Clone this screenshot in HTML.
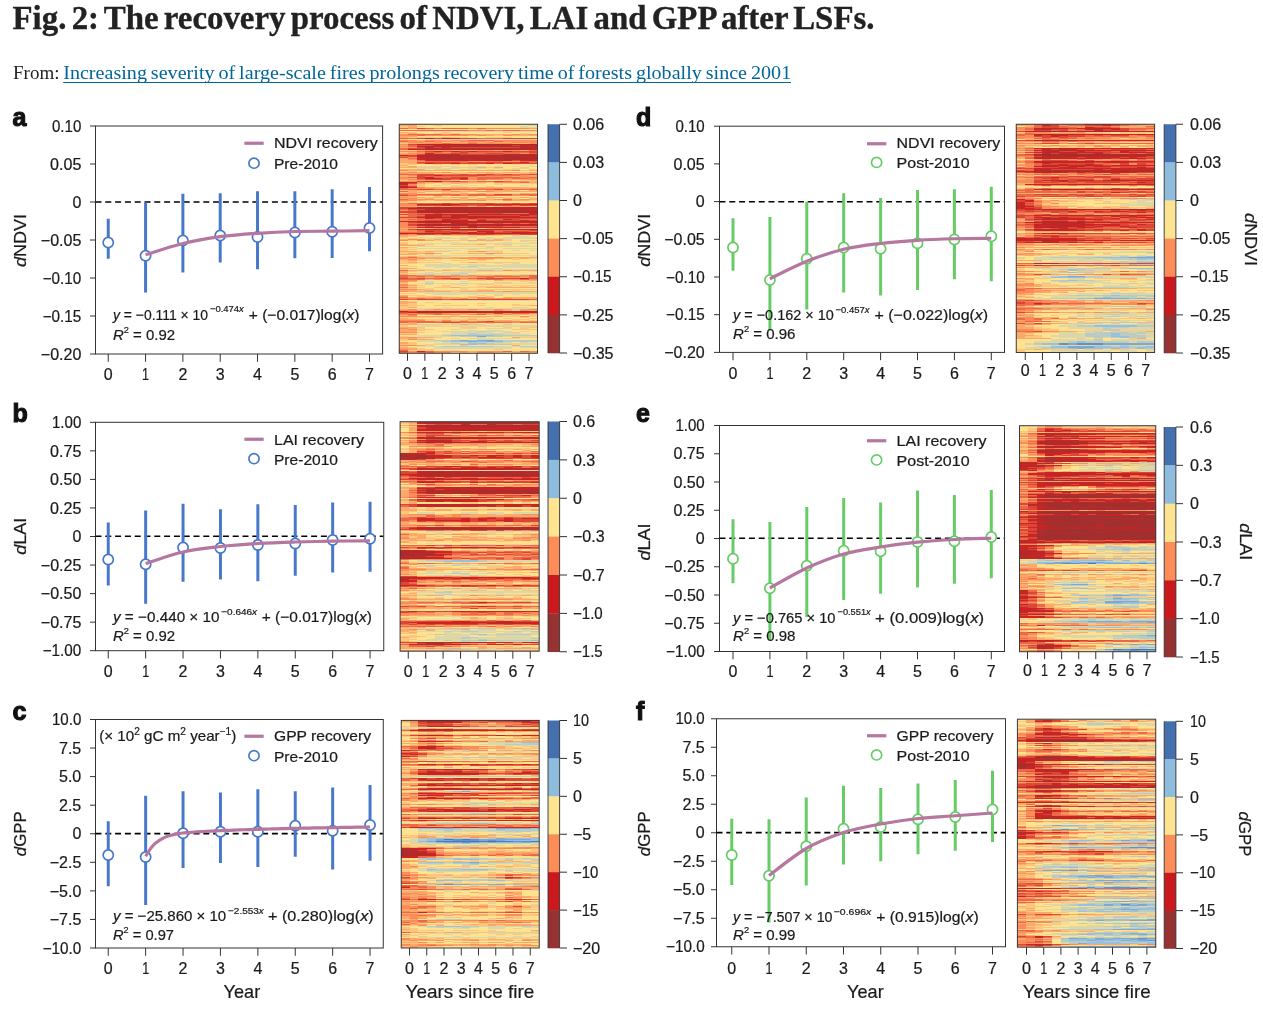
<!DOCTYPE html>
<html><head><meta charset="utf-8"><title>Fig. 2</title>
<style>
html,body{margin:0;padding:0;background:#fff;}
body{width:1263px;height:1015px;overflow:hidden;position:relative;font-family:"Liberation Sans",sans-serif;}
svg{position:absolute;left:0;top:0;display:block;will-change:transform;opacity:0.999}
svg text{font-family:"Liberation Sans",sans-serif;stroke:#1a1a1a;stroke-width:0.22px;paint-order:stroke fill}
svg text.ser{font-family:"Liberation Serif",serif;stroke-width:0}
</style></head><body>
<svg width="1263" height="1015" viewBox="0 0 1263 1015">
<text class="ser" x="12.5" y="29.1" font-size="33.5" font-weight="bold" fill="#222" style="stroke:#222;stroke-width:0.35px" word-spacing="-3" textLength="862" lengthAdjust="spacingAndGlyphs">Fig. 2: The recovery process of NDVI, LAI and GPP after LSFs.</text>
<text class="ser" x="13" y="79.4" font-size="18.3" fill="#222" textLength="46.5" lengthAdjust="spacingAndGlyphs">From:</text>
<text class="ser" x="63.2" y="79.4" font-size="18.3" fill="#006699" word-spacing="-1" textLength="728" lengthAdjust="spacingAndGlyphs">Increasing severity of large-scale fires prolongs recovery time of forests globally since 2001</text>
<path d="M63.2 82.5H791" stroke="#006699" stroke-width="1.1"/>
<g transform="translate(0,124.75) scale(1,1.0002)" stroke-width="1.06" fill="none" shape-rendering="crispEdges">
<path stroke="rgb(160,48,48)" d="M434 20h8M451 20h17M494 20h9M529 20h8.5M477 25h9M494 25h18M425 31h9M503 31h9M434 97h17M451 100h9"/>
<path stroke="rgb(160,48,48)" d="M425 20h9M442 20h9M468 20h26M503 20h26M425 25h9M442 25h9M460 25h8M486 25h8M512 25h17M434 31h8M451 31h26M486 31h17M520 31h17.5M442 32h9M512 32h8M434 34h17M460 34h8M477 34h9M529 34h8.5M494 83h9M417 84h77M503 84h17M512 87h8M460 88h8M503 88h9M520 88h9M425 97h9M451 97h9M477 97h9M503 97h9M529 97h8.5M434 100h17M460 100h8M486 100h8M512 100h8M425 187h9M460 187h8M417 188h8"/>
<path stroke="rgb(175,44,44)" d="M417 20h8M494 21h9M425 22h9M460 22h8M434 25h8M451 25h9M468 25h9M529 25h8.5M417 31h8M442 31h9M477 31h9M512 31h8M425 32h17M451 32h17M486 32h8M503 32h9M442 33h9M494 33h26M451 34h9M468 34h9M486 34h43M486 35h8M503 35h9M399.2 58h8.8M417 83h34M460 83h26M529 83h8.5M494 84h9M520 84h9M434 86h8M503 86h9M417 87h95M520 87h17.5M417 88h17M442 88h18M468 88h35M512 88h8M529 88h8.5M434 93h8M477 93h9M417 97h8M460 97h17M486 97h17M512 97h17M486 98h8M417 100h17M468 100h18M494 100h18M520 100h17.5M425 105h9M468 105h9M512 105h8M417 109h8M442 109h9M460 109h8M417 187h8M434 187h8M468 187h69.5M494 188h9"/>
<path stroke="rgb(190,39,39)" d="M468 21h18M529 21h8.5M442 22h18M468 22h9M486 22h8M503 22h26M425 24h9M460 24h8M477 24h9M520 24h9M417 25h8M417 32h8M468 32h18M494 32h9M520 32h17.5M417 33h25M451 33h9M468 33h9M520 33h17.5M425 34h9M425 35h9M451 35h17M477 35h9M494 35h9M512 35h17M477 36h9M494 36h18M529 36h8.5M425 54h9M399.2 59h8.8M399.2 63h8.8M434 80h8M451 80h9M451 83h9M486 83h8M503 83h26M408 84h9M529 84h8.5M442 85h26M477 85h9M494 85h9M512 85h17M425 86h9M442 86h9M460 86h43M512 86h17M434 88h8M434 90h17M460 90h8M477 90h9M494 90h18M520 90h9M451 91h9M425 92h9M468 92h9M417 93h17M442 93h35M486 93h43M425 98h9M451 98h9M468 98h9M494 98h9M417 101h8M434 101h52M494 101h26M529 101h8.5M425 103h35M468 103h18M442 105h26M477 105h35M520 105h17.5M425 109h17M451 109h9M468 109h61M399.2 187h8.8M442 187h18M425 188h17M451 188h43M503 188h17M529 188h8.5"/>
<path stroke="rgb(205,35,35)" d="M425 14h9M442 14h18M434 21h34M486 21h8M503 21h9M520 21h9M417 22h8M434 22h8M477 22h9M494 22h9M529 22h8.5M425 23h9M442 23h9M520 23h17.5M434 24h26M468 24h9M486 24h34M529 24h8.5M408 25h9M434 27h8M451 27h9M468 27h9M503 27h9M425 29h9M425 30h35M503 30h34.5M399.2 31h8.8M460 33h8M477 33h17M417 34h8M417 35h8M434 35h17M468 35h9M529 35h8.5M425 36h52M486 36h8M520 36h9M520 38h9M425 39h9M451 39h9M486 39h8M503 39h9M434 51h8M425 53h9M434 54h8M460 54h8M425 57h17M408 58h9M399.2 60h8.8M399.2 62h8.8M408 63h9M417 80h17M442 80h9M486 80h51.5M442 81h9M425 85h17M468 85h9M486 85h8M503 85h9M529 85h8.5M417 86h8M451 86h9M529 86h8.5M529 89h8.5M425 90h9M451 90h9M468 90h9M486 90h8M512 90h8M529 90h8.5M425 91h17M460 91h8M520 91h9M434 92h8M451 92h17M477 92h43M529 93h8.5M425 94h9M451 94h9M468 94h9M442 95h9M503 95h9M442 96h26M477 96h9M520 96h9M399.2 97h17.8M417 98h8M434 98h17M460 98h8M477 98h9M503 98h34.5M451 99h17M425 101h9M486 101h8M520 101h9M468 102h9M417 103h8M460 103h8M486 103h34M417 105h8M434 105h8M425 107h9M477 107h17M451 108h9M468 108h9M486 108h8M512 108h25.5M399.2 109h17.8M529 109h8.5M520 154h9M408 188h9M442 188h9M520 188h9M417 227h8"/>
<path stroke="rgb(220,70,53)" d="M417 4h8M417 14h8M434 14h8M460 14h17M503 14h34.5M408 20h9M417 21h17M512 21h8M417 23h8M434 23h8M451 23h69M408 24h17M425 27h9M442 27h9M460 27h8M477 27h26M512 27h25.5M460 28h8M529 28h8.5M451 29h17M486 29h17M417 30h8M460 30h43M408 31h9M408 32h9M399.2 33h8.8M512 36h8M417 38h43M468 38h52M434 39h17M460 39h26M512 39h25.5M417 50h17M460 50h8M477 50h17M503 50h9M529 50h8.5M417 51h17M442 51h44M417 52h8M417 53h8M451 53h17M417 54h8M442 54h18M425 55h26M460 55h8M417 57h8M451 57h9M494 57h9M408 59h9M399.2 61h8.8M408 62h9M417 65h17M442 65h9M494 65h9M494 70h18M399.2 71h8.8M442 79h9M460 79h34M512 79h8M529 79h8.5M460 80h26M417 81h25M451 81h17M477 81h35M520 81h17.5M399.2 83h17.8M399.2 84h8.8M408 85h17M399.2 87h17.8M399.2 88h17.8M434 89h8M468 89h35M399.2 90h8.8M417 90h8M442 91h9M468 91h52M529 91h8.5M417 92h8M442 92h9M520 92h17.5M399.2 93h17.8M434 94h17M460 94h8M477 94h60.5M451 95h17M477 95h9M512 95h8M425 96h17M486 96h34M529 96h8.5M408 98h9M425 99h17M468 99h9M494 99h9M512 99h8M529 99h8.5M408 100h9M408 101h9M425 102h9M451 102h9M477 102h26M520 103h17.5M408 105h9M425 106h17M451 106h43M529 106h8.5M434 107h17M503 107h26M425 108h26M460 108h8M477 108h9M494 108h18M417 110h17M442 110h9M468 110h26M520 110h17.5M399.2 154h8.8M417 154h8M442 154h18M477 154h43M399.2 175h8.8M417 175h25M451 175h78M408 187h9M399.2 188h8.8M494 189h9M486 197h8M442 198h18M399.2 227h8.8"/>
<path stroke="rgb(235,105,72)" d="M399.2 4h8.8M425 4h9M442 4h26M477 4h9M399.2 6h68.8M486 6h8M503 6h17M408 10h34M451 10h9M417 11h8M399.2 14h17.8M477 14h26M468 16h26M399.2 17h8.8M425 17h9M494 17h9M442 19h9M468 19h9M408 21h9M408 22h9M399.2 24h8.8M399.2 25h8.8M529 26h8.5M417 27h8M425 28h17M451 28h9M468 28h61M434 29h17M468 29h18M503 29h17M529 29h8.5M399.2 32h8.8M408 34h9M417 36h8M425 37h43M486 37h17M520 37h17.5M460 38h8M529 38h8.5M417 39h8M494 39h9M399.2 50h17.8M434 50h26M468 50h9M494 50h9M512 50h17M486 51h34M425 52h52M408 53h9M434 53h17M477 53h43M529 53h8.5M477 54h26M512 54h17M417 55h8M451 55h9M477 55h9M442 57h9M460 57h8M477 57h17M503 57h9M520 58h9M399.2 64h8.8M399.2 65h17.8M434 65h8M451 65h43M512 65h25.5M399.2 67h8.8M399.2 70h8.8M417 70h43M468 70h18M520 70h17.5M408 71h9M434 71h8M451 71h9M468 71h44M529 71h8.5M399.2 75h8.8M503 75h9M408 79h34M451 79h9M494 79h18M520 79h9M468 81h9M512 81h8M399.2 85h8.8M408 86h9M408 89h26M442 89h26M503 89h26M408 90h9M408 91h17M408 92h9M417 94h8M408 95h34M468 95h9M486 95h17M520 95h17.5M417 96h8M468 96h9M408 99h17M442 99h9M477 99h17M503 99h9M520 99h9M417 102h8M434 102h17M460 102h8M503 102h34.5M408 103h9M451 104h9M417 106h8M442 106h9M494 106h35M417 107h8M451 107h17M494 107h9M529 107h8.5M399.2 108h25.8M399.2 110h8.8M434 110h8M451 110h17M494 110h26M408 133h9M399.2 146h8.8M399.2 151h17.8M529 151h8.5M399.2 152h8.8M417 152h8M434 152h17M477 152h43M529 152h8.5M399.2 153h8.8M486 153h8M529 153h8.5M408 154h9M425 154h17M468 154h9M529 154h8.5M399.2 155h25.8M451 155h9M486 155h17M520 155h9M399.2 163h8.8M399.2 173h8.8M417 174h8M408 175h9M442 175h9M529 175h8.5M399.2 189h8.8M417 189h25M512 189h17M408 190h9M434 190h8M477 190h9M399.2 197h34.8M442 197h9M460 197h8M477 197h9M399.2 198h8.8M417 198h25M460 198h52M520 198h17.5M399.2 226h8.8M425 227h9M503 227h9M520 227h9M399.2 228h8.8M417 228h17"/>
<path stroke="rgb(250,140,90)" d="M408 4h9M434 4h8M468 4h9M486 4h43M468 6h18M494 6h9M520 6h17.5M399.2 10h8.8M442 10h9M460 10h17M512 10h8M529 10h8.5M399.2 11h17.8M425 11h43M477 11h9M503 11h9M399.2 16h17.8M425 16h17M451 16h17M494 16h43.5M408 17h17M434 17h17M460 17h26M503 17h34.5M408 18h17M434 18h8M468 18h9M486 18h8M512 18h25.5M425 19h17M451 19h17M477 19h35M529 19h8.5M399.2 20h8.8M399.2 22h8.8M408 23h9M425 26h9M442 26h9M460 26h8M477 26h17M503 26h17M399.2 27h17.8M417 28h8M442 28h9M408 29h17M520 29h9M399.2 30h17.8M408 33h9M408 35h9M417 37h8M468 37h18M503 37h17M399.2 46h8.8M512 46h8M408 48h9M442 48h9M399.2 49h8.8M408 51h9M520 51h9M477 52h35M520 52h9M399.2 53h8.8M468 53h9M520 53h9M399.2 54h8.8M468 54h9M503 54h9M529 54h8.5M408 55h9M468 55h9M486 55h17M529 55h8.5M399.2 57h17.8M468 57h9M512 57h17M417 58h8M434 58h8M460 58h8M494 58h26M408 60h9M408 61h9M417 63h8M408 64h26M451 64h17M477 64h26M529 64h8.5M503 65h9M442 66h9M451 67h9M477 67h17M399.2 69h17.8M408 70h9M460 70h8M486 70h8M512 70h8M417 71h17M442 71h9M460 71h8M512 71h17M399.2 73h8.8M408 74h9M408 75h26M451 75h9M468 75h9M494 75h9M520 75h9M399.2 76h17.8M477 76h9M503 76h9M399.2 79h8.8M399.2 80h17.8M399.2 81h17.8M434 82h8M451 82h17M477 82h9M503 82h17M399.2 86h8.8M399.2 92h8.8M399.2 94h17.8M399.2 95h8.8M399.2 96h17.8M399.2 98h8.8M399.2 99h8.8M399.2 100h8.8M399.2 101h8.8M399.2 102h17.8M399.2 103h8.8M434 104h8M468 104h9M494 104h9M399.2 105h8.8M408 106h9M399.2 107h17.8M468 107h9M408 110h9M408 115h17M399.2 116h8.8M417 116h8M477 127h9M425 129h9M486 129h8M399.2 133h8.8M468 133h35M399.2 134h8.8M417 134h8M460 134h8M477 134h17M408 135h9M503 146h9M417 151h17M451 151h9M468 151h9M494 151h18M520 151h9M408 152h9M425 152h9M451 152h26M520 152h9M408 153h17M434 153h17M477 153h9M503 153h17M460 154h8M434 155h17M477 155h9M503 155h17M529 155h8.5M399.2 156h17.8M399.2 157h8.8M399.2 160h8.8M399.2 161h8.8M399.2 165h17.8M399.2 167h8.8M503 167h9M399.2 172h8.8M434 173h8M477 173h9M399.2 174h17.8M425 174h17M460 174h8M477 174h35M408 185h9M434 185h8M468 185h9M494 185h9M529 185h8.5M399.2 186h17.8M494 186h9M520 186h9M408 189h9M442 189h9M460 189h8M477 189h17M503 189h9M529 189h8.5M399.2 190h8.8M425 190h9M442 190h18M468 190h9M503 190h9M408 191h9M399.2 192h17.8M520 192h9M399.2 196h25.8M442 196h9M434 197h8M451 197h9M468 197h9M494 197h43.5M408 198h9M512 198h8M399.2 204h8.8M408 205h9M399.2 208h17.8M408 213h9M408 215h9M399.2 221h17.8M399.2 225h8.8M408 227h9M434 227h34M477 227h26M529 227h8.5M408 228h9M434 228h17M477 228h17"/>
<path stroke="rgb(251,169,107)" d="M408 0h9M399.2 1h17.8M408 2h9M408 3h9M529 4h8.5M399.2 8h8.8M408 9h9M477 10h35M520 10h9M468 11h9M486 11h8M512 11h25.5M399.2 12h17.8M399.2 13h8.8M442 13h9M417 16h8M442 16h9M451 17h9M486 17h8M399.2 18h8.8M425 18h9M451 18h17M477 18h9M494 18h18M408 19h17M512 19h17M399.2 21h8.8M399.2 23h8.8M417 26h8M434 26h8M451 26h9M468 26h9M494 26h9M520 26h9M408 28h9M399.2 29h8.8M399.2 34h8.8M399.2 35h8.8M399.2 36h17.8M399.2 37h17.8M399.2 38h17.8M408 39h9M399.2 41h8.8M408 42h9M399.2 43h17.8M477 43h9M494 43h9M399.2 45h25.8M408 46h104M529 46h8.5M399.2 48h8.8M417 48h25M468 48h26M503 48h17M529 48h8.5M408 49h26M451 49h9M486 49h17M520 49h17.5M399.2 51h8.8M529 51h8.5M399.2 52h17.8M512 52h8M529 52h8.5M408 54h9M399.2 55h8.8M503 55h26M408 56h43M529 57h8.5M425 58h9M442 58h18M468 58h18M529 58h8.5M417 59h8M451 59h9M425 63h104M434 64h17M468 64h9M503 64h26M408 66h17M468 66h9M486 66h26M529 66h8.5M408 67h9M425 67h26M460 67h17M494 67h43.5M408 68h17M442 69h9M460 69h8M477 69h9M520 69h17.5M399.2 72h17.8M408 73h17M434 73h8M451 73h17M486 73h17M520 73h9M399.2 74h8.8M425 74h9M460 74h8M477 74h9M503 74h9M529 74h8.5M434 75h17M460 75h8M477 75h17M512 75h8M529 75h8.5M417 76h8M434 76h43M512 76h17M399.2 77h8.8M399.2 82h34.8M442 82h9M468 82h9M494 82h9M520 82h17.5M399.2 89h8.8M399.2 91h8.8M399.2 104h17.8M425 104h9M442 104h9M486 104h8M503 104h34.5M399.2 106h8.8M399.2 111h17.8M477 111h9M399.2 112h8.8M399.2 115h8.8M434 115h8M477 115h9M494 115h9M425 116h9M468 116h35M399.2 120h8.8M477 120h9M399.2 121h25.8M399.2 123h8.8M399.2 127h17.8M425 127h9M468 127h9M408 129h17M434 129h8M468 129h18M494 129h9M399.2 130h17.8M408 132h9M417 133h25M451 133h17M503 133h34.5M408 134h9M425 134h35M468 134h9M494 134h18M520 134h9M399.2 135h8.8M468 135h18M408 136h9M408 138h9M468 138h9M399.2 141h8.8M399.2 144h17.8M408 146h17M442 146h9M477 146h17M512 146h25.5M399.2 147h8.8M399.2 148h8.8M399.2 150h8.8M434 151h17M460 151h8M477 151h17M512 151h8M425 153h9M451 153h26M494 153h9M520 153h9M425 155h9M460 155h17M494 156h9M529 156h8.5M408 157h9M399.2 158h8.8M408 161h9M399.2 162h8.8M408 163h9M451 163h9M486 163h51.5M399.2 164h8.8M417 165h8M399.2 166h17.8M425 166h9M477 166h17M408 167h43M460 167h43M512 167h25.5M399.2 171h8.8M408 173h26M442 173h18M468 173h9M486 173h8M503 173h34.5M442 174h18M512 174h25.5M399.2 177h8.8M399.2 178h17.8M399.2 179h8.8M399.2 181h8.8M529 181h8.5M408 183h9M399.2 185h8.8M425 185h9M442 185h26M477 185h17M503 185h9M520 185h9M417 186h60M503 186h9M529 186h8.5M451 189h9M468 189h9M417 190h8M460 190h8M486 190h17M512 190h17M399.2 191h8.8M417 192h86M399.2 194h8.8M399.2 195h25.8M468 195h9M460 196h8M494 196h18M408 199h9M399.2 200h17.8M460 200h8M399.2 203h17.8M408 204h9M399.2 205h8.8M399.2 206h17.8M399.2 207h17.8M399.2 210h17.8M399.2 213h8.8M417 213h17M512 213h8M399.2 214h17.8M417 215h17M399.2 218h8.8M399.2 219h8.8M417 221h8M512 221h8M399.2 223h8.8M399.2 224h17.8M408 225h9M468 227h9M512 227h8M460 228h8M494 228h9M512 228h25.5"/>
<path stroke="rgb(253,197,125)" d="M399.2 0h8.8M417 0h17M434 1h8M399.2 2h8.8M417 2h8M399.2 3h8.8M417 5h17M477 5h9M408 8h9M442 8h9M503 8h9M399.2 9h8.8M417 9h8M434 9h26M520 9h9M494 11h9M408 13h34M451 13h17M486 13h26M399.2 15h8.8M442 18h9M399.2 19h8.8M399.2 26h17.8M399.2 28h8.8M399.2 39h8.8M399.2 40h17.8M434 40h8M451 40h9M468 40h9M512 40h8M399.2 42h8.8M417 43h25M451 43h26M486 43h8M520 43h9M434 45h17M460 45h17M486 45h8M503 45h17M529 45h8.5M520 46h9M399.2 47h17.8M451 48h17M494 48h9M520 48h9M434 49h17M460 49h26M503 49h17M399.2 56h8.8M451 56h9M468 56h18M503 56h9M520 56h17.5M486 58h8M425 59h9M442 59h9M460 59h26M494 59h43.5M417 60h8M417 61h8M417 62h8M451 62h17M486 62h8M529 63h8.5M399.2 66h8.8M425 66h17M451 66h17M512 66h8M417 67h8M399.2 68h8.8M442 68h26M486 68h17M417 69h25M451 69h9M468 69h9M486 69h34M434 72h8M468 72h9M486 72h8M425 73h9M442 73h9M468 73h9M503 73h17M529 73h8.5M417 74h8M442 74h9M486 74h8M512 74h8M425 76h9M486 76h17M529 76h8.5M408 77h9M399.2 78h17.8M486 82h8M417 104h8M460 104h8M477 104h9M417 111h8M434 111h43M486 111h17M512 111h8M408 112h9M468 112h9M399.2 113h8.8M408 114h9M425 115h9M460 115h8M486 115h8M503 115h9M408 116h9M434 116h34M503 116h9M520 116h17.5M399.2 118h8.8M399.2 119h8.8M408 120h26M451 120h26M494 120h18M408 123h9M486 123h8M399.2 124h8.8M399.2 125h17.8M468 125h9M399.2 126h8.8M417 127h8M434 127h17M486 127h17M399.2 128h34.8M494 128h9M399.2 129h8.8M451 129h17M503 129h26M425 130h9M486 130h8M399.2 132h8.8M417 132h8M442 133h9M512 134h8M529 134h8.5M417 135h8M434 135h8M486 135h8M512 135h8M399.2 136h8.8M417 136h17M451 136h17M477 136h9M399.2 137h17.8M399.2 138h8.8M417 138h25M460 138h8M477 138h43M399.2 139h17.8M408 142h9M399.2 143h8.8M399.2 145h8.8M425 146h17M451 146h26M494 146h9M408 147h9M399.2 149h17.8M417 156h8M468 156h18M503 156h26M520 157h9M494 158h18M529 158h8.5M399.2 159h8.8M408 160h9M477 160h17M417 161h8M442 161h9M494 161h9M512 161h25.5M408 162h9M442 162h9M477 162h35M520 162h9M417 163h8M434 163h17M460 163h26M408 164h9M425 165h9M460 165h8M477 165h60.5M417 166h8M434 166h43M512 166h8M451 167h9M399.2 169h17.8M408 171h17M477 171h9M494 171h9M417 172h25M468 172h9M486 172h8M460 173h8M468 174h9M408 177h9M425 178h9M408 179h9M442 179h9M477 179h9M399.2 180h17.8M512 180h8M408 181h17M434 181h34M477 181h9M512 181h17M399.2 182h17.8M399.2 183h8.8M399.2 184h8.8M417 185h8M512 185h8M477 186h17M512 186h8M529 190h8.5M451 191h9M494 191h9M512 191h8M529 191h8.5M503 192h17M529 192h8.5M399.2 193h51.8M460 193h26M520 193h9M408 194h9M442 194h9M468 194h9M486 194h8M503 194h9M529 194h8.5M425 195h43M477 195h17M512 195h17M425 196h17M451 196h9M468 196h26M512 196h8M529 196h8.5M399.2 199h8.8M451 199h9M468 199h9M486 199h8M417 200h43M468 200h18M503 200h9M399.2 201h8.8M399.2 202h8.8M417 203h8M460 203h17M503 203h9M520 203h17.5M417 204h8M520 204h9M417 205h17M451 205h9M512 205h25.5M417 206h8M417 208h8M512 208h8M399.2 209h17.8M399.2 212h8.8M434 213h8M520 213h17.5M417 214h8M399.2 215h8.8M399.2 216h8.8M408 218h9M408 219h9M399.2 220h17.8M425 221h9M460 221h8M399.2 222h8.8M408 223h9M417 224h8M417 225h17M494 225h9M408 226h26M451 228h9M468 228h9M503 228h9"/>
<path stroke="rgb(254,226,142)" d="M434 0h43M486 0h51.5M417 1h17M442 1h87M425 2h95M529 2h8.5M417 3h103M399.2 5h17.8M434 5h43M486 5h51.5M399.2 7h17.8M417 8h25M451 8h52M512 8h25.5M425 9h9M460 9h60M529 9h8.5M417 12h120.5M468 13h18M512 13h25.5M408 15h17M417 40h17M442 40h9M460 40h8M477 40h35M520 40h17.5M408 41h129.5M460 42h8M486 42h8M503 42h9M520 42h9M442 43h9M503 43h17M529 43h8.5M399.2 44h17.8M460 44h8M486 44h8M503 44h9M529 44h8.5M425 45h9M451 45h9M477 45h9M494 45h9M520 45h9M417 47h120.5M460 56h8M486 56h17M512 56h8M434 59h8M486 59h8M425 60h17M451 60h9M468 60h26M503 60h34.5M425 61h9M442 61h9M460 61h8M477 61h43M529 61h8.5M425 62h26M468 62h18M494 62h43.5M477 66h9M520 66h9M425 68h17M468 68h18M503 68h34.5M417 72h17M442 72h26M477 72h9M494 72h43.5M477 73h9M434 74h8M451 74h9M468 74h9M494 74h9M520 74h9M417 77h120.5M417 78h120.5M425 111h9M503 111h9M520 111h17.5M417 112h51M477 112h35M529 112h8.5M408 113h9M425 113h9M451 113h9M477 113h9M494 113h9M399.2 114h8.8M417 114h8M468 114h9M442 115h18M468 115h9M512 115h25.5M512 116h8M399.2 117h42.8M451 117h17M477 117h9M494 117h26M529 117h8.5M408 118h43M460 118h43M512 118h17M408 119h9M434 120h17M486 120h8M512 120h25.5M425 121h78M512 121h8M529 121h8.5M399.2 122h17.8M417 123h69M494 123h43.5M408 124h9M494 124h9M417 125h51M477 125h60.5M408 126h26M460 126h26M503 126h9M520 126h9M451 127h17M503 127h34.5M434 128h60M503 128h34.5M442 129h9M529 129h8.5M417 130h8M434 130h52M494 130h43.5M399.2 131h17.8M451 132h78M425 135h9M442 135h26M494 135h18M520 135h17.5M434 136h17M468 136h9M486 136h51.5M417 137h120.5M442 138h18M520 138h17.5M417 139h25M451 139h43M503 139h9M520 139h17.5M399.2 140h25.8M486 140h17M408 141h17M460 141h8M399.2 142h8.8M417 142h8M408 143h26M451 143h9M477 143h26M417 144h60M503 144h34.5M408 145h9M434 145h8M417 147h17M442 147h18M503 147h9M520 147h9M408 148h17M434 148h8M477 148h60.5M468 149h69.5M408 150h9M503 150h9M425 156h43M486 156h8M417 157h8M434 157h26M468 157h52M529 157h8.5M408 158h17M434 158h60M512 158h17M408 159h9M417 160h8M434 160h17M460 160h17M494 160h43.5M425 161h17M451 161h9M468 161h26M503 161h9M417 162h25M451 162h26M512 162h8M529 162h8.5M425 163h9M417 164h8M434 164h26M468 164h69.5M434 165h26M468 165h9M494 166h18M520 166h17.5M399.2 168h17.8M417 169h8M399.2 170h34.8M460 170h8M477 170h17M503 170h9M520 170h17.5M425 171h52M486 171h8M503 171h34.5M408 172h9M442 172h26M477 172h9M494 172h43.5M494 173h9M399.2 176h17.8M417 177h120.5M417 178h8M434 178h103.5M417 179h25M451 179h26M486 179h51.5M417 180h95M520 180h17.5M425 181h9M468 181h9M486 181h26M417 182h120.5M417 183h25M451 183h35M494 183h18M529 183h8.5M408 184h9M417 191h34M460 191h34M503 191h9M520 191h9M451 193h9M486 193h34M529 193h8.5M417 194h25M451 194h17M477 194h9M494 194h9M512 194h17M494 195h18M529 195h8.5M520 196h9M417 199h34M460 199h8M477 199h9M494 199h43.5M486 200h17M512 200h25.5M408 201h9M442 201h9M408 202h9M425 203h35M477 203h26M512 203h8M425 204h35M477 204h9M512 204h8M529 204h8.5M434 205h17M460 205h52M425 206h43M477 206h9M503 206h34.5M417 207h25M512 207h8M529 207h8.5M425 208h26M494 208h9M520 208h17.5M417 209h34M520 209h17.5M417 210h25M529 210h8.5M399.2 211h17.8M408 212h9M442 213h35M486 213h26M425 214h26M460 214h8M520 214h17.5M434 215h43M494 215h43.5M408 216h9M399.2 217h17.8M417 218h25M512 218h8M529 218h8.5M417 219h17M417 220h8M434 221h26M468 221h44M520 221h17.5M408 222h9M417 223h17M512 223h8M425 224h9M512 224h25.5M434 225h60M503 225h34.5M434 226h8M460 226h43M512 226h25.5"/>
<path stroke="rgb(219,215,169)" d="M477 0h9M529 1h8.5M520 2h9M520 3h17.5M417 7h120.5M425 15h112.5M417 42h43M468 42h18M494 42h9M512 42h8M529 42h8.5M417 44h43M468 44h18M494 44h9M512 44h17M442 60h9M460 60h8M494 60h9M434 61h8M451 61h9M468 61h9M520 61h9M512 112h17M417 113h8M434 113h17M460 113h17M486 113h8M503 113h34.5M425 114h43M477 114h60.5M442 117h9M468 117h9M486 117h8M520 117h9M451 118h9M503 118h9M529 118h8.5M417 119h120.5M503 121h9M520 121h9M417 122h120.5M417 124h77M503 124h34.5M434 126h26M486 126h17M512 126h8M529 126h8.5M417 131h120.5M425 132h26M529 132h8.5M442 139h9M494 139h9M512 139h8M425 140h61M503 140h34.5M425 141h35M468 141h69.5M425 142h43M477 142h60.5M434 143h17M460 143h17M503 143h34.5M477 144h26M417 145h17M442 145h95.5M434 147h8M460 147h43M512 147h8M529 147h8.5M425 148h9M442 148h35M417 149h43M417 150h8M434 150h17M460 150h43M512 150h25.5M425 157h9M460 157h8M425 158h9M417 159h8M434 159h26M468 159h69.5M425 160h9M451 160h9M460 161h8M425 164h9M460 164h8M417 168h120.5M425 169h112.5M434 170h26M468 170h9M494 170h9M512 170h8M417 176h120.5M442 183h9M486 183h8M512 183h17M417 184h120.5M417 201h25M451 201h86.5M417 202h120.5M460 204h17M486 204h26M468 206h9M486 206h17M442 207h35M486 207h26M520 207h9M451 208h43M503 208h9M451 209h17M477 209h43M442 210h26M503 210h26M417 211h25M417 212h43M503 212h34.5M477 213h9M451 214h9M468 214h52M477 215h17M417 216h17M417 217h25M442 218h26M486 218h8M503 218h9M520 218h9M434 219h17M460 219h8M494 219h43.5M425 220h35M512 220h25.5M417 222h25M494 222h26M434 223h78M520 223h17.5M434 224h78M442 226h18M503 226h9"/>
<path stroke="rgb(185,203,195)" d="M468 142h9M460 149h8M425 150h9M451 150h9M425 159h9M460 159h8M477 207h9M468 209h9M468 210h35M442 211h9M494 211h43.5M460 212h17M486 212h17M434 216h17M503 216h34.5M442 217h9M503 217h34.5M468 218h18M494 218h9M451 219h9M486 219h8M477 220h35M442 222h52M520 222h17.5"/>
<path stroke="rgb(150,192,222)" d="M451 211h43M451 216h9M468 216h9M494 216h9M451 217h17M477 217h9M494 217h9M468 219h18M460 220h17"/>
<path stroke="rgb(124,168,211)" d="M477 212h9M460 216h8M477 216h17M468 217h9M486 217h8"/>
</g>
<rect x="399.25" y="124.25" width="138.25" height="229.05" fill="none" stroke="#3a3a3a" stroke-width="1"/>
<path d="M407.50 353.30V360.80" stroke="#333" stroke-width="1"/>
<text x="407.50" y="379.00" font-size="16" text-anchor="middle" fill="#1a1a1a" textLength="8.9" lengthAdjust="spacingAndGlyphs" >0</text>
<path d="M424.86 353.30V360.80" stroke="#333" stroke-width="1"/>
<text x="424.86" y="379.00" font-size="16" text-anchor="middle" fill="#1a1a1a" textLength="7.0" lengthAdjust="spacingAndGlyphs" >1</text>
<path d="M442.22 353.30V360.80" stroke="#333" stroke-width="1"/>
<text x="442.22" y="379.00" font-size="16" text-anchor="middle" fill="#1a1a1a" textLength="8.9" lengthAdjust="spacingAndGlyphs" >2</text>
<path d="M459.58 353.30V360.80" stroke="#333" stroke-width="1"/>
<text x="459.58" y="379.00" font-size="16" text-anchor="middle" fill="#1a1a1a" textLength="8.9" lengthAdjust="spacingAndGlyphs" >3</text>
<path d="M476.94 353.30V360.80" stroke="#333" stroke-width="1"/>
<text x="476.94" y="379.00" font-size="16" text-anchor="middle" fill="#1a1a1a" textLength="8.9" lengthAdjust="spacingAndGlyphs" >4</text>
<path d="M494.30 353.30V360.80" stroke="#333" stroke-width="1"/>
<text x="494.30" y="379.00" font-size="16" text-anchor="middle" fill="#1a1a1a" textLength="8.9" lengthAdjust="spacingAndGlyphs" >5</text>
<path d="M511.66 353.30V360.80" stroke="#333" stroke-width="1"/>
<text x="511.66" y="379.00" font-size="16" text-anchor="middle" fill="#1a1a1a" textLength="8.9" lengthAdjust="spacingAndGlyphs" >6</text>
<path d="M529.02 353.30V360.80" stroke="#333" stroke-width="1"/>
<text x="529.02" y="379.00" font-size="16" text-anchor="middle" fill="#1a1a1a" textLength="8.9" lengthAdjust="spacingAndGlyphs" >7</text>
<rect x="548.00" y="124.25" width="11.60" height="38.42" fill="#4470B0"/>
<rect x="548.00" y="162.38" width="11.60" height="38.42" fill="#8FBBDD"/>
<rect x="548.00" y="200.50" width="11.60" height="38.42" fill="#FEE391"/>
<rect x="548.00" y="238.62" width="11.60" height="38.42" fill="#FC8D59"/>
<rect x="548.00" y="276.75" width="11.60" height="38.42" fill="#CB181D"/>
<rect x="548.00" y="314.88" width="11.60" height="38.42" fill="#963232"/>
<path d="M548.00 124.25V353.00M559.60 124.25V353.00" stroke="#333" stroke-width="0.9" fill="none"/>
<path d="M559.60 124.25H567.00" stroke="#333" stroke-width="1" fill="none"/>
<text x="573.00" y="129.95" font-size="16" text-anchor="start" fill="#1a1a1a" textLength="31.2" lengthAdjust="spacingAndGlyphs" >0.06</text>
<path d="M559.60 162.38H567.00" stroke="#333" stroke-width="1" fill="none"/>
<text x="573.00" y="168.07" font-size="16" text-anchor="start" fill="#1a1a1a" textLength="31.2" lengthAdjust="spacingAndGlyphs" >0.03</text>
<path d="M559.60 200.50H567.00" stroke="#333" stroke-width="1" fill="none"/>
<text x="573.00" y="206.20" font-size="16" text-anchor="start" fill="#1a1a1a" textLength="8.9" lengthAdjust="spacingAndGlyphs" >0</text>
<path d="M559.60 238.62H567.00" stroke="#333" stroke-width="1" fill="none"/>
<text x="573.00" y="244.32" font-size="16" text-anchor="start" fill="#1a1a1a" textLength="40.5" lengthAdjust="spacingAndGlyphs" >−0.05</text>
<path d="M559.60 276.75H567.00" stroke="#333" stroke-width="1" fill="none"/>
<text x="573.00" y="282.45" font-size="16" text-anchor="start" fill="#1a1a1a" textLength="38.6" lengthAdjust="spacingAndGlyphs" >−0.15</text>
<path d="M559.60 314.88H567.00" stroke="#333" stroke-width="1" fill="none"/>
<text x="573.00" y="320.57" font-size="16" text-anchor="start" fill="#1a1a1a" textLength="40.5" lengthAdjust="spacingAndGlyphs" >−0.25</text>
<path d="M559.60 353.00H567.00" stroke="#333" stroke-width="1" fill="none"/>
<text x="573.00" y="358.70" font-size="16" text-anchor="start" fill="#1a1a1a" textLength="40.5" lengthAdjust="spacingAndGlyphs" >−0.35</text>
<rect x="95.50" y="126.00" width="287.10" height="228.00" fill="none" stroke="#333" stroke-width="1"/>
<path d="M90.00 126.00H95.50" stroke="#333" stroke-width="1"/>
<text x="81.30" y="131.70" font-size="16" text-anchor="end" fill="#1a1a1a" textLength="29.3" lengthAdjust="spacingAndGlyphs" >0.10</text>
<path d="M90.00 164.00H95.50" stroke="#333" stroke-width="1"/>
<text x="81.30" y="169.70" font-size="16" text-anchor="end" fill="#1a1a1a" textLength="31.2" lengthAdjust="spacingAndGlyphs" >0.05</text>
<path d="M90.00 202.00H95.50" stroke="#333" stroke-width="1"/>
<text x="81.30" y="207.70" font-size="16" text-anchor="end" fill="#1a1a1a" textLength="8.9" lengthAdjust="spacingAndGlyphs" >0</text>
<path d="M90.00 240.00H95.50" stroke="#333" stroke-width="1"/>
<text x="81.30" y="245.70" font-size="16" text-anchor="end" fill="#1a1a1a" textLength="40.5" lengthAdjust="spacingAndGlyphs" >−0.05</text>
<path d="M90.00 278.00H95.50" stroke="#333" stroke-width="1"/>
<text x="81.30" y="283.70" font-size="16" text-anchor="end" fill="#1a1a1a" textLength="38.6" lengthAdjust="spacingAndGlyphs" >−0.10</text>
<path d="M90.00 316.00H95.50" stroke="#333" stroke-width="1"/>
<text x="81.30" y="321.70" font-size="16" text-anchor="end" fill="#1a1a1a" textLength="38.6" lengthAdjust="spacingAndGlyphs" >−0.15</text>
<path d="M90.00 354.00H95.50" stroke="#333" stroke-width="1"/>
<text x="81.30" y="359.70" font-size="16" text-anchor="end" fill="#1a1a1a" textLength="40.5" lengthAdjust="spacingAndGlyphs" >−0.20</text>
<path d="M108.25 354.00V361.80" stroke="#333" stroke-width="1"/>
<text x="108.25" y="380.00" font-size="16" text-anchor="middle" fill="#1a1a1a" textLength="8.9" lengthAdjust="spacingAndGlyphs" >0</text>
<path d="M145.57 354.00V361.80" stroke="#333" stroke-width="1"/>
<text x="145.57" y="380.00" font-size="16" text-anchor="middle" fill="#1a1a1a" textLength="7.0" lengthAdjust="spacingAndGlyphs" >1</text>
<path d="M182.89 354.00V361.80" stroke="#333" stroke-width="1"/>
<text x="182.89" y="380.00" font-size="16" text-anchor="middle" fill="#1a1a1a" textLength="8.9" lengthAdjust="spacingAndGlyphs" >2</text>
<path d="M220.21 354.00V361.80" stroke="#333" stroke-width="1"/>
<text x="220.21" y="380.00" font-size="16" text-anchor="middle" fill="#1a1a1a" textLength="8.9" lengthAdjust="spacingAndGlyphs" >3</text>
<path d="M257.53 354.00V361.80" stroke="#333" stroke-width="1"/>
<text x="257.53" y="380.00" font-size="16" text-anchor="middle" fill="#1a1a1a" textLength="8.9" lengthAdjust="spacingAndGlyphs" >4</text>
<path d="M294.85 354.00V361.80" stroke="#333" stroke-width="1"/>
<text x="294.85" y="380.00" font-size="16" text-anchor="middle" fill="#1a1a1a" textLength="8.9" lengthAdjust="spacingAndGlyphs" >5</text>
<path d="M332.17 354.00V361.80" stroke="#333" stroke-width="1"/>
<text x="332.17" y="380.00" font-size="16" text-anchor="middle" fill="#1a1a1a" textLength="8.9" lengthAdjust="spacingAndGlyphs" >6</text>
<path d="M369.49 354.00V361.80" stroke="#333" stroke-width="1"/>
<text x="369.49" y="380.00" font-size="16" text-anchor="middle" fill="#1a1a1a" textLength="8.9" lengthAdjust="spacingAndGlyphs" >7</text>
<path d="M95.50 202.00H382.10" stroke="#000" stroke-width="1.6" stroke-dasharray="6 3.8"/>
<path d="M108.25 218.75V258.75" stroke="#4878CB" stroke-width="3"/>
<path d="M145.57 202.50V292.50" stroke="#4878CB" stroke-width="3"/>
<path d="M182.89 193.75V272.50" stroke="#4878CB" stroke-width="3"/>
<path d="M220.21 193.25V262.50" stroke="#4878CB" stroke-width="3"/>
<path d="M257.53 191.25V269.25" stroke="#4878CB" stroke-width="3"/>
<path d="M294.85 191.25V258.25" stroke="#4878CB" stroke-width="3"/>
<path d="M332.17 189.25V258.00" stroke="#4878CB" stroke-width="3"/>
<path d="M369.49 187.00V251.25" stroke="#4878CB" stroke-width="3"/>
<circle cx="108.25" cy="242.50" r="5.1" fill="#fff" stroke="#4878CB" stroke-width="1.7"/>
<circle cx="145.57" cy="255.75" r="5.1" fill="#fff" stroke="#4878CB" stroke-width="1.7"/>
<circle cx="182.89" cy="240.50" r="5.1" fill="#fff" stroke="#4878CB" stroke-width="1.7"/>
<circle cx="220.21" cy="235.50" r="5.1" fill="#fff" stroke="#4878CB" stroke-width="1.7"/>
<circle cx="257.53" cy="237.00" r="5.1" fill="#fff" stroke="#4878CB" stroke-width="1.7"/>
<circle cx="294.85" cy="232.50" r="5.1" fill="#fff" stroke="#4878CB" stroke-width="1.7"/>
<circle cx="332.17" cy="231.75" r="5.1" fill="#fff" stroke="#4878CB" stroke-width="1.7"/>
<circle cx="369.49" cy="228.00" r="5.1" fill="#fff" stroke="#4878CB" stroke-width="1.7"/>
<path d="M145.57 254.80C151.79 252.92 170.45 246.52 182.89 243.50C195.33 240.48 207.77 238.40 220.21 236.70C232.65 235.00 245.09 234.17 257.53 233.30C269.97 232.43 282.41 231.85 294.85 231.50C307.29 231.15 319.73 231.35 332.17 231.20C344.61 231.05 363.27 230.70 369.49 230.60" fill="none" stroke="#B576A0" stroke-width="3.2" stroke-linecap="butt"/>
<path d="M244.40 143.25H263.70" stroke="#B576A0" stroke-width="3.2"/>
<text x="274.00" y="148.30" font-size="15" text-anchor="start" fill="#1a1a1a" textLength="103.7" lengthAdjust="spacingAndGlyphs" >NDVI recovery</text>
<circle cx="254.00" cy="163.15" r="5.1" fill="#fff" stroke="#4878CB" stroke-width="1.7"/>
<text x="274.00" y="168.75" font-size="15" text-anchor="start" fill="#1a1a1a" textLength="64.0" lengthAdjust="spacingAndGlyphs" >Pre-2010</text>
<text x="113.00" y="319.50" font-size="15" text-anchor="start" fill="#1a1a1a" textLength="95.0" lengthAdjust="spacingAndGlyphs" ><tspan font-style="italic">y</tspan> = −0.111 × 10</text>
<text x="210.00" y="312.30" font-size="9.3" text-anchor="start" fill="#1a1a1a" textLength="33.8" lengthAdjust="spacingAndGlyphs" >−0.474<tspan font-style="italic">x</tspan></text>
<text x="248.75" y="319.50" font-size="15" text-anchor="start" fill="#1a1a1a" textLength="110.8" lengthAdjust="spacingAndGlyphs" >+ (−0.017)log(<tspan font-style="italic">x</tspan>)</text>
<text x="113.00" y="339.50" font-size="15" text-anchor="start" fill="#1a1a1a" textLength="62.0" lengthAdjust="spacingAndGlyphs" ><tspan font-style="italic">R</tspan><tspan dy="-7" font-size="9.3">2</tspan><tspan dy="7"> = 0.92</tspan></text>
<text transform="translate(26.30,240.50) rotate(-90)" font-size="17.3" text-anchor="middle" fill="#1a1a1a" textLength="53.0" lengthAdjust="spacingAndGlyphs"><tspan font-style="italic">d</tspan>NDVI</text>
<text x="12.50" y="126.00" font-size="25" font-weight="bold" fill="#111" style="stroke:#111;stroke-width:1.1px">a</text>
<g transform="translate(0,422.20) scale(1,0.9978)" stroke-width="1.06" fill="none" shape-rendering="crispEdges">
<path stroke="rgb(160,48,48)" d="M478 3h9M504 3h9M531 3h8.2M426 16h9M478 16h9M417 33h9M435 52h9"/>
<path stroke="rgb(160,48,48)" d="M426 0h26M461 0h17M487 0h17M513 0h26.2M461 1h9M487 1h9M504 1h9M426 3h52M487 3h17M513 3h18M504 8h9M435 16h26M426 20h9M444 20h8M400.1 31h8.9M400.1 33h8.9M400.1 34h8.9M417 34h9M409 35h17M400.1 36h8.9M417 36h9M435 50h9M461 52h17M487 52h35M470 53h17M426 57h9M426 68h18M452 68h18M496 68h17M522 68h9M478 69h9M426 70h9M461 70h9M487 70h9M531 70h8.2M426 77h18M452 77h9M426 83h26M461 83h9M487 83h17M522 83h17.2M496 107h17M522 108h9M400.1 131h8.9M400.1 133h8.9M417 133h9M417 136h9M409 137h8M417 221h27"/>
<path stroke="rgb(175,44,44)" d="M452 0h9M478 0h9M504 0h9M426 1h9M452 1h9M470 1h17M496 1h8M513 1h26.2M444 4h8M487 4h9M513 4h9M470 5h8M444 7h8M470 7h8M522 7h9M435 8h9M452 8h52M522 8h17.2M426 10h9M444 10h17M426 15h26M531 15h8.2M417 16h9M461 16h9M513 16h9M531 16h8.2M417 20h9M452 20h9M470 20h8M496 20h8M522 20h9M409 31h8M409 33h8M409 34h8M426 34h9M400.1 35h8.9M426 35h9M409 36h8M417 46h9M461 46h9M504 46h27M522 47h9M531 49h8.2M426 50h9M444 50h8M470 50h26M504 50h9M522 50h17.2M452 51h9M504 51h9M417 52h9M444 52h17M478 52h9M522 52h17.2M426 53h9M444 53h17M504 53h35.2M444 57h8M426 60h9M461 65h9M504 65h9M444 68h8M470 68h26M513 68h9M531 68h8.2M435 69h9M452 69h26M487 69h9M504 69h35.2M417 70h9M435 70h26M470 70h17M504 70h27M426 71h9M461 71h9M513 71h26.2M417 77h9M444 77h8M461 77h26M487 82h9M417 83h9M452 83h9M470 83h17M504 83h9M496 85h8M426 93h9M522 96h9M435 106h9M426 107h18M452 107h18M478 107h9M513 107h9M531 107h8.2M435 108h69M513 108h9M531 108h8.2M400.1 130h8.9M417 130h9M417 131h18M400.1 132h8.9M409 133h8M426 133h9M400.1 134h16.9M426 134h9M400.1 136h16.9M400.1 137h8.9M417 137h9M400.1 156h8.9M444 221h8M417 223h27"/>
<path stroke="rgb(190,39,39)" d="M417 0h9M417 1h9M435 1h17M417 3h9M426 4h18M452 4h35M496 4h17M522 4h17.2M426 5h18M452 5h18M478 5h35M522 5h17.2M496 6h8M522 6h17.2M426 7h18M452 7h18M478 7h26M513 7h9M531 7h8.2M417 8h18M444 8h8M513 8h9M417 10h9M435 10h9M461 10h43M522 10h17.2M417 15h9M452 15h9M470 15h8M496 15h35M470 16h8M487 16h26M522 16h9M426 18h18M435 20h9M461 20h9M504 20h18M531 20h8.2M417 31h9M400.1 32h8.9M426 33h9M426 36h9M426 46h35M470 46h34M426 47h18M452 47h9M478 47h9M496 47h8M426 49h18M461 49h70M417 50h9M452 50h18M496 50h8M513 50h9M426 51h26M478 51h26M513 51h26.2M426 52h9M417 53h9M435 53h9M461 53h9M487 53h17M496 54h17M417 56h9M435 56h9M417 57h9M435 57h9M461 57h26M513 57h18M435 65h17M470 65h8M487 65h9M522 65h9M426 66h18M452 66h9M470 66h69.2M452 67h9M478 67h9M417 68h9M426 69h9M444 69h8M496 69h8M496 70h8M435 71h26M478 71h35M426 75h26M461 75h17M487 77h9M417 78h61M426 79h18M452 79h9M417 82h70M496 82h43.2M513 83h9M435 84h17M470 84h8M513 84h9M426 85h9M444 85h17M513 85h9M531 85h8.2M417 93h9M435 93h104.2M426 96h9M444 96h43M504 96h9M531 96h8.2M461 98h9M513 98h9M452 103h9M478 103h9M496 103h26M531 103h8.2M426 106h9M470 106h17M496 106h43.2M417 107h9M444 107h8M470 107h8M487 107h9M522 107h9M417 108h18M504 108h9M400.1 129h16.9M409 130h8M426 130h9M409 131h8M409 132h26M417 134h9M400.1 135h16.9M426 136h9M426 137h18M435 156h9M461 156h9M478 156h9M496 156h8M513 156h9M400.1 157h25.9M461 157h9M522 157h9M400.1 158h8.9M417 164h9M461 190h9M504 190h9M426 201h18M461 201h26M496 201h35M487 202h26M522 202h9M452 221h18M478 221h9M496 221h8M435 222h9M444 223h8"/>
<path stroke="rgb(205,35,35)" d="M461 2h9M487 2h9M417 4h9M444 5h8M513 5h9M426 6h70M504 6h18M417 7h9M504 7h9M513 10h9M461 15h9M478 15h18M417 18h9M444 18h8M426 19h26M470 19h17M478 20h18M426 30h9M426 31h9M409 32h17M435 33h17M470 33h8M487 33h17M513 33h9M531 33h8.2M435 34h17M487 34h9M513 34h9M531 34h8.2M435 35h17M461 35h9M478 35h26M513 35h9M531 35h8.2M400.1 37h16.9M444 44h17M513 44h9M461 45h17M487 45h9M504 45h9M531 46h8.2M417 47h9M444 47h8M461 47h17M487 47h9M504 47h18M531 47h8.2M417 49h9M444 49h17M417 51h9M461 51h17M400.1 52h16.9M409 53h8M417 54h79M513 54h26.2M409 56h8M426 56h9M461 56h17M504 56h9M522 56h17.2M452 57h9M487 57h26M531 57h8.2M417 59h27M417 60h9M470 60h8M504 60h9M531 60h8.2M452 65h9M478 65h9M496 65h8M513 65h9M531 65h8.2M417 66h9M444 66h8M461 66h9M426 67h9M444 67h8M461 67h17M487 67h52.2M470 71h8M522 73h9M417 75h9M452 75h9M478 75h9M496 77h26M531 77h8.2M487 78h17M444 79h8M461 79h17M426 80h18M452 80h26M400.1 83h8.9M417 84h18M452 84h18M478 84h18M504 84h9M531 84h8.2M417 85h9M435 85h9M461 85h17M487 85h9M504 85h9M522 85h9M417 96h9M435 96h9M487 96h17M513 96h9M417 97h18M461 97h9M478 97h18M504 97h9M522 97h17.2M417 98h44M470 98h17M496 98h17M417 99h53M478 99h9M496 99h17M461 100h17M504 100h9M417 103h35M461 103h17M487 103h9M522 103h9M417 106h9M444 106h26M487 106h9M409 107h8M417 126h18M444 126h52M513 126h18M417 129h9M435 130h17M435 131h17M435 133h17M435 134h9M417 135h9M435 136h9M444 137h8M409 156h26M444 156h8M470 156h8M487 156h9M504 156h9M522 156h9M426 157h18M452 157h9M470 157h8M496 157h8M531 157h8.2M400.1 159h16.9M400.1 160h16.9M400.1 164h16.9M461 164h9M487 164h9M513 164h9M478 181h9M478 185h9M409 190h8M452 190h9M470 190h34M513 190h26.2M452 200h18M496 200h17M409 201h17M444 201h17M487 201h9M531 201h8.2M417 202h61M513 202h9M531 202h8.2M470 221h8M487 221h9M504 221h9M522 221h17.2M426 222h9M409 223h8M452 223h18M487 223h17M513 223h9"/>
<path stroke="rgb(220,70,53)" d="M435 2h17M496 2h17M522 2h17.2M417 5h9M417 6h9M504 10h9M426 11h18M426 13h26M478 13h9M426 14h9M426 17h26M452 18h18M478 18h18M504 18h9M531 18h8.2M417 19h9M452 19h9M496 19h26M417 29h18M444 29h8M444 31h8M461 31h9M496 31h8M513 31h9M531 31h8.2M426 32h9M452 33h18M478 33h9M504 33h9M522 33h9M452 34h26M496 34h17M522 34h9M452 35h9M470 35h8M504 35h9M522 35h9M435 36h9M478 36h35M522 36h17.2M417 37h9M461 39h9M426 44h18M461 44h17M487 44h26M531 44h8.2M417 45h9M435 45h17M478 45h9M496 45h8M513 45h9M531 45h8.2M400.1 46h16.9M409 47h8M400.1 49h8.9M400.1 50h16.9M400.1 51h16.9M400.1 53h8.9M409 54h8M426 55h9M444 55h8M522 55h9M444 56h17M478 56h26M513 56h9M400.1 57h16.9M444 59h34M487 59h17M513 59h26.2M435 60h26M478 60h26M513 60h18M426 62h9M417 65h18M417 67h9M435 67h9M417 69h9M417 71h9M417 73h18M496 73h26M487 75h26M409 77h8M522 77h9M478 78h9M531 78h8.2M417 79h9M478 79h18M504 79h9M417 80h9M444 80h8M478 80h9M400.1 82h16.9M409 83h8M409 84h8M496 84h8M522 84h9M400.1 85h16.9M478 85h9M409 93h8M417 95h9M487 95h9M504 95h9M400.1 96h8.9M435 97h26M470 97h8M496 97h8M513 97h9M487 98h9M522 98h17.2M470 99h8M487 99h9M513 99h26.2M417 100h9M435 100h26M478 100h18M513 100h26.2M409 103h8M435 104h9M531 104h8.2M409 106h8M400.1 108h16.9M470 109h17M496 109h8M426 124h9M444 124h8M461 124h9M496 124h8M400.1 126h8.9M435 126h9M496 126h17M531 126h8.2M417 127h9M435 127h9M496 127h8M452 131h18M478 131h9M496 131h17M522 131h9M435 132h17M470 133h8M487 133h9M504 133h9M531 133h8.2M426 135h18M461 137h9M496 137h8M522 137h9M522 138h9M400.1 155h16.9M452 156h9M531 156h8.2M444 157h8M478 157h18M504 157h18M409 158h17M444 158h17M470 158h26M522 158h17.2M400.1 161h8.9M400.1 162h8.9M400.1 163h16.9M426 164h9M444 164h17M470 164h17M496 164h8M522 164h17.2M400.1 165h8.9M417 165h9M461 165h17M470 181h8M487 181h9M513 181h18M400.1 185h8.9M417 185h9M470 185h8M487 185h9M513 185h9M470 187h8M400.1 190h8.9M417 190h35M400.1 191h8.9M478 191h9M400.1 200h8.9M417 200h35M470 200h26M513 200h26.2M400.1 201h8.9M400.1 202h8.9M478 202h9M409 203h8M426 203h9M444 203h34M504 203h9M531 203h8.2M400.1 221h16.9M417 222h9M444 222h8M470 223h8M504 223h9M522 223h17.2M435 224h9M426 225h9"/>
<path stroke="rgb(235,105,72)" d="M426 2h9M452 2h9M470 2h17M513 2h9M409 10h8M417 11h9M452 11h9M426 12h18M417 13h9M452 13h9M470 13h8M487 13h17M513 13h9M531 13h8.2M409 16h8M452 17h9M478 17h9M470 18h8M496 18h8M513 18h18M461 19h9M487 19h9M522 19h17.2M409 20h8M426 21h9M444 21h8M435 22h9M435 23h9M426 27h9M435 29h9M461 29h9M478 29h18M531 29h8.2M417 30h9M435 30h26M470 30h8M435 31h9M452 31h9M470 31h26M504 31h9M522 31h9M435 32h9M478 34h9M444 36h34M513 36h9M504 38h9M426 39h18M470 39h8M522 39h17.2M478 40h9M470 42h8M400.1 44h25.9M478 44h9M522 44h9M426 45h9M452 45h9M522 45h9M409 49h8M400.1 54h8.9M409 55h17M452 55h26M487 55h35M531 55h8.2M400.1 56h8.9M417 58h9M435 58h9M470 58h8M400.1 59h16.9M478 59h9M504 59h9M461 60h9M417 62h9M470 62h8M487 62h9M409 68h8M409 70h8M478 72h18M478 73h18M531 73h8.2M417 74h9M504 74h27M409 75h8M513 75h18M409 78h8M504 78h27M409 79h8M496 79h8M522 79h17.2M487 80h9M400.1 84h8.9M409 87h8M400.1 93h8.9M426 94h9M409 95h8M426 95h44M478 95h9M496 95h8M513 95h26.2M409 96h8M400.1 97h16.9M400.1 98h16.9M400.1 99h8.9M409 100h8M426 100h9M496 100h8M400.1 103h8.9M417 104h18M461 104h35M504 104h18M400.1 106h8.9M400.1 107h8.9M426 109h18M452 109h9M513 109h9M531 109h8.2M400.1 113h8.9M400.1 124h25.9M435 124h9M452 124h9M470 124h26M522 124h17.2M409 126h8M426 127h9M444 127h8M461 127h17M487 127h9M504 127h35.2M426 129h9M452 130h18M487 130h9M504 130h27M470 131h8M487 131h9M513 131h9M531 131h8.2M452 132h26M487 132h9M513 132h9M531 132h8.2M452 133h9M478 133h9M496 133h8M513 133h18M444 134h8M461 134h26M496 134h8M513 134h18M531 135h8.2M444 136h17M478 136h26M513 136h26.2M452 137h9M470 137h26M513 137h9M531 137h8.2M400.1 138h8.9M470 138h8M496 138h8M513 138h9M400.1 142h8.9M417 142h18M487 142h9M504 142h9M531 142h8.2M400.1 146h8.9M400.1 147h8.9M522 148h17.2M426 158h18M461 158h9M496 158h26M478 159h9M504 159h9M435 160h9M452 160h9M409 161h8M409 162h8M435 164h9M504 164h9M409 165h8M426 165h18M452 165h9M478 165h18M504 165h35.2M409 167h8M417 181h18M444 181h26M496 181h17M531 181h8.2M461 182h26M409 185h8M435 185h35M496 185h17M522 185h17.2M461 186h9M487 187h9M513 187h9M409 191h8M426 191h9M461 191h17M487 191h9M504 191h18M470 192h8M487 192h9M504 192h9M522 192h9M461 193h35M504 193h9M487 199h9M522 199h9M409 200h8M409 202h8M400.1 203h8.9M417 203h9M435 203h9M478 203h26M513 203h18M400.1 205h43.9M487 205h9M513 221h9M452 222h9M487 222h9M400.1 223h8.9M478 223h9M409 224h26M409 225h17M444 225h8"/>
<path stroke="rgb(250,140,90)" d="M409 3h8M417 9h27M452 9h9M400.1 10h8.9M444 11h8M461 11h43M522 11h17.2M417 12h9M461 13h9M504 13h9M522 13h9M417 14h9M435 14h35M478 14h9M522 14h17.2M400.1 15h16.9M400.1 16h8.9M417 17h9M461 17h17M487 17h26M522 17h17.2M409 18h8M409 19h8M417 21h9M435 21h9M452 21h35M417 22h18M470 22h8M531 22h8.2M426 23h9M409 24h43M426 26h9M417 27h9M435 27h9M452 27h9M478 27h18M417 28h18M452 29h9M470 29h8M504 29h9M478 30h26M513 30h26.2M452 32h9M496 32h26M426 37h9M417 38h35M470 38h8M487 38h17M531 38h8.2M409 39h8M444 39h17M478 39h44M400.1 40h8.9M417 40h18M452 40h9M470 40h8M487 40h17M531 40h8.2M409 42h8M452 42h9M487 42h26M400.1 43h8.9M400.1 45h16.9M400.1 47h8.9M400.1 55h8.9M435 55h9M478 55h9M409 58h8M426 58h9M444 58h17M478 58h26M513 58h26.2M400.1 60h16.9M409 61h8M435 62h35M513 62h26.2M426 63h26M478 63h26M513 63h9M504 64h9M409 66h8M409 67h8M409 69h8M409 71h8M409 72h26M504 72h18M531 72h8.2M409 73h8M435 73h9M461 73h17M409 74h8M426 74h9M487 74h9M531 74h8.2M400.1 75h8.9M531 75h8.2M444 76h26M400.1 77h8.9M513 79h9M496 80h17M522 80h9M417 87h9M487 87h9M531 87h8.2M452 88h9M487 88h9M504 88h9M435 89h9M470 89h8M409 92h26M452 92h18M522 92h17.2M435 94h9M452 94h9M400.1 95h8.9M470 95h8M409 99h8M400.1 100h8.9M435 101h9M461 101h9M522 101h9M400.1 104h16.9M444 104h17M496 104h8M522 104h9M417 105h9M470 105h17M522 105h17.2M409 109h17M444 109h8M461 109h9M487 109h9M504 109h9M522 109h9M452 113h9M531 113h8.2M400.1 116h8.9M522 116h17.2M400.1 117h8.9M513 117h18M435 119h9M522 119h9M504 124h18M409 125h8M444 125h8M470 125h8M513 125h9M531 125h8.2M400.1 127h16.9M452 127h9M478 127h9M435 129h9M470 130h17M496 130h8M531 130h8.2M496 132h17M522 132h9M461 133h9M452 134h9M487 134h9M504 134h9M531 134h8.2M444 135h17M504 135h9M522 135h9M461 136h17M504 136h9M504 137h9M409 138h52M478 138h18M504 138h9M531 138h8.2M400.1 141h8.9M435 142h17M478 142h9M496 142h8M513 142h18M409 143h8M400.1 145h8.9M400.1 148h25.9M470 148h17M496 148h26M400.1 149h8.9M400.1 153h8.9M417 155h44M470 155h8M531 155h8.2M417 159h44M470 159h8M487 159h17M513 159h18M417 160h9M444 160h8M461 160h17M487 160h26M522 160h17.2M417 161h9M452 161h9M417 163h18M522 163h9M444 165h8M496 165h8M409 166h8M400.1 167h8.9M417 167h9M487 167h9M400.1 169h8.9M470 174h8M400.1 177h8.9M400.1 178h16.9M452 178h61M409 180h8M452 180h9M470 180h8M400.1 181h16.9M435 181h9M400.1 182h34.9M452 182h9M487 182h44M409 184h8M426 185h9M400.1 186h25.9M470 186h61M400.1 187h8.9M452 187h18M478 187h9M496 187h17M417 191h9M452 191h9M496 191h8M522 191h17.2M400.1 192h25.9M452 192h18M478 192h9M496 192h8M513 192h9M531 192h8.2M400.1 193h34.9M452 193h9M496 193h8M513 193h9M531 193h8.2M400.1 194h8.9M461 194h26M496 194h17M522 194h9M409 199h8M426 199h52M496 199h8M513 199h9M400.1 204h34.9M444 204h8M461 204h9M444 205h26M478 205h9M504 205h18M531 205h8.2M409 208h8M409 222h8M461 222h17M504 222h9M531 222h8.2M444 224h17M435 225h9M452 225h9M426 227h9M400.1 229h8.9M504 229h9"/>
<path stroke="rgb(251,169,107)" d="M409 0h8M409 1h8M417 2h9M400.1 3h8.9M409 5h8M409 6h8M409 7h8M409 8h8M444 9h8M461 9h17M487 9h26M409 11h8M504 11h18M444 12h8M461 12h9M478 12h9M496 12h8M409 13h8M470 14h8M487 14h35M513 17h9M400.1 18h8.9M400.1 20h8.9M400.1 21h16.9M487 21h52.2M400.1 22h16.9M444 22h26M478 22h35M522 22h9M417 23h9M452 23h44M531 23h8.2M478 24h9M522 24h17.2M409 26h17M435 26h9M461 26h9M409 27h8M444 27h8M461 27h17M496 27h8M513 27h9M531 27h8.2M409 28h8M444 28h17M522 28h9M409 29h8M496 29h8M513 29h18M409 30h8M461 30h9M504 30h9M444 32h8M461 32h35M522 32h17.2M400.1 38h16.9M452 38h18M478 38h9M513 38h18M400.1 39h8.9M417 39h9M409 40h8M435 40h17M461 40h9M504 40h27M409 41h8M426 41h9M470 41h8M522 41h17.2M417 42h35M478 42h9M513 42h26.2M426 43h9M470 43h8M504 43h9M400.1 58h8.9M461 58h9M504 58h9M426 61h9M400.1 62h16.9M496 62h17M452 63h26M504 63h9M522 63h17.2M435 64h9M470 64h17M513 64h26.2M400.1 65h16.9M400.1 66h8.9M400.1 68h8.9M400.1 69h8.9M400.1 70h8.9M400.1 71h8.9M400.1 72h8.9M470 72h8M496 72h8M522 72h9M400.1 73h8.9M444 73h17M400.1 74h8.9M470 74h17M496 74h8M426 76h18M470 76h17M400.1 78h8.9M400.1 79h8.9M409 80h8M513 80h9M531 80h8.2M409 81h8M400.1 86h8.9M400.1 87h8.9M435 87h17M461 87h26M496 87h35M400.1 88h16.9M426 88h26M461 88h17M513 88h9M531 88h8.2M400.1 89h16.9M426 89h9M444 89h8M461 89h9M478 89h9M496 89h8M513 89h9M531 89h8.2M400.1 92h8.9M444 92h8M470 92h26M504 92h18M400.1 94h25.9M444 94h8M461 94h78.2M400.1 101h8.9M417 101h18M444 101h17M470 101h34M513 101h9M531 101h8.2M400.1 102h16.9M435 102h9M461 102h17M487 102h9M513 102h9M531 102h8.2M400.1 105h16.9M435 105h17M461 105h9M487 105h26M400.1 109h8.9M400.1 112h16.9M470 112h8M409 113h26M444 113h8M461 113h26M513 113h18M400.1 114h25.9M531 114h8.2M400.1 115h8.9M417 115h9M452 115h18M531 115h8.2M417 116h9M461 116h26M513 116h9M409 117h17M444 117h17M470 117h8M487 117h17M531 117h8.2M400.1 118h16.9M435 118h52M504 118h35.2M409 119h26M452 119h44M504 119h18M400.1 120h8.9M400.1 121h8.9M400.1 125h8.9M417 125h18M452 125h18M478 125h35M522 125h9M400.1 128h8.9M444 129h8M461 129h9M487 129h9M531 129h8.2M478 132h9M461 135h35M513 135h9M461 138h9M400.1 140h8.9M409 142h8M452 142h26M513 143h9M513 145h9M504 146h18M409 147h17M496 147h8M513 147h9M531 147h8.2M426 148h44M487 148h9M409 149h17M504 149h18M531 149h8.2M400.1 150h8.9M400.1 151h16.9M531 151h8.2M400.1 152h8.9M409 153h8M461 155h9M478 155h53M461 159h9M531 159h8.2M426 160h9M478 160h9M513 160h9M426 161h18M461 161h9M504 161h9M452 162h9M470 162h17M496 162h17M435 163h87M531 163h8.2M400.1 166h8.9M478 166h18M426 167h9M452 167h9M478 167h9M496 167h26M400.1 168h8.9M409 169h17M470 169h8M409 172h8M400.1 174h16.9M426 174h18M478 174h9M496 174h8M522 174h9M400.1 176h8.9M409 177h8M435 177h9M461 177h9M478 177h44M417 178h35M513 178h26.2M400.1 180h8.9M417 180h27M461 180h9M478 180h9M496 180h35M435 182h17M531 182h8.2M400.1 183h8.9M400.1 184h8.9M417 184h18M461 184h17M487 184h9M513 184h9M426 186h18M452 186h9M531 186h8.2M409 187h43M522 187h17.2M435 191h17M426 192h26M435 193h17M522 193h9M409 194h35M452 194h9M487 194h9M513 194h9M531 194h8.2M470 196h8M400.1 197h8.9M470 197h8M504 197h9M400.1 198h8.9M400.1 199h8.9M417 199h9M478 199h9M504 199h9M531 199h8.2M435 204h9M452 204h9M470 204h17M496 204h8M513 204h18M470 205h8M496 205h8M522 205h9M400.1 206h8.9M417 206h9M496 206h8M400.1 208h8.9M417 208h18M461 208h9M531 208h8.2M400.1 209h16.9M426 209h9M400.1 210h8.9M409 211h8M400.1 216h8.9M400.1 220h8.9M400.1 222h8.9M478 222h9M513 222h9M400.1 224h8.9M400.1 225h8.9M461 225h26M504 225h9M400.1 226h34.9M478 226h9M522 226h9M400.1 227h25.9M435 227h26M478 227h9M496 227h43.2M409 229h43M478 229h18M513 229h26.2"/>
<path stroke="rgb(253,197,125)" d="M400.1 0h8.9M400.1 1h8.9M409 2h8M409 4h8M400.1 5h8.9M409 9h8M478 9h9M513 9h26.2M400.1 11h8.9M400.1 12h16.9M452 12h9M470 12h8M487 12h9M504 12h27M400.1 13h8.9M409 14h8M409 17h8M400.1 19h8.9M513 22h9M400.1 23h16.9M444 23h8M496 23h35M452 24h26M487 24h35M409 25h8M426 25h18M400.1 26h8.9M444 26h17M470 26h17M496 26h35M400.1 27h8.9M504 27h9M522 27h9M435 28h9M470 28h26M400.1 29h8.9M400.1 30h8.9M435 37h9M452 37h9M470 37h8M496 37h17M400.1 41h8.9M417 41h9M435 41h35M478 41h44M400.1 42h8.9M461 42h9M409 43h8M435 43h35M478 43h26M522 43h9M417 61h9M435 61h17M470 61h8M522 61h17.2M478 62h9M417 63h9M426 64h9M444 64h26M487 64h17M400.1 67h8.9M444 72h8M461 72h9M435 74h17M417 76h9M487 76h17M400.1 80h8.9M400.1 81h8.9M461 81h17M504 81h9M522 81h9M409 86h8M426 86h9M426 87h9M452 87h9M417 88h9M478 88h9M496 88h8M522 88h9M417 89h9M452 89h9M487 89h9M504 89h9M522 89h9M400.1 90h16.9M400.1 91h8.9M435 92h9M496 92h8M409 101h8M504 101h9M417 102h18M444 102h17M478 102h9M496 102h17M522 102h9M426 105h9M452 105h9M513 105h9M400.1 111h8.9M417 112h9M435 112h9M452 112h18M478 112h18M522 112h17.2M435 113h9M487 113h26M461 114h17M513 114h18M409 115h8M435 115h9M470 115h17M496 115h8M513 115h18M409 116h8M426 116h9M452 116h9M487 116h26M426 117h18M461 117h9M478 117h9M504 117h9M417 118h18M487 118h17M400.1 119h8.9M444 119h8M496 119h8M531 119h8.2M409 120h8M426 120h9M452 120h9M496 120h17M409 121h8M409 122h8M435 125h9M409 128h17M444 128h8M487 128h9M513 128h9M531 128h8.2M452 129h9M470 129h17M496 129h26M496 135h8M400.1 139h8.9M409 141h8M504 141h18M400.1 143h8.9M417 143h9M461 143h9M478 143h9M504 143h9M522 143h17.2M400.1 144h8.9M409 145h26M487 145h26M522 145h17.2M409 146h8M435 146h17M487 146h17M522 146h9M426 147h35M470 147h8M487 147h9M504 147h9M522 147h9M426 149h18M478 149h26M522 149h9M409 150h8M487 151h9M504 151h27M409 152h8M496 153h8M513 153h9M400.1 154h16.9M522 154h9M444 161h8M470 161h34M513 161h26.2M417 162h35M461 162h9M522 162h17.2M417 166h18M504 166h18M435 167h17M461 167h17M522 167h17.2M409 168h8M426 169h9M461 169h9M478 169h9M504 169h9M522 169h17.2M400.1 170h8.9M409 171h8M400.1 172h8.9M400.1 173h16.9M417 174h9M452 174h18M487 174h9M504 174h18M531 174h8.2M400.1 175h16.9M461 175h9M487 175h9M513 175h9M409 176h8M470 176h17M496 176h8M513 176h9M417 177h18M452 177h9M470 177h8M522 177h9M409 179h8M444 180h8M487 180h9M409 183h8M444 184h17M478 184h9M496 184h17M522 184h17.2M444 186h8M400.1 188h16.9M400.1 189h8.9M444 194h8M400.1 196h16.9M461 196h9M478 196h9M496 196h17M409 197h8M461 197h9M478 197h9M496 197h8M513 197h18M470 198h17M496 198h26M487 204h9M504 204h9M531 204h8.2M409 206h8M444 206h8M487 206h9M504 206h9M531 206h8.2M400.1 207h16.9M435 208h26M478 208h18M504 208h27M409 210h8M400.1 211h8.9M400.1 212h16.9M409 214h8M400.1 215h25.9M409 216h8M400.1 217h8.9M400.1 218h16.9M400.1 219h8.9M409 220h8M496 222h8M522 222h9M461 224h26M496 224h8M513 224h9M487 225h17M435 226h26M487 226h35M531 226h8.2M461 227h17M487 227h9M452 229h26M496 229h8"/>
<path stroke="rgb(254,226,142)" d="M400.1 2h8.9M400.1 4h8.9M400.1 6h8.9M400.1 7h8.9M400.1 8h8.9M400.1 9h8.9M531 12h8.2M400.1 14h8.9M400.1 17h8.9M400.1 24h8.9M400.1 25h8.9M417 25h9M444 25h34M487 25h52.2M487 26h9M531 26h8.2M400.1 28h8.9M461 28h9M496 28h26M531 28h8.2M444 37h8M461 37h9M478 37h18M513 37h26.2M417 43h9M513 43h9M531 43h8.2M400.1 48h16.9M444 48h8M461 48h9M400.1 61h8.9M452 61h18M478 61h44M400.1 63h16.9M409 64h17M435 72h9M452 72h9M452 74h18M400.1 76h16.9M504 76h35.2M417 81h44M478 81h26M513 81h9M531 81h8.2M417 86h9M435 86h104.2M417 90h122.2M409 91h8M435 91h26M478 91h9M504 91h9M400.1 110h25.9M452 110h35M513 110h9M409 111h17M452 111h26M513 111h9M531 111h8.2M426 112h9M444 112h8M496 112h26M426 114h35M478 114h35M426 115h9M444 115h8M487 115h9M504 115h9M435 116h17M417 120h9M435 120h17M461 120h35M513 120h26.2M417 121h122.2M400.1 122h8.9M417 122h9M435 122h104.2M400.1 123h34.9M452 123h9M496 123h8M522 123h9M426 128h18M452 128h35M496 128h17M522 128h9M522 129h9M409 139h8M409 140h8M417 141h27M452 141h9M470 141h34M522 141h17.2M426 143h26M470 143h8M487 143h17M409 144h8M504 144h35.2M435 145h52M417 146h9M452 146h9M478 146h9M531 146h8.2M461 147h9M478 147h9M444 149h34M417 150h9M444 150h8M487 150h9M504 150h35.2M417 151h9M435 151h17M461 151h26M496 151h8M470 152h8M496 152h43.2M417 153h44M470 153h26M504 153h9M522 153h17.2M417 154h9M487 154h35M531 154h8.2M487 162h9M513 162h9M435 166h43M496 166h8M522 166h17.2M417 168h18M487 168h9M531 168h8.2M435 169h26M487 169h17M513 169h9M409 170h8M400.1 171h8.9M417 172h18M452 172h44M504 172h35.2M444 174h8M417 175h44M470 175h17M496 175h17M522 175h17.2M417 176h18M444 176h26M487 176h9M504 176h9M522 176h17.2M444 177h8M531 177h8.2M400.1 179h8.9M470 179h34M513 179h9M531 180h8.2M417 183h122.2M435 184h9M417 188h18M444 188h95.2M409 189h35M452 189h87.2M400.1 195h16.9M461 195h43M513 195h9M417 196h44M487 196h9M513 196h26.2M417 197h44M487 197h9M531 197h8.2M409 198h43M461 198h9M487 198h9M522 198h17.2M426 206h18M452 206h26M513 206h18M470 208h8M496 208h8M417 209h9M435 209h17M496 209h26M531 209h8.2M417 211h27M452 211h9M496 211h8M522 211h9M417 212h27M461 212h9M478 212h18M400.1 213h25.9M400.1 214h8.9M417 214h27M470 214h8M531 214h8.2M426 215h9M470 215h26M531 215h8.2M417 216h18M409 217h26M417 218h9M409 219h8M417 220h35M487 220h9M487 224h9M504 224h9M522 224h17.2M513 225h26.2M461 226h17M400.1 228h16.9"/>
<path stroke="rgb(219,215,169)" d="M478 25h9M417 48h27M452 48h9M470 48h69.2M400.1 64h8.9M417 91h18M461 91h17M487 91h17M513 91h26.2M426 110h26M487 110h26M522 110h17.2M426 111h26M478 111h35M522 111h9M426 122h9M435 123h17M461 123h35M504 123h18M531 123h8.2M417 139h9M487 139h52.2M417 140h18M487 140h52.2M444 141h8M461 141h9M452 143h9M417 144h9M435 144h17M461 144h43M426 146h9M461 146h17M426 150h18M452 150h35M496 150h8M426 151h9M452 151h9M417 152h35M478 152h18M461 153h9M426 154h18M452 154h18M478 154h9M435 168h52M496 168h35M417 170h27M452 170h87.2M417 171h18M452 171h87.2M435 172h17M496 172h8M417 173h27M452 173h87.2M435 176h9M417 179h53M504 179h9M522 179h17.2M435 188h9M444 189h8M417 195h44M504 195h9M522 195h17.2M452 198h9M478 206h9M417 207h27M496 207h8M452 209h44M522 209h9M417 210h27M452 210h9M478 210h35M522 210h9M444 211h8M461 211h35M504 211h18M531 211h8.2M444 212h17M470 212h8M496 212h43.2M426 213h9M444 213h26M487 213h9M531 213h8.2M444 214h26M478 214h53M435 215h35M496 215h35M435 216h26M478 216h61.2M435 217h26M470 217h61M426 218h52M487 218h52.2M417 219h27M452 219h9M452 220h9M470 220h17M496 220h43.2M417 228h27M470 228h69.2"/>
<path stroke="rgb(185,203,195)" d="M426 139h26M478 139h9M435 140h9M478 140h9M426 144h9M452 144h9M452 152h18M444 154h8M470 154h8M444 170h8M435 171h17M444 173h8M444 207h52M504 207h18M531 207h8.2M444 210h8M461 210h17M513 210h9M531 210h8.2M435 213h9M470 213h8M496 213h35M461 216h17M461 217h9M531 217h8.2M478 218h9M444 219h8M461 219h17M487 219h44M461 220h9M444 228h26"/>
<path stroke="rgb(150,192,222)" d="M452 139h26M444 140h34M522 207h9M478 213h9M478 219h9M531 219h8.2"/>
</g>
<rect x="400.10" y="421.70" width="139.10" height="229.50" fill="none" stroke="#3a3a3a" stroke-width="1"/>
<path d="M408.25 651.20V658.70" stroke="#333" stroke-width="1"/>
<text x="408.25" y="676.80" font-size="16" text-anchor="middle" fill="#1a1a1a" textLength="8.9" lengthAdjust="spacingAndGlyphs" >0</text>
<path d="M425.68 651.20V658.70" stroke="#333" stroke-width="1"/>
<text x="425.68" y="676.80" font-size="16" text-anchor="middle" fill="#1a1a1a" textLength="7.0" lengthAdjust="spacingAndGlyphs" >1</text>
<path d="M443.11 651.20V658.70" stroke="#333" stroke-width="1"/>
<text x="443.11" y="676.80" font-size="16" text-anchor="middle" fill="#1a1a1a" textLength="8.9" lengthAdjust="spacingAndGlyphs" >2</text>
<path d="M460.54 651.20V658.70" stroke="#333" stroke-width="1"/>
<text x="460.54" y="676.80" font-size="16" text-anchor="middle" fill="#1a1a1a" textLength="8.9" lengthAdjust="spacingAndGlyphs" >3</text>
<path d="M477.97 651.20V658.70" stroke="#333" stroke-width="1"/>
<text x="477.97" y="676.80" font-size="16" text-anchor="middle" fill="#1a1a1a" textLength="8.9" lengthAdjust="spacingAndGlyphs" >4</text>
<path d="M495.40 651.20V658.70" stroke="#333" stroke-width="1"/>
<text x="495.40" y="676.80" font-size="16" text-anchor="middle" fill="#1a1a1a" textLength="8.9" lengthAdjust="spacingAndGlyphs" >5</text>
<path d="M512.83 651.20V658.70" stroke="#333" stroke-width="1"/>
<text x="512.83" y="676.80" font-size="16" text-anchor="middle" fill="#1a1a1a" textLength="8.9" lengthAdjust="spacingAndGlyphs" >6</text>
<path d="M530.26 651.20V658.70" stroke="#333" stroke-width="1"/>
<text x="530.26" y="676.80" font-size="16" text-anchor="middle" fill="#1a1a1a" textLength="8.9" lengthAdjust="spacingAndGlyphs" >7</text>
<rect x="548.00" y="421.50" width="11.60" height="38.67" fill="#4470B0"/>
<rect x="548.00" y="459.88" width="11.60" height="38.67" fill="#8FBBDD"/>
<rect x="548.00" y="498.25" width="11.60" height="38.67" fill="#FEE391"/>
<rect x="548.00" y="536.62" width="11.60" height="38.67" fill="#FC8D59"/>
<rect x="548.00" y="575.00" width="11.60" height="38.67" fill="#CB181D"/>
<rect x="548.00" y="613.38" width="11.60" height="38.67" fill="#963232"/>
<path d="M548.00 421.50V651.75M559.60 421.50V651.75" stroke="#333" stroke-width="0.9" fill="none"/>
<path d="M559.60 421.50H567.00" stroke="#333" stroke-width="1" fill="none"/>
<text x="573.00" y="427.20" font-size="16" text-anchor="start" fill="#1a1a1a" textLength="22.3" lengthAdjust="spacingAndGlyphs" >0.6</text>
<path d="M559.60 459.88H567.00" stroke="#333" stroke-width="1" fill="none"/>
<text x="573.00" y="465.57" font-size="16" text-anchor="start" fill="#1a1a1a" textLength="22.3" lengthAdjust="spacingAndGlyphs" >0.3</text>
<path d="M559.60 498.25H567.00" stroke="#333" stroke-width="1" fill="none"/>
<text x="573.00" y="503.95" font-size="16" text-anchor="start" fill="#1a1a1a" textLength="8.9" lengthAdjust="spacingAndGlyphs" >0</text>
<path d="M559.60 536.62H567.00" stroke="#333" stroke-width="1" fill="none"/>
<text x="573.00" y="542.33" font-size="16" text-anchor="start" fill="#1a1a1a" textLength="31.6" lengthAdjust="spacingAndGlyphs" >−0.3</text>
<path d="M559.60 575.00H567.00" stroke="#333" stroke-width="1" fill="none"/>
<text x="573.00" y="580.70" font-size="16" text-anchor="start" fill="#1a1a1a" textLength="31.6" lengthAdjust="spacingAndGlyphs" >−0.7</text>
<path d="M559.60 613.38H567.00" stroke="#333" stroke-width="1" fill="none"/>
<text x="573.00" y="619.08" font-size="16" text-anchor="start" fill="#1a1a1a" textLength="29.7" lengthAdjust="spacingAndGlyphs" >−1.0</text>
<path d="M559.60 651.75H567.00" stroke="#333" stroke-width="1" fill="none"/>
<text x="573.00" y="657.45" font-size="16" text-anchor="start" fill="#1a1a1a" textLength="29.7" lengthAdjust="spacingAndGlyphs" >−1.5</text>
<rect x="95.50" y="422.30" width="288.25" height="228.40" fill="none" stroke="#333" stroke-width="1"/>
<path d="M90.00 422.30H95.50" stroke="#333" stroke-width="1"/>
<text x="81.30" y="428.00" font-size="16" text-anchor="end" fill="#1a1a1a" textLength="29.3" lengthAdjust="spacingAndGlyphs" >1.00</text>
<path d="M90.00 450.85H95.50" stroke="#333" stroke-width="1"/>
<text x="81.30" y="456.55" font-size="16" text-anchor="end" fill="#1a1a1a" textLength="31.2" lengthAdjust="spacingAndGlyphs" >0.75</text>
<path d="M90.00 479.40H95.50" stroke="#333" stroke-width="1"/>
<text x="81.30" y="485.10" font-size="16" text-anchor="end" fill="#1a1a1a" textLength="31.2" lengthAdjust="spacingAndGlyphs" >0.50</text>
<path d="M90.00 507.95H95.50" stroke="#333" stroke-width="1"/>
<text x="81.30" y="513.65" font-size="16" text-anchor="end" fill="#1a1a1a" textLength="31.2" lengthAdjust="spacingAndGlyphs" >0.25</text>
<path d="M90.00 536.50H95.50" stroke="#333" stroke-width="1"/>
<text x="81.30" y="542.20" font-size="16" text-anchor="end" fill="#1a1a1a" textLength="8.9" lengthAdjust="spacingAndGlyphs" >0</text>
<path d="M90.00 565.05H95.50" stroke="#333" stroke-width="1"/>
<text x="81.30" y="570.75" font-size="16" text-anchor="end" fill="#1a1a1a" textLength="40.5" lengthAdjust="spacingAndGlyphs" >−0.25</text>
<path d="M90.00 593.60H95.50" stroke="#333" stroke-width="1"/>
<text x="81.30" y="599.30" font-size="16" text-anchor="end" fill="#1a1a1a" textLength="40.5" lengthAdjust="spacingAndGlyphs" >−0.50</text>
<path d="M90.00 622.15H95.50" stroke="#333" stroke-width="1"/>
<text x="81.30" y="627.85" font-size="16" text-anchor="end" fill="#1a1a1a" textLength="40.5" lengthAdjust="spacingAndGlyphs" >−0.75</text>
<path d="M90.00 650.70H95.50" stroke="#333" stroke-width="1"/>
<text x="81.30" y="656.40" font-size="16" text-anchor="end" fill="#1a1a1a" textLength="38.6" lengthAdjust="spacingAndGlyphs" >−1.00</text>
<path d="M108.25 650.70V658.50" stroke="#333" stroke-width="1"/>
<text x="108.25" y="677.00" font-size="16" text-anchor="middle" fill="#1a1a1a" textLength="8.9" lengthAdjust="spacingAndGlyphs" >0</text>
<path d="M145.65 650.70V658.50" stroke="#333" stroke-width="1"/>
<text x="145.65" y="677.00" font-size="16" text-anchor="middle" fill="#1a1a1a" textLength="7.0" lengthAdjust="spacingAndGlyphs" >1</text>
<path d="M183.05 650.70V658.50" stroke="#333" stroke-width="1"/>
<text x="183.05" y="677.00" font-size="16" text-anchor="middle" fill="#1a1a1a" textLength="8.9" lengthAdjust="spacingAndGlyphs" >2</text>
<path d="M220.45 650.70V658.50" stroke="#333" stroke-width="1"/>
<text x="220.45" y="677.00" font-size="16" text-anchor="middle" fill="#1a1a1a" textLength="8.9" lengthAdjust="spacingAndGlyphs" >3</text>
<path d="M257.85 650.70V658.50" stroke="#333" stroke-width="1"/>
<text x="257.85" y="677.00" font-size="16" text-anchor="middle" fill="#1a1a1a" textLength="8.9" lengthAdjust="spacingAndGlyphs" >4</text>
<path d="M295.25 650.70V658.50" stroke="#333" stroke-width="1"/>
<text x="295.25" y="677.00" font-size="16" text-anchor="middle" fill="#1a1a1a" textLength="8.9" lengthAdjust="spacingAndGlyphs" >5</text>
<path d="M332.65 650.70V658.50" stroke="#333" stroke-width="1"/>
<text x="332.65" y="677.00" font-size="16" text-anchor="middle" fill="#1a1a1a" textLength="8.9" lengthAdjust="spacingAndGlyphs" >6</text>
<path d="M370.05 650.70V658.50" stroke="#333" stroke-width="1"/>
<text x="370.05" y="677.00" font-size="16" text-anchor="middle" fill="#1a1a1a" textLength="8.9" lengthAdjust="spacingAndGlyphs" >7</text>
<path d="M95.50 536.30H383.25" stroke="#000" stroke-width="1.6" stroke-dasharray="6 3.8"/>
<path d="M108.25 522.50V585.50" stroke="#4878CB" stroke-width="3"/>
<path d="M145.65 510.50V603.75" stroke="#4878CB" stroke-width="3"/>
<path d="M183.05 503.75V581.75" stroke="#4878CB" stroke-width="3"/>
<path d="M220.45 509.25V579.50" stroke="#4878CB" stroke-width="3"/>
<path d="M257.85 504.25V581.25" stroke="#4878CB" stroke-width="3"/>
<path d="M295.25 505.00V575.75" stroke="#4878CB" stroke-width="3"/>
<path d="M332.65 502.50V572.50" stroke="#4878CB" stroke-width="3"/>
<path d="M370.05 501.75V571.75" stroke="#4878CB" stroke-width="3"/>
<circle cx="108.25" cy="559.50" r="5.1" fill="#fff" stroke="#4878CB" stroke-width="1.7"/>
<circle cx="145.65" cy="564.25" r="5.1" fill="#fff" stroke="#4878CB" stroke-width="1.7"/>
<circle cx="183.05" cy="547.50" r="5.1" fill="#fff" stroke="#4878CB" stroke-width="1.7"/>
<circle cx="220.45" cy="548.00" r="5.1" fill="#fff" stroke="#4878CB" stroke-width="1.7"/>
<circle cx="257.85" cy="545.00" r="5.1" fill="#fff" stroke="#4878CB" stroke-width="1.7"/>
<circle cx="295.25" cy="543.50" r="5.1" fill="#fff" stroke="#4878CB" stroke-width="1.7"/>
<circle cx="332.65" cy="540.00" r="5.1" fill="#fff" stroke="#4878CB" stroke-width="1.7"/>
<circle cx="370.05" cy="538.75" r="5.1" fill="#fff" stroke="#4878CB" stroke-width="1.7"/>
<path d="M145.65 563.50C151.88 561.58 170.58 554.83 183.05 552.00C195.52 549.17 207.98 547.92 220.45 546.50C232.92 545.08 245.38 544.25 257.85 543.50C270.32 542.75 282.78 542.38 295.25 542.00C307.72 541.62 320.18 541.40 332.65 541.20C345.12 541.00 363.82 540.87 370.05 540.80" fill="none" stroke="#B576A0" stroke-width="3.2" stroke-linecap="butt"/>
<path d="M244.40 439.25H263.70" stroke="#B576A0" stroke-width="3.2"/>
<text x="274.00" y="445.00" font-size="15" text-anchor="start" fill="#1a1a1a" textLength="90.0" lengthAdjust="spacingAndGlyphs" >LAI recovery</text>
<circle cx="254.00" cy="458.65" r="5.1" fill="#fff" stroke="#4878CB" stroke-width="1.7"/>
<text x="274.00" y="465.00" font-size="15" text-anchor="start" fill="#1a1a1a" textLength="64.0" lengthAdjust="spacingAndGlyphs" >Pre-2010</text>
<text x="113.00" y="622.00" font-size="15" text-anchor="start" fill="#1a1a1a" textLength="106.5" lengthAdjust="spacingAndGlyphs" ><tspan font-style="italic">y</tspan> = −0.440 × 10</text>
<text x="221.25" y="614.80" font-size="9.3" text-anchor="start" fill="#1a1a1a" textLength="35.8" lengthAdjust="spacingAndGlyphs" >−0.646<tspan font-style="italic">x</tspan></text>
<text x="261.75" y="622.00" font-size="15" text-anchor="start" fill="#1a1a1a" textLength="110.2" lengthAdjust="spacingAndGlyphs" >+ (−0.017)log(<tspan font-style="italic">x</tspan>)</text>
<text x="113.00" y="641.25" font-size="15" text-anchor="start" fill="#1a1a1a" textLength="62.0" lengthAdjust="spacingAndGlyphs" ><tspan font-style="italic">R</tspan><tspan dy="-7" font-size="9.3">2</tspan><tspan dy="7"> = 0.92</tspan></text>
<text transform="translate(26.30,536.30) rotate(-90)" font-size="17.3" text-anchor="middle" fill="#1a1a1a" textLength="37.0" lengthAdjust="spacingAndGlyphs"><tspan font-style="italic">d</tspan>LAI</text>
<text x="12.50" y="421.70" font-size="25" font-weight="bold" fill="#111" style="stroke:#111;stroke-width:1.1px">b</text>
<g transform="translate(0,720.90) scale(1,0.9982)" stroke-width="1.06" fill="none" shape-rendering="crispEdges">
<path stroke="rgb(160,48,48)" d="M427 10h9M444 10h18M427 69h9M401.2 135h8.8"/>
<path stroke="rgb(175,44,44)" d="M436 1h8M427 9h9M418 10h9M436 10h8M531 10h8.2M427 15h9M427 28h9M427 53h43M531 53h8.2M436 65h8M488 65h8M444 69h9M401.2 128h16.8M401.2 131h8.8M401.2 132h8.8M401.2 133h8.8M418 133h9M401.2 134h25.8M410 135h17"/>
<path stroke="rgb(190,39,39)" d="M427 1h9M444 1h9M522 1h9M427 2h9M427 6h17M418 9h9M444 9h9M462 10h17M488 10h8M505 10h26M436 15h8M496 15h9M418 21h26M427 26h9M427 27h9M418 28h9M427 49h9M444 49h9M470 53h18M522 53h9M427 54h26M436 58h8M470 58h9M418 65h18M444 65h9M462 65h17M496 65h26M418 69h9M436 69h8M453 69h60M522 69h17.2M418 73h9M444 73h9M418 78h35M488 89h8M522 89h9M427 98h9M505 98h8M522 98h9M418 100h9M531 100h8.2M418 107h9M470 107h9M418 128h9M401.2 129h8.8M401.2 130h16.8M410 131h8M410 132h8M410 133h8M427 135h9M418 179h9"/>
<path stroke="rgb(205,35,35)" d="M427 0h26M522 0h9M418 1h9M453 1h9M513 1h9M436 2h26M522 2h17.2M444 6h18M436 9h8M410 10h8M479 10h9M496 10h9M418 15h9M444 15h9M522 15h17.2M418 26h9M436 26h8M418 27h9M401.2 30h8.8M401.2 33h8.8M410 34h8M401.2 36h8.8M418 44h18M444 44h18M470 44h9M496 44h17M522 44h9M418 49h9M436 49h8M453 49h35M531 49h8.2M427 51h9M453 51h9M427 52h35M522 52h9M418 53h9M513 53h9M418 54h9M453 54h26M418 58h9M453 58h17M488 58h17M418 59h9M470 59h9M496 59h9M427 60h17M470 60h9M488 60h8M444 63h9M513 63h9M531 63h8.2M427 64h9M453 65h9M479 65h9M522 65h17.2M427 68h35M513 68h9M513 69h9M427 73h17M453 73h17M488 73h8M418 75h26M427 77h9M453 78h17M479 78h9M427 89h26M496 89h9M513 89h9M418 90h9M444 90h35M488 90h8M505 90h8M427 91h69M522 91h9M418 98h9M436 98h8M462 98h8M513 98h9M531 98h8.2M496 100h35M410 107h8M427 107h17M453 107h17M488 107h51.2M427 128h9M410 129h17M418 131h9M418 132h9M427 133h9M427 134h9M401.2 136h16.8M401.2 137h16.8M505 157h8M401.2 167h8.8M427 179h9M505 179h17M418 192h9"/>
<path stroke="rgb(220,70,53)" d="M453 0h17M531 0h8.2M462 1h8M488 1h25M531 1h8.2M418 2h9M479 2h9M418 3h26M531 3h8.2M427 4h26M522 4h9M418 5h35M462 6h8M505 6h34.2M453 9h35M496 9h9M522 9h17.2M410 15h8M462 15h34M505 15h17M427 18h9M444 21h9M436 28h17M427 29h9M410 30h8M410 32h8M410 33h17M401.2 34h8.8M418 34h9M410 36h8M418 41h18M488 41h8M436 44h8M462 44h8M479 44h17M513 44h9M531 44h8.2M470 45h18M488 49h8M513 49h18M427 50h9M444 50h18M418 51h9M436 51h17M462 51h17M522 51h17.2M418 52h9M462 52h17M531 52h8.2M488 53h25M513 54h9M410 58h8M427 58h9M444 58h9M479 58h9M505 58h17M531 58h8.2M427 59h43M479 59h17M505 59h34.2M418 60h9M444 60h26M479 60h9M496 60h43.2M427 63h17M453 63h17M479 63h17M505 63h8M522 63h9M418 64h9M436 64h34M479 64h9M496 64h43.2M418 68h9M462 68h34M505 68h8M531 68h8.2M470 73h18M496 73h26M427 74h26M470 74h9M444 75h9M462 75h26M531 75h8.2M470 78h9M488 78h25M522 78h9M453 87h17M488 87h8M513 87h26.2M427 88h9M453 88h26M531 88h8.2M418 89h9M453 89h35M505 89h8M531 89h8.2M410 90h8M427 90h17M479 90h9M496 90h9M513 90h26.2M418 91h9M496 91h26M531 91h8.2M513 94h9M418 97h18M453 97h9M470 97h9M488 97h8M505 97h17M531 97h8.2M401.2 98h8.8M444 98h18M470 98h35M410 100h8M427 100h69M427 105h9M401.2 107h8.8M444 107h9M479 107h9M418 130h9M427 131h9M427 132h9M436 135h8M505 155h8M401.2 157h8.8M513 157h9M505 158h8M401.2 163h8.8M401.2 166h8.8M418 169h9M505 169h17M401.2 179h8.8M436 179h8M453 179h17M522 179h9M505 181h8M513 186h9M505 192h17"/>
<path stroke="rgb(235,105,72)" d="M418 0h9M470 0h26M505 0h17M470 1h18M462 2h17M496 2h26M444 3h9M522 3h9M418 4h9M453 4h17M513 4h9M531 4h8.2M462 5h8M505 5h8M531 5h8.2M418 6h9M470 6h9M488 6h8M488 9h8M505 9h17M401.2 10h8.8M418 11h18M444 11h9M453 15h9M418 18h9M427 20h9M453 21h9M479 21h9M427 23h9M427 25h9M401.2 26h16.8M444 26h18M410 27h8M436 27h17M410 28h8M453 28h9M418 29h9M436 29h8M418 30h9M436 30h8M401.2 32h8.8M401.2 35h16.8M401.2 38h8.8M401.2 41h16.8M436 41h34M496 41h17M522 41h17.2M401.2 44h16.8M418 45h18M444 45h9M488 45h51.2M505 49h8M418 50h9M436 50h8M470 50h18M522 50h9M479 51h9M505 51h8M410 52h8M479 52h9M505 52h17M410 53h8M479 54h17M505 54h8M522 54h17.2M401.2 58h8.8M522 58h9M401.2 59h8.8M401.2 60h8.8M418 63h9M470 63h9M496 63h9M470 64h9M488 64h8M410 65h8M496 68h9M522 68h9M401.2 69h16.8M418 72h18M496 72h43.2M410 73h8M522 73h17.2M418 74h9M453 74h17M453 75h9M488 75h8M522 75h9M436 76h8M418 77h9M436 77h43M531 77h8.2M401.2 78h8.8M513 78h9M531 78h8.2M418 79h9M444 79h9M410 87h43M470 87h18M496 87h17M418 88h9M436 88h8M479 88h52M401.2 89h16.8M401.2 90h8.8M401.2 91h8.8M401.2 94h8.8M488 94h8M522 94h17.2M401.2 97h8.8M436 97h17M462 97h8M479 97h9M496 97h9M522 97h9M410 98h8M401.2 100h8.8M401.2 104h16.8M427 104h9M488 104h8M401.2 105h25.8M436 105h8M462 105h26M496 105h17M522 105h17.2M410 106h8M488 106h8M505 106h8M436 128h8M427 130h9M436 134h8M496 134h9M531 134h8.2M444 135h9M470 135h9M488 135h8M505 135h8M522 135h17.2M418 136h18M418 137h9M505 154h17M401.2 155h8.8M496 157h9M522 157h9M401.2 158h8.8M513 158h9M401.2 161h8.8M401.2 162h16.8M410 163h8M401.2 165h16.8M410 166h17M531 166h8.2M418 167h9M505 168h17M401.2 169h16.8M427 169h17M462 169h8M479 169h9M522 169h9M505 177h8M401.2 178h8.8M418 178h9M410 179h8M444 179h9M470 179h35M531 179h8.2M427 181h9M453 181h9M496 181h9M522 181h9M418 186h18M418 187h9M410 188h8M401.2 192h16.8M427 192h17M470 192h18M496 192h9M418 195h9M418 200h9M479 200h9M496 200h9M418 201h9M401.2 202h8.8M513 202h9M401.2 204h8.8M401.2 212h8.8M427 225h9"/>
<path stroke="rgb(250,140,90)" d="M410 0h8M496 0h9M410 1h8M410 2h8M488 2h8M462 3h8M496 3h26M470 4h18M496 4h17M453 5h9M470 5h9M513 5h18M479 6h9M496 6h9M410 9h8M436 11h8M479 11h9M427 14h17M401.2 15h8.8M444 16h9M427 17h9M410 18h8M436 18h26M522 18h17.2M418 20h9M444 20h9M410 21h8M462 21h17M505 21h8M418 23h9M436 23h8M462 26h26M401.2 27h8.8M453 27h26M401.2 28h8.8M462 28h26M410 29h8M444 29h26M427 30h9M470 30h18M531 30h8.2M401.2 31h8.8M418 32h9M427 33h17M488 33h8M505 33h8M522 33h17.2M427 34h9M531 34h8.2M418 35h9M418 36h9M410 38h8M410 39h8M470 41h18M513 41h9M401.2 42h16.8M401.2 45h16.8M436 45h8M453 45h9M410 49h8M496 49h9M462 50h8M505 50h17M531 50h8.2M410 51h8M496 51h9M513 51h9M488 52h17M401.2 53h8.8M410 54h8M496 54h9M410 59h8M410 60h8M427 66h9M444 66h9M513 67h9M410 68h8M418 70h9M531 70h8.2M436 72h8M470 72h26M401.2 73h8.8M410 74h8M496 74h9M401.2 75h8.8M496 75h26M410 76h8M427 76h9M410 77h8M479 77h34M522 77h9M410 78h8M401.2 79h8.8M427 79h9M462 79h8M479 79h9M496 79h9M401.2 80h8.8M401.2 84h8.8M418 84h18M401.2 88h16.8M444 88h9M410 91h8M410 94h43M462 94h26M496 94h17M505 96h17M531 96h8.2M410 97h8M418 104h9M436 104h52M496 104h9M513 104h18M444 105h18M488 105h8M513 105h9M401.2 106h8.8M418 106h9M453 106h17M496 106h9M513 106h26.2M418 117h9M470 117h9M401.2 127h8.8M418 127h26M470 127h9M488 127h8M513 127h26.2M444 128h18M470 128h18M496 128h35M427 129h9M436 132h8M436 133h17M462 133h8M496 133h17M522 133h9M453 134h9M470 134h26M505 134h26M453 135h17M496 135h9M427 137h9M401.2 141h8.8M410 146h8M401.2 152h8.8M401.2 153h8.8M401.2 154h16.8M496 154h9M522 154h9M410 155h8M496 155h9M513 155h26.2M410 157h17M488 157h8M531 157h8.2M410 158h8M522 158h9M410 161h17M418 163h9M427 166h9M513 166h18M410 167h8M427 167h9M401.2 168h34.8M470 168h9M444 169h18M470 169h9M488 169h17M505 172h8M401.2 173h16.8M401.2 174h8.8M418 174h9M505 175h8M401.2 176h8.8M418 176h18M401.2 177h25.8M513 177h9M418 180h9M513 180h9M401.2 181h25.8M436 181h8M462 181h17M513 181h9M410 184h8M401.2 185h8.8M401.2 186h16.8M453 186h9M470 186h18M505 186h8M401.2 187h16.8M427 187h9M505 187h17M401.2 188h8.8M418 188h9M401.2 191h8.8M418 191h18M505 191h8M444 192h9M462 192h8M488 192h8M522 192h17.2M401.2 194h16.8M427 194h9M505 194h17M401.2 195h16.8M427 195h9M505 195h17M410 196h8M410 197h8M410 198h8M401.2 200h16.8M427 200h52M488 200h8M505 200h34.2M401.2 201h16.8M505 201h8M418 202h18M479 202h9M496 202h17M522 202h9M410 203h8M418 205h9M401.2 218h8.8M401.2 219h8.8M418 219h9M410 220h8M436 220h8M470 220h9M522 220h9M418 222h9M401.2 224h8.8M418 224h18M470 224h9M488 224h8M401.2 225h8.8M418 225h9M436 225h17M479 225h17M505 225h8M522 225h17.2M410 226h8"/>
<path stroke="rgb(251,169,107)" d="M401.2 1h8.8M410 3h8M453 3h9M470 3h18M410 4h8M488 4h8M410 5h8M479 5h26M410 6h8M427 8h9M444 8h9M401.2 9h8.8M410 11h8M453 11h26M496 11h9M513 11h26.2M410 14h17M444 14h9M470 14h18M418 16h26M513 16h9M531 16h8.2M418 17h9M436 17h17M462 17h8M479 17h9M531 17h8.2M462 18h17M488 18h17M513 18h9M418 19h9M410 20h8M436 20h8M462 20h17M505 20h8M522 20h17.2M401.2 21h8.8M496 21h9M513 21h26.2M418 22h18M401.2 23h16.8M444 23h9M418 24h18M410 25h17M436 25h8M488 26h17M496 27h9M488 28h17M513 28h9M470 29h9M444 30h9M496 30h17M522 30h9M410 31h8M427 32h9M453 33h9M470 33h9M496 33h9M513 33h9M436 34h43M488 34h43M401.2 37h8.8M401.2 39h8.8M488 39h8M488 42h8M462 45h8M401.2 47h8.8M444 47h9M401.2 49h8.8M410 50h8M488 50h8M488 51h8M401.2 52h8.8M427 55h43M531 55h8.2M462 61h8M401.2 63h16.8M401.2 64h16.8M401.2 65h8.8M410 66h8M436 66h8M453 66h9M470 66h9M505 66h8M427 67h26M505 67h8M531 67h8.2M401.2 68h8.8M427 70h17M488 70h25M522 70h9M444 72h18M401.2 74h8.8M479 74h17M505 74h34.2M410 75h8M418 76h9M453 76h17M401.2 77h8.8M513 77h9M410 79h8M436 79h8M453 79h9M488 79h8M505 79h26M410 80h8M427 80h17M488 80h8M410 81h8M410 84h8M436 84h17M462 84h8M488 84h8M531 84h8.2M401.2 87h8.8M453 94h9M401.2 96h103.8M522 96h9M401.2 99h8.8M513 99h9M410 101h17M531 101h8.2M505 104h8M531 104h8.2M427 106h26M470 106h18M418 115h9M462 115h34M513 115h9M418 116h18M444 116h44M522 116h9M401.2 117h8.8M427 117h9M453 117h9M479 117h17M531 117h8.2M410 127h8M453 127h17M479 127h9M496 127h17M462 128h8M488 128h8M531 128h8.2M436 130h8M436 131h8M488 131h17M444 132h18M470 132h9M488 132h51.2M453 133h9M470 133h26M513 133h9M531 133h8.2M444 134h9M462 134h8M479 135h9M513 135h9M436 137h8M401.2 140h16.8M505 140h8M410 141h17M453 141h9M488 141h17M513 141h9M401.2 144h8.8M401.2 145h8.8M401.2 146h8.8M479 146h9M505 146h8M401.2 147h16.8M401.2 148h8.8M410 152h8M522 153h9M418 154h9M488 154h8M531 154h8.2M418 155h9M444 155h9M470 155h9M488 155h8M401.2 156h16.8M505 156h8M427 157h9M453 157h17M479 157h9M427 158h9M496 158h9M531 158h8.2M401.2 159h16.8M401.2 160h8.8M418 162h9M427 163h9M444 163h9M513 163h26.2M418 165h9M522 165h17.2M436 166h26M470 166h43M444 167h9M462 167h8M496 167h43.2M444 168h9M479 168h9M496 168h9M522 168h17.2M531 169h8.2M401.2 171h25.8M401.2 172h34.8M470 172h9M496 172h9M513 172h9M418 173h18M505 173h17M410 174h8M513 174h9M401.2 175h34.8M410 176h8M513 176h18M427 177h17M453 177h9M470 177h26M522 177h9M410 178h8M427 178h9M505 178h17M401.2 180h16.8M427 180h9M444 181h9M479 181h17M531 181h8.2M401.2 182h8.8M401.2 183h8.8M401.2 184h8.8M418 185h18M479 185h9M505 185h17M436 186h8M462 186h8M496 186h9M522 186h9M462 187h8M479 187h9M522 187h9M427 188h9M470 188h9M505 188h17M401.2 189h16.8M513 189h9M401.2 190h16.8M427 190h9M513 190h9M410 191h8M513 191h9M453 192h9M401.2 193h16.8M418 194h9M436 194h8M453 194h9M470 194h18M496 194h9M444 195h9M462 195h26M496 195h9M401.2 196h8.8M418 196h18M401.2 197h8.8M418 197h9M505 197h8M401.2 198h8.8M418 198h9M496 198h9M410 199h8M427 201h17M462 201h43M513 201h26.2M410 202h8M436 202h8M453 202h9M488 202h8M401.2 203h8.8M410 204h17M470 204h9M488 204h43M401.2 205h8.8M436 205h8M488 205h8M505 205h34.2M401.2 209h8.8M531 210h8.2M410 212h26M444 212h18M401.2 214h8.8M410 218h8M436 218h8M410 219h8M427 219h9M444 219h35M488 219h17M522 219h17.2M401.2 220h8.8M418 220h18M462 220h8M505 220h8M531 220h8.2M401.2 222h16.8M436 222h8M462 222h17M488 222h17M513 222h26.2M410 224h8M436 224h34M479 224h9M496 224h35M410 225h8M453 225h26M496 225h9M513 225h9M418 226h9M401.2 227h16.8"/>
<path stroke="rgb(253,197,125)" d="M401.2 2h8.8M488 3h8M401.2 6h8.8M418 8h9M436 8h8M401.2 11h8.8M488 11h8M505 11h8M427 12h17M418 13h26M401.2 14h8.8M453 14h17M488 14h8M522 14h17.2M401.2 16h16.8M453 16h17M479 16h9M505 16h8M522 16h9M410 17h8M513 17h18M479 18h9M505 18h8M427 19h9M401.2 20h8.8M453 20h9M479 20h17M488 21h8M453 23h9M410 24h8M436 24h8M401.2 25h8.8M444 25h18M505 26h8M522 26h17.2M479 27h17M505 27h17M531 27h8.2M505 28h8M522 28h17.2M401.2 29h8.8M479 29h9M496 29h17M522 29h9M453 30h17M513 30h9M436 32h8M513 32h9M444 33h9M462 33h8M479 33h9M479 34h9M427 35h26M462 35h8M479 35h9M496 35h9M522 35h17.2M427 36h17M479 36h9M513 36h26.2M410 37h8M418 39h70M496 39h43.2M401.2 40h25.8M427 42h26M462 42h17M496 42h26M401.2 43h8.8M410 47h17M462 47h8M479 47h9M505 47h8M522 47h17.2M401.2 48h16.8M401.2 50h8.8M496 50h9M401.2 51h8.8M401.2 54h8.8M401.2 55h25.8M470 55h18M401.2 57h16.8M401.2 61h51.8M488 61h8M531 61h8.2M462 66h8M479 66h17M513 66h9M531 66h8.2M401.2 67h8.8M418 67h9M453 67h35M496 67h9M401.2 70h8.8M479 70h9M513 70h9M401.2 72h16.8M462 72h8M401.2 76h8.8M444 76h9M479 76h9M470 79h9M531 79h8.2M418 80h9M444 80h26M505 80h17M418 81h9M436 81h34M505 81h8M401.2 82h8.8M401.2 83h8.8M453 84h9M470 84h9M496 84h35M401.2 85h8.8M401.2 86h25.8M401.2 92h16.8M401.2 95h16.8M410 99h26M462 99h8M496 99h17M531 99h8.2M401.2 101h8.8M427 101h9M522 101h9M418 113h9M470 113h9M401.2 115h16.8M427 115h35M496 115h9M522 115h9M410 116h8M488 116h8M505 116h8M410 117h8M436 117h17M462 117h8M496 117h35M410 123h8M401.2 124h8.8M418 124h18M479 124h9M531 124h8.2M401.2 125h16.8M401.2 126h8.8M418 126h9M444 127h9M436 129h8M479 129h9M496 129h9M531 129h8.2M488 130h25M531 130h8.2M444 131h44M505 131h34.2M462 132h8M479 132h9M436 136h17M496 136h9M531 136h8.2M444 137h9M418 140h9M470 140h9M496 140h9M531 140h8.2M427 141h26M462 141h26M505 141h8M522 141h17.2M401.2 143h8.8M410 144h8M513 144h9M410 145h8M496 145h9M513 145h18M418 146h9M436 146h34M488 146h17M513 146h18M427 147h9M462 147h8M496 147h17M531 147h8.2M410 148h8M401.2 150h8.8M401.2 151h8.8M505 151h8M436 152h8M488 152h8M513 152h9M410 153h8M488 153h25M531 153h8.2M427 154h26M462 154h26M427 155h17M453 155h17M479 155h9M513 156h9M436 157h17M470 157h9M418 158h9M488 158h8M436 161h8M513 161h26.2M436 163h8M453 163h35M496 163h17M427 165h9M470 165h9M488 165h17M513 165h9M462 166h8M436 167h8M453 167h9M470 167h26M436 168h8M453 168h17M488 168h8M401.2 170h16.8M505 171h17M436 172h8M453 172h9M479 172h17M436 173h8M479 173h9M496 173h9M427 174h9M505 174h8M436 175h8M453 175h17M488 175h8M513 175h9M462 176h26M496 176h17M531 176h8.2M444 177h9M462 177h8M496 177h9M531 177h8.2M462 178h26M496 178h9M462 180h17M488 180h25M410 182h17M410 183h17M513 183h9M418 184h18M479 184h9M513 184h9M410 185h8M436 185h43M488 185h8M522 185h17.2M444 186h9M488 186h8M531 186h8.2M436 187h8M453 187h9M470 187h9M488 187h17M531 187h8.2M436 188h8M462 188h8M479 188h9M496 188h9M522 188h9M418 189h26M470 189h9M496 189h17M522 189h17.2M418 190h9M436 191h8M453 191h9M470 191h35M418 193h9M444 194h9M462 194h8M488 194h8M522 194h17.2M436 195h8M453 195h9M488 195h8M522 195h17.2M470 196h9M505 196h17M427 197h9M444 197h18M513 197h9M488 198h8M505 198h17M401.2 199h8.8M444 202h9M462 202h17M531 202h8.2M418 203h9M479 203h26M427 204h17M453 204h17M479 204h9M531 204h8.2M410 205h8M462 205h26M496 205h9M401.2 207h8.8M401.2 208h16.8M410 209h8M401.2 210h42.8M453 210h26M488 210h8M401.2 211h16.8M436 212h8M462 212h77.2M418 214h9M462 214h8M496 214h9M513 214h9M401.2 215h16.8M401.2 216h8.8M418 216h9M418 218h18M462 218h8M488 218h8M505 218h26M436 219h8M479 219h9M505 219h8M453 220h9M479 220h26M513 220h9M401.2 221h16.8M444 221h9M427 222h9M453 222h9M479 222h9M401.2 223h25.8M470 223h9M505 223h8M401.2 226h8.8M427 226h17M470 226h26M505 226h8M522 226h17.2"/>
<path stroke="rgb(254,226,142)" d="M401.2 0h8.8M401.2 3h8.8M401.2 4h8.8M401.2 5h8.8M427 7h26M531 7h8.2M410 8h8M453 8h86.2M401.2 12h25.8M444 12h26M479 12h17M505 12h8M522 12h17.2M401.2 13h16.8M444 13h95.2M496 14h26M470 16h9M488 16h17M401.2 17h8.8M453 17h9M470 17h9M488 17h25M401.2 18h8.8M401.2 19h16.8M436 19h52M505 19h34.2M496 20h9M513 20h9M401.2 22h16.8M436 22h26M462 23h26M401.2 24h8.8M444 24h35M462 25h34M513 26h9M522 27h9M488 29h8M513 29h9M531 29h8.2M488 30h8M418 31h26M444 32h69M522 32h17.2M453 35h9M470 35h9M488 35h8M505 35h17M444 36h35M488 36h25M418 38h44M470 38h9M488 38h8M522 38h9M427 40h112.2M418 42h9M453 42h9M479 42h9M522 42h17.2M410 43h17M436 43h103.2M401.2 46h42.8M453 46h17M479 46h60.2M427 47h17M453 47h9M470 47h9M488 47h17M513 47h9M418 48h9M436 48h103.2M488 55h43M418 57h121.2M453 61h9M470 61h18M496 61h35M401.2 62h42.8M453 62h9M470 62h9M488 62h34M531 62h8.2M401.2 66h8.8M418 66h9M496 66h9M522 66h9M410 67h8M488 67h8M522 67h9M410 70h8M444 70h18M470 70h9M401.2 71h8.8M496 71h9M513 71h9M470 76h9M488 76h51.2M470 80h18M496 80h9M522 80h17.2M401.2 81h8.8M427 81h9M470 81h35M513 81h26.2M410 82h52M505 82h8M522 82h9M410 83h17M479 84h9M410 85h52M505 85h26M427 86h43M488 86h25M522 86h17.2M496 92h43.2M401.2 93h16.8M418 95h44M479 95h60.2M436 99h26M470 99h9M488 99h8M522 99h9M436 101h86M401.2 102h25.8M522 102h9M410 103h8M401.2 108h8.8M401.2 109h16.8M401.2 110h16.8M401.2 111h16.8M401.2 112h34.8M453 112h43M522 112h17.2M401.2 113h16.8M427 113h26M462 113h8M479 113h52M401.2 114h16.8M470 114h18M505 115h8M531 115h8.2M401.2 116h8.8M436 116h8M496 116h9M513 116h9M531 116h8.2M401.2 118h8.8M401.2 119h8.8M401.2 122h8.8M401.2 123h8.8M410 124h8M436 124h43M488 124h43M418 125h9M436 125h17M505 125h8M410 126h8M496 126h26M531 126h8.2M444 129h18M470 129h9M488 129h8M505 129h26M444 130h44M513 130h18M453 136h43M505 136h26M453 137h17M479 137h60.2M401.2 138h16.8M401.2 139h16.8M427 140h43M479 140h17M513 140h18M401.2 142h16.8M410 143h8M418 144h9M444 144h18M479 144h9M496 144h17M531 144h8.2M427 145h35M470 145h26M505 145h8M531 145h8.2M427 146h9M531 146h8.2M418 147h9M436 147h26M470 147h26M513 147h18M496 148h9M531 148h8.2M401.2 149h16.8M410 150h8M410 151h17M479 151h26M513 151h9M418 152h18M444 152h44M496 152h17M522 152h17.2M418 153h70M513 153h9M453 154h9M418 156h9M488 156h8M522 156h9M436 158h52M418 159h18M410 160h17M427 161h9M444 161h9M462 161h8M479 161h17M505 161h8M427 162h9M462 162h26M496 162h43.2M488 163h8M401.2 164h16.8M436 165h34M479 165h9M505 165h8M418 170h18M470 170h9M505 170h26M427 171h17M453 171h52M522 171h17.2M444 172h9M462 172h8M522 172h17.2M444 173h35M488 173h8M522 173h17.2M436 174h69M522 174h17.2M444 175h9M470 175h18M496 175h9M522 175h17.2M436 176h26M488 176h8M436 178h26M488 178h8M522 178h17.2M436 180h26M479 180h9M522 180h17.2M427 182h17M462 182h26M496 182h35M427 183h61M496 183h17M522 183h17.2M436 184h8M453 184h26M488 184h25M522 184h9M496 185h9M444 187h9M444 188h18M488 188h8M531 188h8.2M444 189h26M479 189h17M436 190h77M522 190h17.2M444 191h9M462 191h8M522 191h17.2M427 193h17M453 193h86.2M436 196h34M479 196h26M522 196h17.2M436 197h8M462 197h43M522 197h17.2M427 198h61M522 198h17.2M418 199h9M479 199h9M496 199h9M513 199h26.2M444 201h18M427 203h52M505 203h34.2M444 204h9M427 205h9M444 205h18M401.2 206h16.8M410 207h17M479 207h9M505 207h17M418 208h35M470 208h18M505 208h8M522 208h17.2M418 209h121.2M444 210h9M479 210h9M496 210h35M418 211h70M505 211h26M401.2 213h25.8M479 213h9M410 214h8M427 214h17M453 214h9M470 214h26M505 214h8M522 214h17.2M418 215h121.2M410 216h8M427 216h26M462 216h26M496 216h17M522 216h9M401.2 217h16.8M444 218h18M470 218h18M496 218h9M531 218h8.2M513 219h9M444 220h9M418 221h26M453 221h52M513 221h26.2M444 222h9M505 222h8M427 223h43M479 223h26M513 223h26.2M531 224h8.2M444 226h26M496 226h9M513 226h9M418 227h121.2"/>
<path stroke="rgb(219,215,169)" d="M401.2 7h25.8M453 7h78M401.2 8h8.8M470 12h9M496 12h9M513 12h9M488 19h17M462 22h43M488 23h34M479 24h26M496 25h43.2M444 31h18M470 31h69.2M418 37h26M453 37h9M513 37h26.2M462 38h8M479 38h9M496 38h26M531 38h8.2M427 43h9M444 46h9M470 46h9M427 48h9M401.2 56h16.8M444 62h9M462 62h8M479 62h9M522 62h9M462 70h8M410 71h34M479 71h17M505 71h8M522 71h17.2M462 82h43M513 82h9M531 82h8.2M427 83h43M488 83h51.2M462 85h43M531 85h8.2M470 86h18M513 86h9M418 92h78M418 93h52M488 93h51.2M462 95h17M479 99h9M427 102h95M531 102h8.2M401.2 103h8.8M418 103h18M496 103h35M410 108h8M418 109h18M462 109h34M418 110h26M453 110h35M418 111h26M453 111h52M531 111h8.2M436 112h17M496 112h26M453 113h9M531 113h8.2M418 114h52M496 114h9M513 114h9M531 114h8.2M410 118h8M479 118h9M410 119h8M401.2 120h16.8M401.2 121h16.8M410 122h8M418 123h18M488 123h8M522 123h17.2M427 125h9M453 125h17M479 125h26M513 125h26.2M427 126h26M470 126h26M522 126h9M462 129h8M470 137h9M488 138h17M513 138h9M531 138h8.2M444 139h9M496 139h9M513 139h18M513 142h9M531 142h8.2M444 143h9M488 143h43M427 144h17M462 144h8M488 144h8M522 144h9M418 145h9M470 146h9M418 148h35M462 148h34M505 148h26M418 149h9M496 149h35M418 150h9M488 150h17M513 150h26.2M427 151h52M522 151h17.2M427 156h61M496 156h9M531 156h8.2M436 159h8M453 159h17M496 159h43.2M427 160h9M513 160h26.2M453 161h9M470 161h9M496 161h9M436 162h26M488 162h8M418 164h9M436 170h34M479 170h26M531 170h8.2M444 171h9M444 182h18M488 182h8M531 182h8.2M488 183h8M444 184h9M531 184h8.2M444 193h9M427 199h9M462 199h17M488 199h8M505 199h8M418 206h9M479 206h43M531 206h8.2M427 207h9M444 207h18M470 207h9M488 207h17M522 207h17.2M453 208h17M488 208h17M513 208h9M488 211h17M531 211h8.2M427 213h52M488 213h51.2M444 214h9M453 216h9M488 216h8M513 216h9M531 216h8.2M418 217h121.2M505 221h8"/>
<path stroke="rgb(185,203,195)" d="M505 22h17M522 23h17.2M505 24h34.2M462 31h8M444 37h9M462 37h51M418 56h121.2M444 71h9M470 71h9M470 83h18M470 93h18M436 103h34M488 103h8M531 103h8.2M462 108h17M436 109h26M505 109h34.2M444 110h9M488 110h51.2M444 111h9M505 111h26M488 114h8M505 114h8M522 114h9M418 118h9M453 118h26M488 118h8M418 119h9M418 120h9M418 122h18M436 123h26M470 123h18M496 123h26M470 125h9M453 126h17M418 138h9M436 138h17M462 138h26M505 138h8M522 138h9M418 139h9M436 139h8M479 139h17M505 139h8M531 139h8.2M418 142h9M444 142h9M479 142h34M522 142h9M418 143h26M453 143h17M479 143h9M531 143h8.2M470 144h9M462 145h8M453 148h9M436 149h26M488 149h8M531 149h8.2M427 150h61M505 150h8M444 159h9M470 159h26M462 160h26M505 160h8M427 164h9M505 164h8M522 164h17.2M436 199h26M427 206h17M462 206h17M522 206h9M436 207h8M462 207h8"/>
<path stroke="rgb(150,192,222)" d="M522 22h17.2M453 71h9M470 103h18M418 108h26M453 108h9M479 108h17M531 108h8.2M496 109h9M427 118h26M505 118h34.2M427 119h9M531 119h8.2M427 120h9M505 120h34.2M418 121h9M436 122h8M479 122h9M496 122h26M531 122h8.2M462 123h8M427 138h9M453 138h9M427 139h9M453 139h26M427 142h17M453 142h17M470 143h9M427 149h9M462 149h26M436 160h26M488 160h17M470 164h18M513 164h9M444 206h18"/>
<path stroke="rgb(124,168,211)" d="M462 71h8M444 108h9M496 108h35M496 118h9M436 119h8M479 119h52M436 120h17M479 120h9M496 120h9M427 121h9M444 122h18M470 122h9M488 122h8M522 122h9M470 142h9M436 164h8M453 164h17M488 164h17"/>
<path stroke="rgb(98,144,201)" d="M453 119h9M470 119h9M453 120h26M488 120h8M513 121h18M462 122h8M444 164h9"/>
<path stroke="rgb(72,120,190)" d="M444 119h9M462 119h8M436 121h8M470 121h43M531 121h8.2"/>
<path stroke="rgb(72,120,190)" d="M453 121h17"/>
<path stroke="rgb(72,120,190)" d="M444 121h9"/>
</g>
<rect x="401.25" y="720.40" width="138.00" height="227.60" fill="none" stroke="#3a3a3a" stroke-width="1"/>
<path d="M409.50 948.00V955.50" stroke="#333" stroke-width="1"/>
<text x="409.50" y="974.00" font-size="16" text-anchor="middle" fill="#1a1a1a" textLength="8.9" lengthAdjust="spacingAndGlyphs" >0</text>
<path d="M426.75 948.00V955.50" stroke="#333" stroke-width="1"/>
<text x="426.75" y="974.00" font-size="16" text-anchor="middle" fill="#1a1a1a" textLength="7.0" lengthAdjust="spacingAndGlyphs" >1</text>
<path d="M444.00 948.00V955.50" stroke="#333" stroke-width="1"/>
<text x="444.00" y="974.00" font-size="16" text-anchor="middle" fill="#1a1a1a" textLength="8.9" lengthAdjust="spacingAndGlyphs" >2</text>
<path d="M461.25 948.00V955.50" stroke="#333" stroke-width="1"/>
<text x="461.25" y="974.00" font-size="16" text-anchor="middle" fill="#1a1a1a" textLength="8.9" lengthAdjust="spacingAndGlyphs" >3</text>
<path d="M478.50 948.00V955.50" stroke="#333" stroke-width="1"/>
<text x="478.50" y="974.00" font-size="16" text-anchor="middle" fill="#1a1a1a" textLength="8.9" lengthAdjust="spacingAndGlyphs" >4</text>
<path d="M495.75 948.00V955.50" stroke="#333" stroke-width="1"/>
<text x="495.75" y="974.00" font-size="16" text-anchor="middle" fill="#1a1a1a" textLength="8.9" lengthAdjust="spacingAndGlyphs" >5</text>
<path d="M513.00 948.00V955.50" stroke="#333" stroke-width="1"/>
<text x="513.00" y="974.00" font-size="16" text-anchor="middle" fill="#1a1a1a" textLength="8.9" lengthAdjust="spacingAndGlyphs" >6</text>
<path d="M530.25 948.00V955.50" stroke="#333" stroke-width="1"/>
<text x="530.25" y="974.00" font-size="16" text-anchor="middle" fill="#1a1a1a" textLength="8.9" lengthAdjust="spacingAndGlyphs" >7</text>
<rect x="548.00" y="720.50" width="11.60" height="38.22" fill="#4470B0"/>
<rect x="548.00" y="758.42" width="11.60" height="38.22" fill="#8FBBDD"/>
<rect x="548.00" y="796.33" width="11.60" height="38.22" fill="#FEE391"/>
<rect x="548.00" y="834.25" width="11.60" height="38.22" fill="#FC8D59"/>
<rect x="548.00" y="872.17" width="11.60" height="38.22" fill="#CB181D"/>
<rect x="548.00" y="910.08" width="11.60" height="38.22" fill="#963232"/>
<path d="M548.00 720.50V948.00M559.60 720.50V948.00" stroke="#333" stroke-width="0.9" fill="none"/>
<path d="M559.60 720.50H567.00" stroke="#333" stroke-width="1" fill="none"/>
<text x="573.00" y="726.20" font-size="16" text-anchor="start" fill="#1a1a1a" textLength="15.9" lengthAdjust="spacingAndGlyphs" >10</text>
<path d="M559.60 758.42H567.00" stroke="#333" stroke-width="1" fill="none"/>
<text x="573.00" y="764.12" font-size="16" text-anchor="start" fill="#1a1a1a" textLength="8.9" lengthAdjust="spacingAndGlyphs" >5</text>
<path d="M559.60 796.33H567.00" stroke="#333" stroke-width="1" fill="none"/>
<text x="573.00" y="802.03" font-size="16" text-anchor="start" fill="#1a1a1a" textLength="8.9" lengthAdjust="spacingAndGlyphs" >0</text>
<path d="M559.60 834.25H567.00" stroke="#333" stroke-width="1" fill="none"/>
<text x="573.00" y="839.95" font-size="16" text-anchor="start" fill="#1a1a1a" textLength="18.2" lengthAdjust="spacingAndGlyphs" >−5</text>
<path d="M559.60 872.17H567.00" stroke="#333" stroke-width="1" fill="none"/>
<text x="573.00" y="877.87" font-size="16" text-anchor="start" fill="#1a1a1a" textLength="25.3" lengthAdjust="spacingAndGlyphs" >−10</text>
<path d="M559.60 910.08H567.00" stroke="#333" stroke-width="1" fill="none"/>
<text x="573.00" y="915.78" font-size="16" text-anchor="start" fill="#1a1a1a" textLength="25.3" lengthAdjust="spacingAndGlyphs" >−15</text>
<path d="M559.60 948.00H567.00" stroke="#333" stroke-width="1" fill="none"/>
<text x="573.00" y="953.70" font-size="16" text-anchor="start" fill="#1a1a1a" textLength="27.2" lengthAdjust="spacingAndGlyphs" >−20</text>
<rect x="95.50" y="719.50" width="287.75" height="228.50" fill="none" stroke="#333" stroke-width="1"/>
<path d="M90.00 719.50H95.50" stroke="#333" stroke-width="1"/>
<text x="81.30" y="725.20" font-size="16" text-anchor="end" fill="#1a1a1a" textLength="29.3" lengthAdjust="spacingAndGlyphs" >10.0</text>
<path d="M90.00 748.06H95.50" stroke="#333" stroke-width="1"/>
<text x="81.30" y="753.76" font-size="16" text-anchor="end" fill="#1a1a1a" textLength="22.3" lengthAdjust="spacingAndGlyphs" >7.5</text>
<path d="M90.00 776.62H95.50" stroke="#333" stroke-width="1"/>
<text x="81.30" y="782.33" font-size="16" text-anchor="end" fill="#1a1a1a" textLength="22.3" lengthAdjust="spacingAndGlyphs" >5.0</text>
<path d="M90.00 805.19H95.50" stroke="#333" stroke-width="1"/>
<text x="81.30" y="810.89" font-size="16" text-anchor="end" fill="#1a1a1a" textLength="22.3" lengthAdjust="spacingAndGlyphs" >2.5</text>
<path d="M90.00 833.75H95.50" stroke="#333" stroke-width="1"/>
<text x="81.30" y="839.45" font-size="16" text-anchor="end" fill="#1a1a1a" textLength="8.9" lengthAdjust="spacingAndGlyphs" >0</text>
<path d="M90.00 862.31H95.50" stroke="#333" stroke-width="1"/>
<text x="81.30" y="868.01" font-size="16" text-anchor="end" fill="#1a1a1a" textLength="31.6" lengthAdjust="spacingAndGlyphs" >−2.5</text>
<path d="M90.00 890.88H95.50" stroke="#333" stroke-width="1"/>
<text x="81.30" y="896.58" font-size="16" text-anchor="end" fill="#1a1a1a" textLength="31.6" lengthAdjust="spacingAndGlyphs" >−5.0</text>
<path d="M90.00 919.44H95.50" stroke="#333" stroke-width="1"/>
<text x="81.30" y="925.14" font-size="16" text-anchor="end" fill="#1a1a1a" textLength="31.6" lengthAdjust="spacingAndGlyphs" >−7.5</text>
<path d="M90.00 948.00H95.50" stroke="#333" stroke-width="1"/>
<text x="81.30" y="953.70" font-size="16" text-anchor="end" fill="#1a1a1a" textLength="38.6" lengthAdjust="spacingAndGlyphs" >−10.0</text>
<path d="M108.25 948.00V955.80" stroke="#333" stroke-width="1"/>
<text x="108.25" y="974.00" font-size="16" text-anchor="middle" fill="#1a1a1a" textLength="8.9" lengthAdjust="spacingAndGlyphs" >0</text>
<path d="M145.65 948.00V955.80" stroke="#333" stroke-width="1"/>
<text x="145.65" y="974.00" font-size="16" text-anchor="middle" fill="#1a1a1a" textLength="7.0" lengthAdjust="spacingAndGlyphs" >1</text>
<path d="M183.05 948.00V955.80" stroke="#333" stroke-width="1"/>
<text x="183.05" y="974.00" font-size="16" text-anchor="middle" fill="#1a1a1a" textLength="8.9" lengthAdjust="spacingAndGlyphs" >2</text>
<path d="M220.45 948.00V955.80" stroke="#333" stroke-width="1"/>
<text x="220.45" y="974.00" font-size="16" text-anchor="middle" fill="#1a1a1a" textLength="8.9" lengthAdjust="spacingAndGlyphs" >3</text>
<path d="M257.85 948.00V955.80" stroke="#333" stroke-width="1"/>
<text x="257.85" y="974.00" font-size="16" text-anchor="middle" fill="#1a1a1a" textLength="8.9" lengthAdjust="spacingAndGlyphs" >4</text>
<path d="M295.25 948.00V955.80" stroke="#333" stroke-width="1"/>
<text x="295.25" y="974.00" font-size="16" text-anchor="middle" fill="#1a1a1a" textLength="8.9" lengthAdjust="spacingAndGlyphs" >5</text>
<path d="M332.65 948.00V955.80" stroke="#333" stroke-width="1"/>
<text x="332.65" y="974.00" font-size="16" text-anchor="middle" fill="#1a1a1a" textLength="8.9" lengthAdjust="spacingAndGlyphs" >6</text>
<path d="M370.05 948.00V955.80" stroke="#333" stroke-width="1"/>
<text x="370.05" y="974.00" font-size="16" text-anchor="middle" fill="#1a1a1a" textLength="8.9" lengthAdjust="spacingAndGlyphs" >7</text>
<path d="M95.50 833.60H382.75" stroke="#000" stroke-width="1.6" stroke-dasharray="6 3.8"/>
<path d="M108.25 821.25V886.25" stroke="#4878CB" stroke-width="3"/>
<path d="M145.65 795.75V905.00" stroke="#4878CB" stroke-width="3"/>
<path d="M183.05 791.25V868.00" stroke="#4878CB" stroke-width="3"/>
<path d="M220.45 792.50V863.00" stroke="#4878CB" stroke-width="3"/>
<path d="M257.85 789.25V867.00" stroke="#4878CB" stroke-width="3"/>
<path d="M295.25 791.25V856.75" stroke="#4878CB" stroke-width="3"/>
<path d="M332.65 787.50V869.50" stroke="#4878CB" stroke-width="3"/>
<path d="M370.05 785.00V860.75" stroke="#4878CB" stroke-width="3"/>
<circle cx="108.25" cy="855.00" r="5.1" fill="#fff" stroke="#4878CB" stroke-width="1.7"/>
<circle cx="145.65" cy="857.00" r="5.1" fill="#fff" stroke="#4878CB" stroke-width="1.7"/>
<circle cx="183.05" cy="833.25" r="5.1" fill="#fff" stroke="#4878CB" stroke-width="1.7"/>
<circle cx="220.45" cy="831.75" r="5.1" fill="#fff" stroke="#4878CB" stroke-width="1.7"/>
<circle cx="257.85" cy="831.75" r="5.1" fill="#fff" stroke="#4878CB" stroke-width="1.7"/>
<circle cx="295.25" cy="825.75" r="5.1" fill="#fff" stroke="#4878CB" stroke-width="1.7"/>
<circle cx="332.65" cy="830.75" r="5.1" fill="#fff" stroke="#4878CB" stroke-width="1.7"/>
<circle cx="370.05" cy="825.00" r="5.1" fill="#fff" stroke="#4878CB" stroke-width="1.7"/>
<path d="M145.65 856.25C146.43 855.01 148.77 850.93 150.32 848.83C151.88 846.74 153.44 845.15 155.00 843.69C156.56 842.24 158.12 841.13 159.68 840.11C161.23 839.10 162.79 838.32 164.35 837.61C165.91 836.90 167.47 836.35 169.03 835.84C170.58 835.34 172.14 834.94 173.70 834.58C175.26 834.22 176.82 833.94 178.38 833.67C179.93 833.41 181.49 833.18 183.05 833.00C184.61 832.82 186.17 832.73 187.72 832.61C189.28 832.48 190.84 832.36 192.40 832.25C193.96 832.14 195.52 832.03 197.07 831.93C198.63 831.83 200.19 831.73 201.75 831.64C203.31 831.55 204.87 831.46 206.43 831.37C207.98 831.29 209.54 831.21 211.10 831.13C212.66 831.05 214.22 830.97 215.77 830.89C217.33 830.82 218.89 830.75 220.45 830.68C222.01 830.61 223.57 830.54 225.12 830.47C226.68 830.41 228.24 830.35 229.80 830.28C231.36 830.22 232.92 830.16 234.47 830.10C236.03 830.04 237.59 829.99 239.15 829.93C240.71 829.87 242.27 829.82 243.82 829.77C245.38 829.71 246.94 829.66 248.50 829.61C250.06 829.56 251.62 829.51 253.17 829.46C254.73 829.41 256.29 829.37 257.85 829.32C259.41 829.27 260.97 829.23 262.52 829.18C264.08 829.14 265.64 829.09 267.20 829.05C268.76 829.01 270.32 828.97 271.88 828.93C273.43 828.88 274.99 828.84 276.55 828.80C278.11 828.76 279.67 828.72 281.23 828.69C282.78 828.65 284.34 828.61 285.90 828.57C287.46 828.53 289.02 828.50 290.57 828.46C292.13 828.43 293.69 828.39 295.25 828.36C296.81 828.32 298.37 828.29 299.92 828.25C301.48 828.22 303.04 828.19 304.60 828.15C306.16 828.12 307.72 828.09 309.27 828.06C310.83 828.02 312.39 827.99 313.95 827.96C315.51 827.93 317.07 827.90 318.62 827.87C320.18 827.84 321.74 827.81 323.30 827.78C324.86 827.75 326.42 827.72 327.98 827.69C329.53 827.66 331.09 827.64 332.65 827.61C334.21 827.58 335.77 827.55 337.32 827.53C338.88 827.50 340.44 827.47 342.00 827.44C343.56 827.42 345.12 827.39 346.67 827.37C348.23 827.34 349.79 827.31 351.35 827.29C352.91 827.26 354.47 827.24 356.02 827.21C357.58 827.19 359.14 827.16 360.70 827.14C362.26 827.12 363.82 827.09 365.38 827.07C366.93 827.04 369.27 827.01 370.05 827.00" fill="none" stroke="#B576A0" stroke-width="3.2" stroke-linecap="butt"/>
<path d="M244.40 736.25H263.70" stroke="#B576A0" stroke-width="3.2"/>
<text x="274.00" y="741.25" font-size="15" text-anchor="start" fill="#1a1a1a" textLength="97.0" lengthAdjust="spacingAndGlyphs" >GPP recovery</text>
<circle cx="254.00" cy="755.65" r="5.1" fill="#fff" stroke="#4878CB" stroke-width="1.7"/>
<text x="274.00" y="761.75" font-size="15" text-anchor="start" fill="#1a1a1a" textLength="64.0" lengthAdjust="spacingAndGlyphs" >Pre-2010</text>
<text x="113.00" y="921.25" font-size="15" text-anchor="start" fill="#1a1a1a" textLength="113.2" lengthAdjust="spacingAndGlyphs" ><tspan font-style="italic">y</tspan> = −25.860 × 10</text>
<text x="228.00" y="914.05" font-size="9.3" text-anchor="start" fill="#1a1a1a" textLength="35.8" lengthAdjust="spacingAndGlyphs" >−2.553<tspan font-style="italic">x</tspan></text>
<text x="268.00" y="921.25" font-size="15" text-anchor="start" fill="#1a1a1a" textLength="105.7" lengthAdjust="spacingAndGlyphs" >+ (0.280)log(<tspan font-style="italic">x</tspan>)</text>
<text x="113.00" y="940.00" font-size="15" text-anchor="start" fill="#1a1a1a" textLength="61.0" lengthAdjust="spacingAndGlyphs" ><tspan font-style="italic">R</tspan><tspan dy="-7" font-size="9.3">2</tspan><tspan dy="7"> = 0.97</tspan></text>
<text transform="translate(26.30,833.70) rotate(-90)" font-size="17.3" text-anchor="middle" fill="#1a1a1a" textLength="45.0" lengthAdjust="spacingAndGlyphs"><tspan font-style="italic">d</tspan>GPP</text>
<text x="12.50" y="720.00" font-size="25" font-weight="bold" fill="#111" style="stroke:#111;stroke-width:1.1px">c</text>
<g transform="translate(0,124.75) scale(1,1.0011)" stroke-width="1.06" fill="none" shape-rendering="crispEdges">
<path stroke="rgb(160,48,48)" d="M1034 7h17M1042 30h9M1068 30h17"/>
<path stroke="rgb(160,48,48)" d="M1051 7h60M1034 10h8M1042 16h9M1034 30h8M1051 30h17M1085 30h44M1137 30h9M1042 31h9M1059 31h35M1042 47h17M1085 47h9M1103 47h8M1120 47h9M1137 47h17.6M1137 60h9M1034 98h17M1059 98h9M1077 98h8M1042 116h9"/>
<path stroke="rgb(175,44,44)" d="M1094 4h9M1111 7h9M1137 7h9M1068 10h9M1034 16h8M1051 16h26M1085 16h9M1042 26h26M1129 30h8M1146 30h8.6M1051 31h8M1094 31h35M1137 31h17.6M1042 32h9M1042 37h9M1094 37h9M1129 37h8M1111 38h9M1042 46h9M1077 46h8M1094 46h9M1129 46h8M1034 47h8M1059 47h26M1094 47h9M1103 60h8M1042 65h26M1077 65h8M1120 65h9M1137 65h17.6M1042 85h9M1059 85h18M1094 85h26M1129 85h8M1146 85h8.6M1051 91h8M1111 91h9M1129 91h8M1042 94h9M1051 98h8M1111 98h9M1146 98h8.6M1059 101h9M1034 114h8M1034 116h8M1068 116h9"/>
<path stroke="rgb(190,39,39)" d="M1042 4h17M1085 4h9M1042 5h9M1094 5h9M1120 7h17M1146 7h8.6M1042 10h26M1077 10h8M1103 10h8M1137 10h9M1051 12h8M1077 16h8M1094 16h17M1137 16h9M1051 24h17M1077 24h8M1034 26h8M1068 26h26M1129 26h25.6M1051 27h8M1042 28h17M1068 28h9M1034 31h8M1129 31h8M1051 32h60M1137 32h9M1042 33h26M1111 33h9M1129 33h8M1042 34h17M1068 34h9M1085 34h9M1051 37h8M1068 37h26M1111 37h9M1042 38h26M1042 41h26M1077 41h17M1051 42h8M1077 42h8M1059 44h35M1129 44h17M1034 46h8M1051 46h26M1103 46h26M1137 46h17.6M1111 47h9M1129 47h8M1042 48h9M1103 56h17M1042 60h52M1111 60h26M1146 60h8.6M1034 65h8M1068 65h9M1085 65h9M1103 65h17M1129 65h8M1016.2 83h8.8M1016.2 84h8.8M1034 85h8M1051 85h8M1077 85h17M1120 85h9M1111 87h9M1042 91h9M1059 91h52M1120 91h9M1137 91h17.6M1051 94h17M1042 95h9M1059 95h9M1068 98h9M1085 98h9M1103 98h8M1129 98h17M1051 99h8M1034 100h34M1051 101h8M1068 101h17M1059 102h18M1042 103h17M1042 105h17M1068 105h9M1042 106h26M1059 109h9M1042 114h9M1042 115h9M1051 116h8M1077 116h8M1129 116h17M1025 118h9M1042 118h9M1034 204h17"/>
<path stroke="rgb(205,35,35)" d="M1042 1h9M1103 1h8M1085 3h9M1034 4h8M1059 4h9M1077 4h8M1103 4h17M1034 5h8M1085 5h9M1111 5h9M1094 6h9M1025 7h9M1085 10h18M1111 10h26M1146 10h8.6M1034 11h8M1051 11h17M1111 16h26M1146 16h8.6M1034 24h17M1068 24h9M1085 24h69.6M1042 25h9M1059 25h18M1094 26h35M1042 27h9M1077 27h8M1120 27h9M1034 28h8M1059 28h9M1077 28h26M1120 28h34.6M1042 29h9M1059 29h18M1094 29h9M1111 32h26M1034 33h8M1068 33h9M1085 33h26M1034 34h8M1059 34h9M1077 34h8M1094 34h17M1120 34h26M1034 37h8M1059 37h9M1103 37h8M1120 37h9M1137 37h17.6M1034 38h8M1068 38h26M1103 38h8M1120 38h9M1042 39h9M1059 40h9M1085 40h9M1068 41h9M1094 41h9M1111 41h43.6M1034 42h17M1068 42h9M1094 42h17M1059 43h18M1137 43h9M1034 44h25M1094 44h35M1146 44h8.6M1034 45h17M1094 45h9M1111 45h43.6M1085 46h9M1016.2 47h17.8M1034 48h8M1051 48h17M1077 48h8M1094 48h43M1051 53h8M1111 55h9M1042 56h26M1077 56h17M1120 56h34.6M1059 57h9M1137 58h9M1025 60h17M1094 60h9M1094 65h9M1111 68h9M1016.2 75h8.8M1025 76h9M1025 77h9M1016.2 78h8.8M1016.2 79h8.8M1016.2 80h8.8M1016.2 81h8.8M1016.2 82h17.8M1025 84h9M1025 85h9M1137 85h9M1137 86h9M1068 87h9M1094 87h9M1120 87h9M1137 88h9M1034 91h8M1111 92h9M1129 92h8M1034 93h17M1059 93h9M1120 93h9M1137 93h17.6M1068 94h17M1111 94h9M1034 95h8M1051 95h8M1068 95h35M1146 95h8.6M1042 97h26M1077 97h8M1025 98h9M1094 98h9M1120 98h9M1042 99h9M1059 99h26M1068 100h52M1137 100h9M1034 101h17M1085 101h9M1103 101h17M1034 102h25M1077 102h8M1094 102h9M1120 102h9M1034 103h8M1059 103h9M1077 103h17M1129 103h8M1059 104h9M1034 105h8M1059 105h9M1094 105h9M1137 105h9M1034 106h8M1068 106h17M1120 106h9M1137 106h9M1042 109h17M1051 112h8M1016.2 114h17.8M1051 114h26M1016.2 115h25.8M1051 115h26M1016.2 116h17.8M1059 116h9M1085 116h26M1120 116h9M1146 116h8.6M1042 117h17M1034 118h8M1051 118h8M1068 118h9M1094 118h9M1034 139h25M1034 141h8M1034 179h8M1016.2 204h8.8M1034 207h17"/>
<path stroke="rgb(220,70,53)" d="M1085 0h26M1051 1h8M1085 1h18M1111 1h9M1042 2h17M1042 3h17M1094 3h17M1068 4h9M1120 4h9M1051 5h17M1103 5h8M1120 5h9M1034 6h17M1059 6h9M1103 6h26M1016.2 7h8.8M1042 11h9M1068 11h17M1094 11h9M1111 11h18M1034 12h17M1059 12h26M1042 13h9M1059 13h9M1016.2 16h17.8M1042 19h17M1085 19h9M1051 25h8M1077 25h17M1111 25h35M1059 27h18M1085 27h26M1129 27h17M1025 28h9M1103 28h17M1051 29h8M1077 29h17M1103 29h8M1129 29h8M1146 29h8.6M1025 30h9M1034 32h8M1146 32h8.6M1077 33h8M1120 33h9M1137 33h17.6M1111 34h9M1146 34h8.6M1042 36h26M1085 36h9M1094 38h9M1129 38h25.6M1051 39h43M1120 39h9M1137 39h9M1042 40h17M1068 40h17M1094 40h9M1120 40h9M1137 40h9M1103 41h8M1059 42h9M1085 42h9M1111 42h35M1042 43h17M1077 43h34M1120 43h17M1146 43h8.6M1016.2 44h17.8M1051 45h43M1103 45h8M1016.2 46h8.8M1025 48h9M1068 48h9M1085 48h9M1137 48h17.6M1111 49h9M1103 50h8M1068 52h17M1094 52h17M1034 53h17M1059 53h9M1085 53h26M1042 54h17M1111 54h9M1137 54h17.6M1051 55h8M1068 55h26M1120 55h34.6M1034 56h8M1068 56h9M1094 56h9M1034 57h8M1051 57h8M1068 57h61M1137 57h17.6M1034 58h25M1068 58h9M1085 58h35M1129 58h8M1146 58h8.6M1137 59h17.6M1042 61h9M1111 64h9M1077 67h8M1129 67h17M1077 68h8M1094 68h9M1120 68h9M1137 68h17.6M1034 70h25M1068 70h9M1085 70h9M1103 70h8M1129 70h8M1146 70h8.6M1077 71h17M1137 71h9M1016.2 72h8.8M1042 72h26M1085 72h18M1129 72h17M1016.2 76h8.8M1016.2 77h8.8M1025 79h9M1025 81h9M1025 83h17M1034 84h8M1016.2 85h8.8M1016.2 86h17.8M1042 86h26M1077 86h8M1111 86h9M1129 86h8M1146 86h8.6M1025 87h43M1085 87h9M1103 87h8M1129 87h25.6M1051 88h8M1068 88h9M1094 88h17M1129 88h8M1042 90h9M1016.2 91h17.8M1016.2 92h8.8M1034 92h8M1051 92h52M1120 92h9M1137 92h9M1016.2 93h8.8M1051 93h8M1068 93h17M1094 93h17M1129 93h8M1034 94h8M1085 94h26M1129 94h8M1146 94h8.6M1025 95h9M1103 95h17M1129 95h17M1042 96h26M1077 96h8M1094 96h9M1129 96h17M1034 97h8M1068 97h9M1085 97h26M1120 97h9M1034 99h8M1085 99h9M1111 99h26M1025 100h9M1120 100h9M1146 100h8.6M1094 101h9M1120 101h34.6M1085 102h9M1103 102h17M1129 102h25.6M1068 103h9M1094 103h9M1120 103h9M1137 103h17.6M1034 104h8M1051 104h8M1068 104h17M1025 105h9M1077 105h17M1103 105h34M1146 105h8.6M1085 106h18M1111 106h9M1146 106h8.6M1034 109h8M1068 109h43M1120 109h26M1034 111h25M1042 112h9M1059 112h26M1016.2 113h8.8M1034 113h8M1051 113h8M1077 114h17M1103 114h8M1120 114h17M1146 114h8.6M1077 115h8M1111 116h9M1016.2 117h17.8M1059 117h18M1016.2 118h8.8M1059 118h9M1077 118h17M1111 118h35M1059 139h61M1129 139h25.6M1016.2 141h8.8M1042 141h35M1111 141h9M1034 150h8M1103 150h8M1120 150h9M1025 176h9M1016.2 178h8.8M1016.2 179h8.8M1042 179h9M1137 179h9M1034 180h8M1016.2 188h8.8M1016.2 199h8.8M1034 199h8M1051 204h8M1034 206h8M1025 207h9M1051 207h8M1068 207h9M1042 210h9"/>
<path stroke="rgb(235,105,72)" d="M1034 0h17M1111 0h9M1034 1h8M1068 1h17M1120 1h9M1034 2h8M1059 2h9M1085 2h26M1146 2h8.6M1034 3h8M1059 3h18M1111 3h9M1025 4h9M1129 4h25.6M1025 5h9M1068 5h17M1129 5h17M1051 6h8M1077 6h17M1025 9h9M1016.2 10h17.8M1016.2 11h8.8M1085 11h9M1103 11h8M1137 11h17.6M1085 12h44M1146 12h8.6M1051 13h8M1068 13h9M1034 14h17M1059 14h18M1085 14h9M1042 15h17M1042 17h17M1068 17h9M1034 19h8M1068 19h17M1094 19h60.6M1025 24h9M1034 25h8M1094 25h17M1146 25h8.6M1025 26h9M1034 27h8M1111 27h9M1146 27h8.6M1034 29h8M1111 29h18M1137 29h9M1016.2 30h8.8M1016.2 31h17.8M1025 33h9M1025 34h9M1042 35h9M1077 35h8M1137 35h9M1068 36h9M1111 36h18M1137 36h17.6M1025 37h9M1025 38h9M1034 39h8M1094 39h26M1146 39h8.6M1034 40h8M1103 40h8M1146 40h8.6M1034 41h8M1146 42h8.6M1016.2 43h8.8M1034 43h8M1111 43h9M1025 45h9M1025 46h9M1016.2 48h8.8M1042 49h9M1077 49h17M1034 50h34M1077 50h8M1094 50h9M1111 50h18M1137 50h17.6M1034 52h34M1085 52h9M1111 52h43.6M1025 53h9M1068 53h17M1111 53h9M1129 53h8M1146 53h8.6M1034 54h8M1059 54h35M1103 54h8M1120 54h17M1034 55h17M1059 55h9M1103 55h8M1042 57h9M1129 57h8M1059 58h9M1077 58h8M1120 58h9M1034 59h77M1120 59h17M1034 61h8M1068 61h9M1129 61h8M1146 61h8.6M1042 64h9M1085 64h9M1120 64h9M1137 64h17.6M1025 65h9M1016.2 66h17.8M1042 66h9M1059 66h18M1111 66h18M1025 67h43M1085 67h44M1146 67h8.6M1016.2 68h60.8M1085 68h9M1103 68h8M1129 68h8M1016.2 70h17.8M1059 70h9M1077 70h8M1094 70h9M1111 70h18M1137 70h9M1016.2 71h60.8M1094 71h43M1146 71h8.6M1025 72h17M1068 72h17M1103 72h26M1146 72h8.6M1025 75h9M1034 77h8M1025 78h9M1025 80h9M1034 81h8M1034 82h8M1034 86h8M1068 86h9M1085 86h26M1120 86h9M1016.2 87h8.8M1077 87h8M1016.2 88h17.8M1059 88h9M1077 88h8M1111 88h18M1146 88h8.6M1059 89h9M1120 89h9M1016.2 90h8.8M1034 90h8M1059 90h9M1085 90h9M1120 90h9M1137 90h17.6M1025 92h9M1042 92h9M1103 92h8M1146 92h8.6M1025 93h9M1085 93h9M1111 93h9M1025 94h9M1120 94h9M1137 94h9M1120 95h9M1025 96h17M1068 96h9M1085 96h9M1103 96h26M1146 96h8.6M1111 97h9M1129 97h25.6M1016.2 98h8.8M1025 99h9M1094 99h17M1137 99h17.6M1016.2 100h8.8M1129 100h8M1016.2 101h17.8M1025 102h9M1025 103h9M1103 103h17M1042 104h9M1085 104h35M1129 104h25.6M1025 106h9M1103 106h8M1129 106h8M1111 109h9M1146 109h8.6M1059 110h9M1059 111h26M1034 112h8M1085 112h69.6M1025 113h9M1042 113h9M1059 113h18M1085 113h26M1094 114h9M1111 114h9M1137 114h9M1085 115h35M1146 115h8.6M1034 117h8M1077 117h8M1094 117h9M1103 118h8M1146 118h8.6M1042 125h9M1085 125h9M1016.2 139h17.8M1120 139h9M1025 141h9M1077 141h34M1120 141h34.6M1120 147h9M1042 150h9M1129 150h17M1025 164h17M1016.2 165h8.8M1016.2 166h8.8M1016.2 176h8.8M1034 176h8M1016.2 177h8.8M1025 178h17M1051 178h8M1025 179h9M1051 179h60M1146 179h8.6M1016.2 180h17.8M1042 180h9M1137 180h9M1016.2 181h8.8M1016.2 184h25.8M1016.2 185h8.8M1025 188h9M1016.2 194h8.8M1034 194h8M1051 194h8M1016.2 195h8.8M1034 195h8M1025 197h26M1025 204h9M1059 204h52M1120 204h17M1016.2 206h17.8M1016.2 207h8.8M1016.2 210h8.8M1034 210h8M1042 213h9"/>
<path stroke="rgb(250,140,90)" d="M1025 0h9M1051 0h17M1059 1h9M1129 1h8M1068 2h17M1111 2h9M1016.2 3h17.8M1077 3h8M1146 3h8.6M1016.2 4h8.8M1016.2 5h8.8M1146 5h8.6M1025 6h9M1068 6h9M1129 6h17M1025 8h26M1077 8h8M1034 9h51M1025 11h9M1129 11h8M1016.2 12h17.8M1129 12h17M1016.2 13h25.8M1077 13h34M1120 13h17M1146 13h8.6M1016.2 14h8.8M1051 14h8M1077 14h8M1094 14h17M1146 14h8.6M1059 15h9M1025 17h17M1059 17h9M1077 17h17M1103 17h17M1129 17h8M1042 18h17M1016.2 19h17.8M1059 19h9M1016.2 21h8.8M1051 21h8M1094 21h9M1094 22h9M1016.2 24h8.8M1025 25h9M1016.2 26h8.8M1016.2 28h8.8M1016.2 32h17.8M1051 35h26M1085 35h18M1111 35h18M1146 35h8.6M1025 36h17M1077 36h8M1094 36h17M1129 36h8M1016.2 37h8.8M1016.2 38h8.8M1025 39h9M1129 39h8M1025 40h9M1111 40h9M1129 40h8M1016.2 41h17.8M1025 42h9M1025 43h9M1016.2 45h8.8M1034 49h8M1051 49h8M1068 49h9M1094 49h9M1120 49h9M1137 49h9M1016.2 50h17.8M1068 50h9M1085 50h9M1129 50h8M1059 51h9M1085 51h9M1016.2 52h8.8M1016.2 53h8.8M1120 53h9M1137 53h9M1094 54h9M1025 55h9M1094 55h9M1016.2 56h17.8M1016.2 57h17.8M1016.2 58h17.8M1111 59h9M1051 61h17M1077 61h17M1103 61h26M1137 61h9M1025 64h17M1051 64h34M1094 64h17M1129 64h8M1016.2 65h8.8M1051 66h8M1077 66h17M1103 66h8M1137 66h17.6M1016.2 67h8.8M1068 67h9M1103 69h8M1016.2 73h8.8M1016.2 74h25.8M1094 74h9M1120 74h26M1034 76h8M1051 76h8M1034 78h8M1034 79h8M1051 79h8M1034 80h8M1042 82h17M1042 83h9M1042 84h26M1034 88h17M1085 88h9M1016.2 89h25.8M1068 89h52M1129 89h25.6M1025 90h9M1051 90h8M1068 90h17M1103 90h17M1129 90h8M1016.2 94h8.8M1016.2 99h8.8M1016.2 102h8.8M1016.2 103h8.8M1120 104h9M1016.2 105h8.8M1025 109h9M1034 110h25M1068 110h61M1137 110h9M1025 111h9M1085 111h26M1129 111h8M1146 111h8.6M1025 112h9M1077 113h8M1111 113h18M1137 113h17.6M1120 115h26M1085 117h9M1103 117h51.6M1016.2 119h8.8M1016.2 120h17.8M1051 120h8M1068 120h26M1146 120h8.6M1068 121h9M1111 121h35M1016.2 123h8.8M1077 123h8M1103 123h8M1016.2 125h8.8M1034 125h8M1051 125h17M1077 125h8M1094 125h43M1146 125h8.6M1025 127h9M1025 129h9M1016.2 130h8.8M1016.2 143h8.8M1016.2 147h17.8M1137 147h9M1016.2 149h8.8M1016.2 150h17.8M1077 150h26M1111 150h9M1146 150h8.6M1016.2 154h8.8M1025 159h9M1016.2 160h17.8M1016.2 161h17.8M1016.2 164h8.8M1042 164h52M1025 165h9M1025 166h9M1042 166h9M1016.2 167h25.8M1016.2 168h17.8M1016.2 169h8.8M1016.2 175h8.8M1042 176h26M1137 176h17.6M1025 177h26M1068 177h9M1042 178h9M1068 178h17M1094 178h9M1129 178h8M1111 179h26M1051 180h34M1111 180h26M1025 181h9M1016.2 183h17.8M1042 184h9M1059 184h18M1085 184h9M1025 185h26M1146 185h8.6M1016.2 186h17.8M1016.2 187h8.8M1034 188h25M1077 188h8M1094 188h9M1016.2 191h8.8M1016.2 193h17.8M1025 194h9M1068 194h9M1025 195h9M1025 196h17M1016.2 197h8.8M1025 199h9M1042 199h9M1025 200h17M1034 202h8M1111 204h9M1137 204h17.6M1016.2 205h17.8M1042 206h26M1077 207h17M1137 207h17.6M1025 208h9M1025 210h9M1051 210h8M1016.2 212h8.8M1025 225h9"/>
<path stroke="rgb(251,169,107)" d="M1016.2 0h8.8M1068 0h17M1120 0h26M1016.2 1h17.8M1137 1h17.6M1025 2h9M1120 2h26M1120 3h26M1016.2 6h8.8M1146 6h8.6M1059 8h18M1016.2 9h8.8M1085 9h18M1111 13h9M1137 13h9M1025 14h9M1111 14h9M1129 14h17M1025 15h17M1068 15h86.6M1016.2 17h8.8M1094 17h9M1120 17h9M1137 17h17.6M1016.2 18h8.8M1059 18h9M1077 18h17M1025 21h26M1059 21h35M1103 21h17M1129 21h25.6M1016.2 22h8.8M1042 22h9M1059 22h9M1077 22h8M1103 22h8M1120 22h9M1137 22h17.6M1016.2 23h17.8M1103 23h8M1016.2 25h8.8M1025 27h9M1025 29h9M1016.2 33h8.8M1016.2 34h8.8M1034 35h8M1103 35h8M1129 35h8M1016.2 36h8.8M1016.2 40h8.8M1016.2 49h17.8M1059 49h9M1103 49h8M1129 49h8M1146 49h8.6M1025 51h9M1042 51h9M1068 51h17M1094 51h60.6M1025 52h9M1016.2 54h17.8M1016.2 55h8.8M1016.2 59h17.8M1016.2 60h8.8M1025 61h9M1094 61h9M1034 66h8M1094 66h9M1129 66h8M1016.2 69h17.8M1042 69h9M1059 69h44M1111 69h9M1129 69h8M1146 69h8.6M1025 73h9M1077 73h8M1051 74h43M1111 74h9M1146 74h8.6M1042 76h9M1042 77h9M1059 77h9M1042 78h9M1042 81h9M1059 82h9M1051 83h17M1077 83h8M1103 83h8M1120 83h9M1068 84h9M1111 84h9M1146 84h8.6M1042 89h17M1094 90h9M1016.2 95h8.8M1016.2 96h8.8M1016.2 97h17.8M1016.2 104h17.8M1016.2 106h8.8M1034 107h43M1094 107h9M1051 108h8M1016.2 109h8.8M1016.2 110h17.8M1146 110h8.6M1016.2 111h8.8M1111 111h18M1137 111h9M1129 113h8M1025 119h9M1059 119h9M1085 119h26M1120 119h9M1137 119h17.6M1034 120h17M1059 120h9M1094 120h9M1111 120h35M1016.2 121h34.8M1059 121h9M1077 121h34M1146 121h8.6M1025 123h52M1085 123h18M1120 123h9M1025 125h9M1068 125h9M1137 125h9M1016.2 126h17.8M1016.2 129h8.8M1034 129h8M1025 130h26M1077 130h17M1025 131h9M1016.2 136h25.8M1016.2 140h17.8M1042 142h9M1025 143h26M1034 147h8M1059 147h9M1111 147h9M1129 147h8M1146 147h8.6M1025 149h9M1120 149h34.6M1051 150h26M1016.2 151h25.8M1120 151h26M1025 154h9M1120 154h17M1025 155h9M1016.2 157h8.8M1016.2 159h8.8M1034 160h8M1034 161h8M1016.2 162h25.8M1016.2 163h8.8M1094 164h43M1034 165h8M1034 166h8M1051 166h26M1094 166h9M1042 167h9M1077 167h8M1034 168h17M1059 168h9M1025 169h9M1016.2 170h17.8M1016.2 172h8.8M1025 173h9M1025 175h9M1068 176h35M1111 176h26M1051 177h17M1077 177h8M1094 177h9M1111 177h26M1146 177h8.6M1059 178h9M1085 178h9M1103 178h8M1137 178h17.6M1085 180h26M1146 180h8.6M1034 181h8M1068 181h9M1016.2 182h8.8M1034 183h51M1051 184h8M1077 184h8M1094 184h9M1111 184h43.6M1051 185h17M1077 185h17M1025 187h9M1059 188h18M1085 188h9M1103 188h26M1137 188h17.6M1016.2 189h8.8M1016.2 190h17.8M1025 191h9M1025 192h9M1042 193h17M1042 194h9M1077 194h26M1137 194h9M1042 195h9M1059 195h9M1016.2 196h8.8M1051 197h8M1016.2 198h17.8M1051 199h17M1085 199h9M1016.2 200h8.8M1042 200h9M1016.2 201h8.8M1016.2 202h17.8M1016.2 203h17.8M1034 205h8M1068 206h9M1120 206h9M1146 206h8.6M1059 207h9M1094 207h17M1129 207h8M1016.2 208h8.8M1034 208h8M1016.2 209h8.8M1068 210h9M1129 210h8M1016.2 211h17.8M1016.2 213h25.8M1077 213h8M1103 213h8M1120 213h9M1137 213h9M1016.2 214h34.8M1137 214h9M1025 216h26M1034 224h8M1129 224h8M1016.2 225h8.8M1034 225h25M1085 225h9"/>
<path stroke="rgb(253,197,125)" d="M1146 0h8.6M1016.2 8h8.8M1051 8h8M1085 8h26M1120 8h34.6M1103 9h8M1120 9h26M1120 14h9M1025 18h17M1094 18h35M1137 18h17.6M1016.2 20h25.8M1077 20h17M1111 20h9M1146 20h8.6M1120 21h9M1025 22h17M1051 22h8M1068 22h9M1085 22h9M1111 22h9M1059 23h26M1094 23h9M1120 23h9M1146 23h8.6M1016.2 27h8.8M1016.2 29h8.8M1025 35h9M1016.2 39h8.8M1016.2 42h8.8M1016.2 51h8.8M1034 51h8M1051 51h8M1016.2 61h8.8M1042 62h9M1129 62h8M1025 63h9M1016.2 64h8.8M1034 69h8M1051 69h8M1120 69h9M1137 69h9M1034 73h8M1111 73h26M1042 74h9M1103 74h8M1034 75h8M1059 76h18M1094 76h9M1051 77h8M1068 77h17M1103 77h8M1051 78h8M1042 79h9M1059 79h18M1094 79h35M1042 80h17M1051 81h26M1068 82h26M1103 82h26M1146 82h8.6M1085 83h18M1111 83h9M1129 83h25.6M1077 84h34M1120 84h17M1025 107h9M1077 107h17M1120 107h17M1025 108h26M1059 108h26M1129 108h17M1129 110h8M1016.2 112h8.8M1034 119h25M1068 119h17M1111 119h9M1129 119h8M1103 120h8M1051 121h8M1016.2 122h17.8M1111 123h9M1129 123h25.6M1016.2 124h8.8M1016.2 127h8.8M1034 127h8M1016.2 128h8.8M1042 129h52M1103 129h8M1051 130h8M1103 130h8M1016.2 131h8.8M1034 131h8M1059 131h9M1016.2 134h8.8M1077 136h8M1094 136h9M1016.2 142h25.8M1051 142h17M1085 142h9M1103 142h17M1051 143h26M1094 143h35M1016.2 145h8.8M1016.2 146h8.8M1042 147h17M1077 147h34M1016.2 148h8.8M1034 149h25M1085 149h9M1103 149h17M1094 151h26M1016.2 152h8.8M1034 154h17M1094 154h26M1016.2 155h8.8M1120 155h17M1146 155h8.6M1016.2 156h17.8M1025 157h9M1129 157h8M1016.2 158h17.8M1042 159h9M1042 160h17M1077 160h8M1042 161h52M1137 161h9M1042 162h26M1025 163h9M1137 164h17.6M1042 165h43M1077 166h17M1103 166h8M1120 166h9M1137 166h17.6M1051 167h17M1051 168h8M1034 170h8M1059 170h9M1016.2 171h8.8M1025 172h9M1016.2 173h8.8M1034 175h17M1103 176h8M1103 177h8M1137 177h9M1111 178h18M1042 181h26M1077 181h34M1137 181h17.6M1025 182h9M1085 183h18M1129 183h17M1103 184h8M1068 185h9M1094 185h52M1034 186h8M1051 186h8M1034 187h8M1129 188h8M1034 191h8M1051 191h8M1016.2 192h8.8M1034 193h8M1068 193h9M1094 193h9M1129 193h8M1059 194h9M1103 194h34M1146 194h8.6M1051 195h8M1077 195h8M1059 197h9M1077 197h8M1146 197h8.6M1068 199h17M1094 199h9M1111 199h9M1137 199h17.6M1025 201h9M1034 203h17M1042 205h17M1077 206h26M1111 206h9M1129 206h17M1111 207h18M1042 208h17M1025 209h9M1059 210h9M1077 210h52M1137 210h17.6M1034 211h8M1025 212h17M1051 213h17M1094 213h9M1129 213h8M1146 213h8.6M1077 214h8M1094 214h9M1111 214h9M1129 214h8M1016.2 216h8.8M1059 216h9M1085 216h9M1129 216h8M1146 216h8.6M1016.2 218h34.8M1068 218h9M1094 218h9M1146 218h8.6M1016.2 221h17.8M1016.2 224h17.8M1042 224h35M1085 224h18M1111 224h18M1146 224h8.6M1059 225h26M1094 225h35M1137 225h17.6M1016.2 226h8.8M1016.2 227h25.8M1068 227h9M1103 227h8"/>
<path stroke="rgb(254,226,142)" d="M1016.2 2h8.8M1111 8h9M1111 9h9M1146 9h8.6M1016.2 15h8.8M1068 18h9M1129 18h8M1042 20h35M1094 20h17M1120 20h26M1129 22h8M1034 23h25M1085 23h9M1111 23h9M1129 23h17M1016.2 35h8.8M1016.2 62h25.8M1051 62h78M1137 62h17.6M1016.2 63h8.8M1034 63h51M1094 63h9M1111 63h43.6M1042 73h35M1085 73h26M1137 73h17.6M1042 75h26M1111 75h9M1077 76h17M1103 76h34M1085 77h18M1111 77h26M1146 77h8.6M1059 78h44M1111 78h18M1077 79h17M1129 79h8M1059 80h61M1077 81h43M1094 82h9M1129 82h17M1068 83h9M1137 84h9M1016.2 107h8.8M1103 107h17M1137 107h17.6M1016.2 108h8.8M1085 108h44M1146 108h8.6M1034 122h25M1068 122h52M1129 122h25.6M1025 124h26M1068 124h35M1111 124h43.6M1034 126h120.6M1042 127h26M1077 127h43M1025 128h34M1068 128h17M1094 129h9M1111 129h35M1059 130h18M1094 130h9M1111 130h43.6M1042 131h17M1068 131h43M1129 131h8M1146 131h8.6M1016.2 132h25.8M1025 133h9M1025 134h9M1016.2 135h17.8M1042 136h35M1103 136h26M1016.2 137h17.8M1042 137h9M1016.2 138h17.8M1042 140h9M1068 142h17M1094 142h9M1120 142h34.6M1077 143h17M1129 143h25.6M1016.2 144h17.8M1025 145h17M1111 145h26M1025 146h26M1111 146h35M1068 147h9M1025 148h17M1120 148h17M1059 149h26M1094 149h9M1042 151h9M1059 151h9M1077 151h17M1146 151h8.6M1025 152h17M1016.2 153h17.8M1051 154h17M1085 154h9M1137 154h17.6M1034 155h34M1085 155h35M1137 155h9M1034 156h17M1111 156h26M1034 157h17M1103 157h26M1137 157h17.6M1034 158h8M1051 158h8M1111 158h35M1034 159h8M1051 159h34M1094 159h9M1059 160h18M1085 160h35M1129 160h17M1094 161h9M1129 161h8M1146 161h8.6M1068 162h35M1137 162h17.6M1034 163h25M1085 165h69.6M1111 166h9M1129 166h8M1068 167h9M1085 167h69.6M1068 168h43M1120 168h17M1146 168h8.6M1034 169h34M1042 170h17M1068 170h9M1094 170h9M1025 171h17M1034 172h17M1042 173h9M1016.2 174h17.8M1051 175h26M1085 175h9M1137 175h9M1085 177h9M1111 181h26M1034 182h8M1103 183h26M1146 183h8.6M1042 186h9M1059 186h35M1129 186h17M1042 187h69M1120 187h26M1025 189h43M1085 189h9M1034 190h25M1068 190h9M1042 191h9M1059 191h18M1085 191h9M1103 191h8M1137 191h9M1034 192h34M1059 193h9M1077 193h17M1103 193h26M1137 193h9M1068 195h9M1085 195h18M1120 195h34.6M1042 196h26M1077 196h8M1068 197h9M1085 197h35M1129 197h17M1034 198h25M1068 198h9M1103 199h8M1120 199h17M1051 200h17M1085 200h9M1034 201h25M1042 202h35M1051 203h17M1059 205h26M1103 206h8M1077 208h8M1034 209h25M1042 211h9M1042 212h17M1068 213h9M1085 213h9M1111 213h9M1051 214h26M1085 214h9M1103 214h8M1120 214h9M1146 214h8.6M1016.2 215h34.8M1103 215h8M1051 216h8M1068 216h17M1103 216h26M1137 216h9M1016.2 217h17.8M1051 218h17M1077 218h17M1103 218h43M1016.2 219h8.8M1016.2 220h34.8M1129 220h8M1034 221h25M1068 221h17M1103 221h8M1146 221h8.6M1016.2 222h17.8M1016.2 223h8.8M1077 224h8M1103 224h8M1137 224h9M1129 225h8M1025 226h26M1094 226h9M1111 226h9M1137 226h9M1042 227h26M1077 227h17M1111 227h43.6"/>
<path stroke="rgb(219,215,169)" d="M1085 63h9M1103 63h8M1068 75h43M1120 75h9M1137 75h9M1137 76h17.6M1137 77h9M1103 78h8M1129 78h25.6M1137 79h17.6M1120 80h34.6M1120 81h34.6M1059 122h9M1120 122h9M1051 124h17M1103 124h8M1068 127h9M1120 127h34.6M1059 128h9M1085 128h61M1146 129h8.6M1111 131h18M1137 131h9M1042 132h78M1129 132h8M1016.2 133h8.8M1034 133h17M1034 134h51M1094 134h9M1034 135h77M1085 136h9M1129 136h25.6M1034 137h8M1051 137h69M1129 137h8M1034 138h60M1103 138h8M1034 140h8M1051 140h43M1103 140h26M1034 144h43M1111 144h9M1042 145h17M1085 145h26M1137 145h17.6M1051 146h17M1094 146h17M1146 146h8.6M1042 148h17M1094 148h26M1137 148h17.6M1051 151h8M1068 151h9M1042 152h9M1103 152h51.6M1034 153h17M1103 153h43M1068 154h17M1068 155h17M1094 156h17M1137 156h17.6M1051 157h8M1068 157h35M1042 158h9M1059 158h52M1146 158h8.6M1085 159h9M1103 159h26M1137 159h17.6M1120 160h9M1146 160h8.6M1103 161h26M1103 162h34M1059 163h35M1129 163h8M1111 168h9M1137 168h9M1068 169h43M1137 169h17.6M1077 170h17M1103 170h51.6M1042 171h26M1051 172h52M1137 172h9M1034 173h8M1051 173h43M1137 173h17.6M1034 174h17M1077 175h8M1094 175h43M1146 175h8.6M1042 182h35M1085 182h18M1146 182h8.6M1094 186h35M1146 186h8.6M1111 187h9M1146 187h8.6M1068 189h17M1094 189h26M1129 189h25.6M1059 190h9M1077 190h26M1120 190h34.6M1077 191h8M1094 191h9M1111 191h26M1146 191h8.6M1068 192h35M1120 192h17M1146 192h8.6M1146 193h8.6M1103 195h17M1068 196h9M1085 196h26M1120 196h34.6M1120 197h9M1059 198h9M1085 198h9M1068 200h17M1094 200h60.6M1059 201h18M1077 202h34M1129 202h25.6M1068 203h35M1111 203h43.6M1085 205h18M1120 205h34.6M1059 208h18M1085 208h9M1129 208h8M1146 208h8.6M1059 209h26M1137 209h17.6M1051 211h34M1146 211h8.6M1059 212h35M1103 212h8M1146 212h8.6M1051 215h43M1111 215h43.6M1094 216h9M1034 217h34M1129 217h8M1025 219h9M1051 220h43M1103 220h17M1137 220h17.6M1059 221h9M1085 221h18M1111 221h35M1034 222h17M1025 223h17M1051 226h43M1103 226h8M1120 226h17M1146 226h8.6M1094 227h9"/>
<path stroke="rgb(185,203,195)" d="M1129 75h8M1146 75h8.6M1146 128h8.6M1120 132h9M1137 132h9M1051 133h43M1085 134h9M1103 134h34M1111 135h26M1146 135h8.6M1120 137h9M1137 137h17.6M1094 138h9M1111 138h26M1094 140h9M1137 140h17.6M1077 144h34M1120 144h9M1059 145h9M1077 145h8M1077 146h17M1059 148h9M1077 148h17M1051 152h8M1085 152h18M1085 153h18M1146 153h8.6M1051 156h17M1077 156h17M1059 157h9M1129 159h8M1094 163h35M1137 163h17.6M1111 169h26M1068 171h43M1120 171h34.6M1103 172h34M1146 172h8.6M1094 173h9M1111 173h26M1051 174h26M1077 182h8M1103 182h43M1120 189h9M1103 190h17M1103 192h17M1137 192h9M1111 196h9M1077 198h8M1094 198h60.6M1077 201h17M1137 201h17.6M1111 202h18M1103 203h8M1103 205h17M1094 208h35M1137 208h9M1085 209h26M1120 209h17M1085 211h26M1120 211h26M1094 212h9M1111 212h9M1129 212h17M1094 215h9M1068 217h9M1085 217h44M1137 217h17.6M1034 219h8M1094 220h9M1120 220h9M1111 222h9M1129 222h17M1042 223h26M1103 223h8M1120 223h17M1146 223h8.6"/>
<path stroke="rgb(150,192,222)" d="M1146 132h8.6M1094 133h35M1137 134h17.6M1137 135h9M1137 138h17.6M1129 140h8M1129 144h25.6M1068 145h9M1068 146h9M1068 148h9M1059 152h9M1051 153h34M1068 156h9M1111 171h9M1103 173h8M1077 174h17M1129 174h8M1146 174h8.6M1094 201h43M1111 209h9M1111 211h9M1120 212h9M1077 217h8M1042 219h17M1051 222h17M1094 222h17M1120 222h9M1146 222h8.6M1068 223h9M1085 223h18M1111 223h9M1137 223h9"/>
<path stroke="rgb(124,168,211)" d="M1129 133h25.6M1068 152h17M1094 174h35M1137 174h9M1068 219h9M1103 219h51.6M1068 222h26M1077 223h8"/>
<path stroke="rgb(98,144,201)" d="M1059 219h9M1077 219h26"/>
</g>
<rect x="1016.25" y="124.25" width="138.35" height="228.25" fill="none" stroke="#3a3a3a" stroke-width="1"/>
<path d="M1025.25 352.50V360.00" stroke="#333" stroke-width="1"/>
<text x="1025.25" y="375.80" font-size="16" text-anchor="middle" fill="#1a1a1a" textLength="8.9" lengthAdjust="spacingAndGlyphs" >0</text>
<path d="M1042.45 352.50V360.00" stroke="#333" stroke-width="1"/>
<text x="1042.45" y="375.80" font-size="16" text-anchor="middle" fill="#1a1a1a" textLength="7.0" lengthAdjust="spacingAndGlyphs" >1</text>
<path d="M1059.65 352.50V360.00" stroke="#333" stroke-width="1"/>
<text x="1059.65" y="375.80" font-size="16" text-anchor="middle" fill="#1a1a1a" textLength="8.9" lengthAdjust="spacingAndGlyphs" >2</text>
<path d="M1076.85 352.50V360.00" stroke="#333" stroke-width="1"/>
<text x="1076.85" y="375.80" font-size="16" text-anchor="middle" fill="#1a1a1a" textLength="8.9" lengthAdjust="spacingAndGlyphs" >3</text>
<path d="M1094.05 352.50V360.00" stroke="#333" stroke-width="1"/>
<text x="1094.05" y="375.80" font-size="16" text-anchor="middle" fill="#1a1a1a" textLength="8.9" lengthAdjust="spacingAndGlyphs" >4</text>
<path d="M1111.25 352.50V360.00" stroke="#333" stroke-width="1"/>
<text x="1111.25" y="375.80" font-size="16" text-anchor="middle" fill="#1a1a1a" textLength="8.9" lengthAdjust="spacingAndGlyphs" >5</text>
<path d="M1128.45 352.50V360.00" stroke="#333" stroke-width="1"/>
<text x="1128.45" y="375.80" font-size="16" text-anchor="middle" fill="#1a1a1a" textLength="8.9" lengthAdjust="spacingAndGlyphs" >6</text>
<path d="M1145.65 352.50V360.00" stroke="#333" stroke-width="1"/>
<text x="1145.65" y="375.80" font-size="16" text-anchor="middle" fill="#1a1a1a" textLength="8.9" lengthAdjust="spacingAndGlyphs" >7</text>
<rect x="1164.20" y="124.25" width="11.70" height="38.42" fill="#4470B0"/>
<rect x="1164.20" y="162.38" width="11.70" height="38.42" fill="#8FBBDD"/>
<rect x="1164.20" y="200.50" width="11.70" height="38.42" fill="#FEE391"/>
<rect x="1164.20" y="238.62" width="11.70" height="38.42" fill="#FC8D59"/>
<rect x="1164.20" y="276.75" width="11.70" height="38.42" fill="#CB181D"/>
<rect x="1164.20" y="314.88" width="11.70" height="38.42" fill="#963232"/>
<path d="M1164.20 124.25V353.00M1175.90 124.25V353.00" stroke="#333" stroke-width="0.9" fill="none"/>
<path d="M1175.90 124.25H1183.00" stroke="#333" stroke-width="1" fill="none"/>
<text x="1190.00" y="129.95" font-size="16" text-anchor="start" fill="#1a1a1a" textLength="31.2" lengthAdjust="spacingAndGlyphs" >0.06</text>
<path d="M1175.90 162.38H1183.00" stroke="#333" stroke-width="1" fill="none"/>
<text x="1190.00" y="168.07" font-size="16" text-anchor="start" fill="#1a1a1a" textLength="31.2" lengthAdjust="spacingAndGlyphs" >0.03</text>
<path d="M1175.90 200.50H1183.00" stroke="#333" stroke-width="1" fill="none"/>
<text x="1190.00" y="206.20" font-size="16" text-anchor="start" fill="#1a1a1a" textLength="8.9" lengthAdjust="spacingAndGlyphs" >0</text>
<path d="M1175.90 238.62H1183.00" stroke="#333" stroke-width="1" fill="none"/>
<text x="1190.00" y="244.32" font-size="16" text-anchor="start" fill="#1a1a1a" textLength="40.5" lengthAdjust="spacingAndGlyphs" >−0.05</text>
<path d="M1175.90 276.75H1183.00" stroke="#333" stroke-width="1" fill="none"/>
<text x="1190.00" y="282.45" font-size="16" text-anchor="start" fill="#1a1a1a" textLength="38.6" lengthAdjust="spacingAndGlyphs" >−0.15</text>
<path d="M1175.90 314.88H1183.00" stroke="#333" stroke-width="1" fill="none"/>
<text x="1190.00" y="320.57" font-size="16" text-anchor="start" fill="#1a1a1a" textLength="40.5" lengthAdjust="spacingAndGlyphs" >−0.25</text>
<path d="M1175.90 353.00H1183.00" stroke="#333" stroke-width="1" fill="none"/>
<text x="1190.00" y="358.70" font-size="16" text-anchor="start" fill="#1a1a1a" textLength="40.5" lengthAdjust="spacingAndGlyphs" >−0.35</text>
<rect x="719.50" y="126.20" width="285.00" height="226.20" fill="none" stroke="#333" stroke-width="1"/>
<path d="M714.00 126.20H719.50" stroke="#333" stroke-width="1"/>
<text x="704.70" y="131.90" font-size="16" text-anchor="end" fill="#1a1a1a" textLength="29.3" lengthAdjust="spacingAndGlyphs" >0.10</text>
<path d="M714.00 163.90H719.50" stroke="#333" stroke-width="1"/>
<text x="704.70" y="169.60" font-size="16" text-anchor="end" fill="#1a1a1a" textLength="31.2" lengthAdjust="spacingAndGlyphs" >0.05</text>
<path d="M714.00 201.60H719.50" stroke="#333" stroke-width="1"/>
<text x="704.70" y="207.30" font-size="16" text-anchor="end" fill="#1a1a1a" textLength="8.9" lengthAdjust="spacingAndGlyphs" >0</text>
<path d="M714.00 239.30H719.50" stroke="#333" stroke-width="1"/>
<text x="704.70" y="245.00" font-size="16" text-anchor="end" fill="#1a1a1a" textLength="40.5" lengthAdjust="spacingAndGlyphs" >−0.05</text>
<path d="M714.00 277.00H719.50" stroke="#333" stroke-width="1"/>
<text x="704.70" y="282.70" font-size="16" text-anchor="end" fill="#1a1a1a" textLength="38.6" lengthAdjust="spacingAndGlyphs" >−0.10</text>
<path d="M714.00 314.70H719.50" stroke="#333" stroke-width="1"/>
<text x="704.70" y="320.40" font-size="16" text-anchor="end" fill="#1a1a1a" textLength="38.6" lengthAdjust="spacingAndGlyphs" >−0.15</text>
<path d="M714.00 352.40H719.50" stroke="#333" stroke-width="1"/>
<text x="704.70" y="358.10" font-size="16" text-anchor="end" fill="#1a1a1a" textLength="40.5" lengthAdjust="spacingAndGlyphs" >−0.20</text>
<path d="M733.00 352.40V360.20" stroke="#333" stroke-width="1"/>
<text x="733.00" y="379.30" font-size="16" text-anchor="middle" fill="#1a1a1a" textLength="8.9" lengthAdjust="spacingAndGlyphs" >0</text>
<path d="M769.90 352.40V360.20" stroke="#333" stroke-width="1"/>
<text x="769.90" y="379.30" font-size="16" text-anchor="middle" fill="#1a1a1a" textLength="7.0" lengthAdjust="spacingAndGlyphs" >1</text>
<path d="M806.80 352.40V360.20" stroke="#333" stroke-width="1"/>
<text x="806.80" y="379.30" font-size="16" text-anchor="middle" fill="#1a1a1a" textLength="8.9" lengthAdjust="spacingAndGlyphs" >2</text>
<path d="M843.70 352.40V360.20" stroke="#333" stroke-width="1"/>
<text x="843.70" y="379.30" font-size="16" text-anchor="middle" fill="#1a1a1a" textLength="8.9" lengthAdjust="spacingAndGlyphs" >3</text>
<path d="M880.60 352.40V360.20" stroke="#333" stroke-width="1"/>
<text x="880.60" y="379.30" font-size="16" text-anchor="middle" fill="#1a1a1a" textLength="8.9" lengthAdjust="spacingAndGlyphs" >4</text>
<path d="M917.50 352.40V360.20" stroke="#333" stroke-width="1"/>
<text x="917.50" y="379.30" font-size="16" text-anchor="middle" fill="#1a1a1a" textLength="8.9" lengthAdjust="spacingAndGlyphs" >5</text>
<path d="M954.40 352.40V360.20" stroke="#333" stroke-width="1"/>
<text x="954.40" y="379.30" font-size="16" text-anchor="middle" fill="#1a1a1a" textLength="8.9" lengthAdjust="spacingAndGlyphs" >6</text>
<path d="M991.30 352.40V360.20" stroke="#333" stroke-width="1"/>
<text x="991.30" y="379.30" font-size="16" text-anchor="middle" fill="#1a1a1a" textLength="8.9" lengthAdjust="spacingAndGlyphs" >7</text>
<path d="M719.50 201.70H1004.00" stroke="#000" stroke-width="1.6" stroke-dasharray="6 3.8"/>
<path d="M733.00 218.25V270.75" stroke="#66CC66" stroke-width="3"/>
<path d="M769.90 217.00V330.00" stroke="#66CC66" stroke-width="3"/>
<path d="M806.80 201.75V309.50" stroke="#66CC66" stroke-width="3"/>
<path d="M843.70 193.25V292.50" stroke="#66CC66" stroke-width="3"/>
<path d="M880.60 198.00V295.50" stroke="#66CC66" stroke-width="3"/>
<path d="M917.50 190.00V290.00" stroke="#66CC66" stroke-width="3"/>
<path d="M954.40 189.25V279.25" stroke="#66CC66" stroke-width="3"/>
<path d="M991.30 186.75V281.25" stroke="#66CC66" stroke-width="3"/>
<circle cx="733.00" cy="247.50" r="5.1" fill="#fff" stroke="#66CC66" stroke-width="1.7"/>
<circle cx="769.90" cy="280.00" r="5.1" fill="#fff" stroke="#66CC66" stroke-width="1.7"/>
<circle cx="806.80" cy="258.75" r="5.1" fill="#fff" stroke="#66CC66" stroke-width="1.7"/>
<circle cx="843.70" cy="247.50" r="5.1" fill="#fff" stroke="#66CC66" stroke-width="1.7"/>
<circle cx="880.60" cy="248.75" r="5.1" fill="#fff" stroke="#66CC66" stroke-width="1.7"/>
<circle cx="917.50" cy="243.25" r="5.1" fill="#fff" stroke="#66CC66" stroke-width="1.7"/>
<circle cx="954.40" cy="239.50" r="5.1" fill="#fff" stroke="#66CC66" stroke-width="1.7"/>
<circle cx="991.30" cy="236.25" r="5.1" fill="#fff" stroke="#66CC66" stroke-width="1.7"/>
<path d="M769.90 278.75C776.05 275.83 794.50 266.17 806.80 261.25C819.10 256.33 831.40 252.21 843.70 249.25C856.00 246.29 868.30 244.99 880.60 243.50C892.90 242.01 905.20 241.09 917.50 240.30C929.80 239.51 942.10 239.09 954.40 238.75C966.70 238.41 985.15 238.33 991.30 238.25" fill="none" stroke="#B576A0" stroke-width="3.2" stroke-linecap="butt"/>
<path d="M867.00 143.75H886.30" stroke="#B576A0" stroke-width="3.2"/>
<text x="896.60" y="148.30" font-size="15" text-anchor="start" fill="#1a1a1a" textLength="103.7" lengthAdjust="spacingAndGlyphs" >NDVI recovery</text>
<circle cx="876.60" cy="162.40" r="5.1" fill="#fff" stroke="#66CC66" stroke-width="1.7"/>
<text x="896.60" y="168.00" font-size="15" text-anchor="start" fill="#1a1a1a" textLength="73.0" lengthAdjust="spacingAndGlyphs" >Post-2010</text>
<text x="733.00" y="320.00" font-size="15" text-anchor="start" fill="#1a1a1a" textLength="100.8" lengthAdjust="spacingAndGlyphs" ><tspan font-style="italic">y</tspan> = −0.162 × 10</text>
<text x="835.50" y="312.80" font-size="9.3" text-anchor="start" fill="#1a1a1a" textLength="34.0" lengthAdjust="spacingAndGlyphs" >−0.457<tspan font-style="italic">x</tspan></text>
<text x="874.50" y="320.00" font-size="15" text-anchor="start" fill="#1a1a1a" textLength="113.7" lengthAdjust="spacingAndGlyphs" >+ (−0.022)log(<tspan font-style="italic">x</tspan>)</text>
<text x="733.00" y="339.25" font-size="15" text-anchor="start" fill="#1a1a1a" textLength="62.5" lengthAdjust="spacingAndGlyphs" ><tspan font-style="italic">R</tspan><tspan dy="-7" font-size="9.3">2</tspan><tspan dy="7"> = 0.96</tspan></text>
<text transform="translate(650.30,240.20) rotate(-90)" font-size="17.3" text-anchor="middle" fill="#1a1a1a" textLength="53.0" lengthAdjust="spacingAndGlyphs"><tspan font-style="italic">d</tspan>NDVI</text>
<text x="636.00" y="125.80" font-size="25" font-weight="bold" fill="#111" style="stroke:#111;stroke-width:1.1px">d</text>
<g transform="translate(0,426.20) scale(1,1.0000)" stroke-width="1.06" fill="none" shape-rendering="crispEdges">
<path stroke="rgb(160,48,48)" d="M1054 91h34M1105 91h8M1122 91h8M1088 110h8M1113 110h9M1071 111h8M1147 111h8.8M1054 116h17"/>
<path stroke="rgb(160,48,48)" d="M1045 17h9M1113 70h9M1147 70h8.8M1088 77h8M1130 77h9M1105 90h8M1037 91h17M1088 91h17M1113 91h9M1130 91h25.8M1045 108h9M1096 108h17M1045 110h9M1062 110h26M1096 110h17M1122 110h8M1139 110h16.8M1045 111h26M1079 111h26M1122 111h25M1045 116h9M1071 116h17M1105 116h8"/>
<path stroke="rgb(160,48,48)" d="M1037 17h8M1054 17h17M1045 25h9M1113 68h9M1147 68h8.8M1045 70h9M1062 70h9M1079 70h34M1139 70h8M1054 71h8M1113 71h9M1045 77h9M1062 77h26M1096 77h9M1122 77h8M1147 77h8.8M1045 78h9M1088 78h8M1105 78h17M1130 78h9M1045 83h17M1071 83h8M1105 83h17M1139 83h8M1054 85h25M1088 85h8M1105 85h17M1139 85h8M1045 86h17M1079 86h9M1096 86h9M1054 90h34M1096 90h9M1113 90h9M1130 90h17M1054 93h17M1079 93h9M1105 93h17M1122 94h8M1079 95h9M1105 95h8M1139 95h8M1037 97h25M1113 97h17M1139 97h8M1113 99h9M1130 99h9M1071 103h8M1122 103h8M1139 103h8M1045 105h9M1062 105h9M1096 105h9M1139 105h16.8M1071 107h8M1088 107h8M1130 107h9M1037 108h8M1054 108h42M1113 108h9M1130 108h9M1045 109h9M1088 109h8M1113 109h42.8M1054 110h8M1130 110h9M1105 111h17M1045 112h17M1071 112h17M1096 112h9M1113 112h9M1130 112h17M1037 116h8M1088 116h17M1113 116h42.8M1019.5 127h8.5"/>
<path stroke="rgb(160,48,48)" d="M1071 17h8M1147 17h8.8M1062 25h9M1045 34h9M1019.5 37h8.5M1045 37h9M1037 39h8M1045 52h17M1088 52h8M1105 52h8M1139 52h8M1054 65h8M1088 65h8M1105 65h17M1130 65h9M1045 68h26M1079 68h17M1122 68h25M1139 69h8M1054 70h8M1071 70h8M1122 70h17M1045 71h9M1062 71h51M1122 71h17M1147 71h8.8M1079 76h9M1130 76h9M1054 77h8M1105 77h17M1139 77h8M1054 78h34M1096 78h9M1122 78h8M1139 78h16.8M1045 79h9M1062 79h9M1079 79h9M1096 79h51M1054 80h17M1079 80h9M1096 80h43M1054 81h17M1139 81h8M1139 82h8M1079 83h26M1122 83h17M1045 85h9M1079 85h9M1096 85h9M1122 85h17M1147 85h8.8M1037 86h8M1062 86h17M1105 86h50.8M1045 87h26M1079 87h60M1147 87h8.8M1045 90h9M1088 90h8M1122 90h8M1147 90h8.8M1062 92h9M1037 93h17M1071 93h8M1088 93h17M1122 93h33.8M1054 94h34M1105 94h8M1139 94h16.8M1045 95h9M1062 95h17M1088 95h17M1113 95h9M1130 95h9M1147 95h8.8M1054 96h8M1071 96h8M1088 96h8M1113 96h9M1130 96h9M1147 96h8.8M1062 97h51M1147 97h8.8M1062 98h9M1105 98h17M1147 98h8.8M1054 99h42M1105 99h8M1122 99h8M1105 100h8M1139 100h8M1054 101h8M1079 101h9M1139 101h16.8M1062 103h9M1079 103h34M1130 103h9M1045 104h17M1071 104h17M1096 104h9M1122 104h8M1147 104h8.8M1054 105h8M1071 105h25M1105 105h25M1054 106h8M1113 106h26M1045 107h9M1079 107h9M1096 107h17M1122 107h8M1139 107h16.8M1122 108h8M1139 108h16.8M1054 109h34M1096 109h17M1037 110h8M1037 111h8M1037 112h8M1062 112h9M1088 112h8M1105 112h8M1147 112h8.8M1019.5 116h8.5M1037 127h8M1037 220h8"/>
<path stroke="rgb(175,44,44)" d="M1045 7h26M1054 8h17M1045 10h9M1062 10h17M1045 15h34M1079 17h34M1122 17h8M1139 17h8M1045 20h9M1062 20h9M1079 20h9M1045 21h9M1071 21h8M1045 24h26M1054 25h8M1071 25h8M1045 31h9M1045 32h9M1054 33h8M1054 34h34M1054 35h8M1028 37h17M1019.5 39h17.5M1054 48h25M1105 48h8M1147 48h8.8M1037 52h8M1062 52h17M1096 52h9M1113 52h26M1147 52h8.8M1045 54h26M1130 54h25.8M1054 56h17M1045 59h9M1045 65h9M1062 65h26M1096 65h9M1122 65h8M1139 65h16.8M1071 68h8M1096 68h17M1045 69h9M1062 69h60M1130 69h9M1147 69h8.8M1037 70h8M1037 71h8M1139 71h8M1045 74h9M1045 76h34M1088 76h34M1139 76h16.8M1037 77h8M1037 78h8M1054 79h8M1071 79h8M1088 79h8M1147 79h8.8M1045 80h9M1071 80h8M1139 80h16.8M1079 81h26M1113 81h9M1130 81h9M1045 82h68M1130 82h9M1147 82h8.8M1037 83h8M1062 83h9M1147 83h8.8M1037 85h8M1088 86h8M1037 87h8M1071 87h8M1139 87h8M1147 89h8.8M1037 90h8M1054 92h8M1071 92h42M1122 92h8M1139 92h16.8M1037 94h17M1088 94h17M1113 94h9M1130 94h9M1122 95h8M1045 96h9M1062 96h9M1079 96h9M1096 96h17M1122 96h8M1139 96h8M1130 97h9M1045 98h17M1071 98h25M1122 98h25M1045 99h9M1096 99h9M1139 99h16.8M1054 100h25M1088 100h17M1113 100h17M1147 100h8.8M1045 101h9M1062 101h9M1088 101h34M1130 101h9M1045 102h9M1062 102h9M1079 102h17M1130 102h17M1045 103h17M1113 103h9M1147 103h8.8M1037 104h8M1062 104h9M1105 104h17M1130 104h9M1037 105h8M1037 106h17M1062 106h43M1139 106h8M1037 107h8M1054 107h17M1113 107h9M1037 109h8M1122 112h8M1045 113h9M1062 113h43M1113 113h42.8M1028 116h9M1028 119h9M1028 125h9M1028 127h9M1045 127h9M1019.5 129h8.5M1019.5 130h8.5M1037 131h8M1019.5 132h34.5M1037 185h8M1037 188h8M1037 219h8M1037 222h17"/>
<path stroke="rgb(190,39,39)" d="M1037 7h8M1071 7h17M1096 7h9M1045 8h9M1054 10h8M1079 10h9M1045 12h9M1045 14h17M1071 14h8M1037 15h8M1079 15h9M1122 15h8M1037 16h42M1113 17h9M1130 17h9M1045 18h17M1037 20h8M1054 20h8M1071 20h8M1054 21h17M1037 24h8M1071 24h34M1130 24h9M1147 24h8.8M1037 25h8M1079 25h9M1105 25h8M1139 25h8M1045 26h17M1071 26h8M1088 26h17M1045 27h9M1054 31h25M1037 32h8M1054 32h8M1045 33h9M1071 33h8M1037 34h8M1122 34h8M1139 34h8M1045 35h9M1062 35h26M1045 39h17M1019.5 40h25.5M1045 46h9M1045 47h51M1037 48h17M1079 48h9M1096 48h9M1113 48h17M1062 49h9M1122 49h8M1079 52h9M1037 54h8M1071 54h17M1096 54h17M1122 54h8M1045 56h9M1071 56h34M1113 56h17M1147 56h8.8M1045 57h9M1062 57h9M1088 57h17M1037 58h8M1054 58h8M1130 58h9M1147 58h8.8M1054 59h8M1079 59h9M1096 59h9M1122 59h8M1139 59h8M1037 68h8M1122 69h8M1045 73h9M1071 73h8M1096 73h9M1130 73h9M1147 73h8.8M1054 74h8M1071 74h8M1122 74h17M1147 74h8.8M1122 75h8M1037 76h8M1122 76h8M1028 78h9M1037 79h8M1037 80h8M1088 80h8M1045 81h9M1071 81h8M1105 81h8M1122 81h8M1147 81h8.8M1037 82h8M1113 82h17M1028 87h9M1054 89h93M1028 91h9M1045 92h9M1113 92h9M1130 92h9M1028 94h9M1037 95h8M1054 95h8M1037 98h8M1096 98h9M1037 99h8M1045 100h9M1079 100h9M1130 100h9M1037 101h8M1071 101h8M1122 101h8M1037 102h8M1054 102h8M1071 102h8M1096 102h34M1147 102h8.8M1037 103h8M1088 104h8M1139 104h8M1130 105h9M1105 106h8M1147 106h8.8M1028 108h9M1028 110h9M1037 113h8M1054 113h8M1105 113h8M1019.5 115h8.5M1019.5 119h8.5M1037 119h17M1028 122h9M1019.5 124h17.5M1019.5 125h8.5M1019.5 126h8.5M1037 126h8M1019.5 128h17.5M1019.5 131h17.5M1019.5 167h8.5M1019.5 170h8.5M1019.5 178h8.5M1019.5 184h8.5M1028 185h9M1045 185h9M1019.5 188h8.5M1045 188h9M1037 191h8M1019.5 214h8.5M1037 214h17M1019.5 215h8.5M1045 219h9M1045 220h9M1037 221h17"/>
<path stroke="rgb(205,35,35)" d="M1045 3h9M1045 4h9M1062 4h9M1045 5h17M1088 7h8M1105 7h50.8M1037 8h8M1071 8h25M1045 9h9M1037 10h8M1088 10h34M1130 10h25.8M1054 12h51M1062 14h9M1088 15h34M1130 15h25.8M1079 16h9M1139 16h8M1062 18h17M1088 20h17M1139 20h16.8M1037 21h8M1079 21h43M1147 21h8.8M1045 23h34M1105 24h25M1139 24h8M1088 25h17M1113 25h26M1147 25h8.8M1037 26h8M1062 26h9M1079 26h9M1122 26h25M1054 27h17M1045 28h17M1045 29h9M1079 31h17M1130 31h9M1147 31h8.8M1062 32h26M1062 33h9M1079 33h17M1088 34h17M1113 34h9M1130 34h9M1037 35h8M1088 35h25M1130 35h9M1147 35h8.8M1019.5 36h17.5M1019.5 38h17.5M1019.5 41h8.5M1019.5 42h17.5M1019.5 43h8.5M1028 44h9M1054 46h51M1028 47h17M1105 47h50.8M1028 48h9M1088 48h8M1130 48h17M1045 49h17M1071 49h8M1113 49h9M1147 49h8.8M1045 50h17M1122 50h8M1045 53h9M1088 54h8M1113 54h9M1037 56h8M1105 56h8M1139 56h8M1037 57h8M1054 57h8M1071 57h17M1113 57h42.8M1045 58h9M1062 58h9M1079 58h51M1139 58h8M1037 59h8M1062 59h17M1088 59h8M1105 59h17M1130 59h9M1147 59h8.8M1037 60h8M1037 63h8M1130 63h9M1028 65h17M1062 66h9M1045 67h9M1096 67h17M1028 68h9M1037 69h8M1054 69h8M1028 71h9M1037 73h8M1054 73h17M1079 73h9M1113 73h17M1037 74h8M1062 74h9M1079 74h43M1139 74h8M1054 75h8M1071 75h8M1105 75h17M1139 75h8M1028 79h9M1037 81h8M1019.5 85h8.5M1054 88h17M1079 88h9M1096 88h26M1139 88h8M1037 89h17M1028 90h9M1019.5 91h8.5M1037 92h8M1028 93h9M1037 96h8M1019.5 97h17.5M1037 100h8M1028 101h9M1028 105h9M1028 109h9M1019.5 110h8.5M1028 113h9M1019.5 114h17.5M1045 114h9M1028 115h17M1054 115h25M1105 115h8M1122 115h8M1139 115h16.8M1019.5 120h17.5M1019.5 121h8.5M1019.5 122h8.5M1019.5 123h8.5M1037 125h8M1028 126h9M1054 127h8M1037 128h8M1028 129h17M1028 130h17M1045 131h9M1054 132h8M1019.5 164h8.5M1019.5 165h8.5M1019.5 166h8.5M1019.5 171h17.5M1019.5 172h8.5M1019.5 174h8.5M1019.5 181h8.5M1019.5 182h25.5M1019.5 183h17.5M1028 184h26M1019.5 185h8.5M1019.5 186h8.5M1028 188h9M1019.5 190h25.5M1019.5 191h17.5M1037 199h8M1028 214h9M1054 214h8M1071 214h8M1037 215h17M1045 218h9M1054 219h17M1054 220h8M1037 225h8"/>
<path stroke="rgb(220,70,53)" d="M1045 2h17M1054 3h17M1054 4h8M1071 4h8M1088 4h8M1037 5h8M1062 5h77M1096 8h59.8M1054 9h25M1122 10h8M1054 11h8M1071 11h8M1037 12h8M1147 12h8.8M1045 13h17M1037 14h8M1079 14h26M1130 14h25.8M1088 16h25M1130 16h9M1147 16h8.8M1037 18h8M1079 18h9M1113 18h9M1054 19h17M1105 20h34M1139 21h8M1037 23h8M1079 23h9M1105 26h17M1147 26h8.8M1037 27h8M1071 27h8M1088 27h8M1071 28h8M1062 29h26M1037 31h8M1096 31h34M1139 31h8M1088 32h34M1130 32h9M1147 32h8.8M1037 33h8M1122 33h8M1105 34h8M1147 34h8.8M1113 35h17M1045 36h9M1054 37h17M1045 40h9M1028 41h17M1037 42h8M1028 43h9M1019.5 44h8.5M1037 46h8M1122 46h33.8M1096 47h9M1037 49h8M1079 49h26M1139 49h8M1037 50h8M1062 50h34M1147 50h8.8M1045 51h9M1019.5 52h17.5M1037 53h8M1071 53h34M1130 53h9M1028 54h9M1019.5 56h17.5M1130 56h9M1105 57h8M1028 58h9M1071 58h8M1045 60h9M1096 60h43M1147 60h8.8M1037 61h8M1045 63h9M1105 63h25M1045 66h9M1088 66h8M1054 67h17M1079 67h17M1130 67h9M1147 67h8.8M1028 70h9M1062 72h17M1122 72h8M1088 73h8M1105 73h8M1139 73h8M1037 75h17M1062 75h9M1079 75h26M1130 75h9M1147 75h8.8M1028 76h9M1019.5 77h17.5M1019.5 78h8.5M1028 80h9M1028 81h9M1028 82h9M1019.5 83h17.5M1028 85h9M1019.5 86h17.5M1019.5 87h8.5M1037 88h17M1071 88h8M1088 88h8M1122 88h8M1147 88h8.8M1028 89h9M1019.5 90h8.5M1028 92h9M1019.5 93h8.5M1028 95h9M1028 96h9M1019.5 98h17.5M1019.5 99h17.5M1028 100h9M1019.5 101h8.5M1028 102h9M1019.5 103h17.5M1019.5 104h17.5M1028 106h9M1019.5 107h17.5M1019.5 111h17.5M1028 112h9M1037 114h8M1054 114h17M1088 114h17M1113 114h9M1130 114h25.8M1045 115h9M1079 115h26M1113 115h9M1130 115h9M1019.5 117h17.5M1037 120h8M1028 121h9M1037 122h8M1028 123h9M1045 125h9M1045 126h9M1045 128h9M1045 129h9M1037 144h17M1062 144h17M1130 144h17M1028 166h9M1028 167h9M1019.5 168h8.5M1019.5 169h8.5M1028 170h9M1037 171h8M1019.5 173h8.5M1028 174h9M1019.5 175h8.5M1028 178h9M1019.5 179h17.5M1019.5 180h17.5M1028 181h9M1045 182h9M1037 183h8M1122 185h8M1019.5 187h25.5M1054 188h8M1105 188h8M1122 188h8M1019.5 189h8.5M1045 191h17M1028 206h9M1062 214h9M1079 214h9M1096 214h17M1028 215h9M1054 215h25M1088 215h8M1037 218h8M1028 219h9M1062 220h9M1028 221h9M1054 221h8M1054 222h8"/>
<path stroke="rgb(235,105,72)" d="M1037 2h8M1037 3h8M1071 3h17M1096 3h9M1113 3h9M1139 3h8M1037 4h8M1079 4h9M1096 4h9M1122 4h33.8M1139 5h16.8M1028 7h9M1079 9h9M1147 9h8.8M1037 11h17M1062 11h9M1088 11h17M1147 11h8.8M1105 12h42M1037 13h8M1062 13h9M1079 13h17M1105 14h25M1028 15h9M1113 16h17M1028 17h9M1088 18h25M1130 18h25.8M1045 19h9M1071 19h17M1028 21h9M1122 21h17M1045 22h9M1088 23h8M1122 23h8M1147 23h8.8M1028 24h9M1028 26h9M1079 27h9M1096 27h9M1139 27h16.8M1037 28h8M1062 28h9M1079 28h9M1096 28h9M1147 28h8.8M1054 29h8M1028 31h9M1122 32h8M1139 32h8M1096 33h26M1130 33h25.8M1139 35h8M1037 36h8M1037 38h8M1045 41h9M1045 42h9M1037 43h8M1105 46h17M1019.5 48h8.5M1028 49h9M1105 49h8M1130 49h9M1096 50h26M1139 50h8M1028 51h9M1054 51h17M1079 51h9M1096 51h9M1122 51h17M1028 53h9M1054 53h17M1105 53h25M1139 53h16.8M1019.5 54h8.5M1028 57h9M1019.5 58h8.5M1028 59h9M1028 60h9M1054 60h8M1139 60h8M1028 61h9M1045 61h9M1096 61h9M1019.5 63h8.5M1054 63h8M1096 63h9M1139 63h16.8M1028 64h17M1122 64h8M1019.5 65h8.5M1054 66h8M1071 66h17M1105 66h50.8M1028 67h17M1071 67h8M1113 67h17M1139 67h8M1019.5 68h8.5M1028 69h9M1019.5 70h8.5M1019.5 71h8.5M1037 72h25M1079 72h43M1130 72h25.8M1028 73h9M1028 74h9M1019.5 80h8.5M1019.5 81h8.5M1019.5 82h8.5M1071 84h8M1096 84h9M1130 88h9M1019.5 92h8.5M1019.5 94h8.5M1019.5 95h8.5M1019.5 96h8.5M1019.5 100h8.5M1019.5 105h8.5M1019.5 106h8.5M1019.5 108h8.5M1019.5 109h8.5M1019.5 112h8.5M1019.5 113h8.5M1071 114h17M1105 114h8M1122 114h8M1037 117h8M1088 117h17M1045 120h9M1037 121h8M1037 124h8M1045 130h9M1054 131h8M1062 132h17M1019.5 143h8.5M1019.5 144h17.5M1054 144h8M1088 144h17M1122 144h8M1037 148h8M1028 152h9M1028 164h9M1028 165h9M1037 166h8M1028 168h9M1037 170h8M1045 171h17M1028 172h9M1028 173h9M1028 175h9M1019.5 176h8.5M1019.5 177h17.5M1037 178h8M1037 179h8M1037 180h8M1045 183h9M1054 184h8M1071 184h8M1105 184h8M1130 184h9M1054 185h51M1113 185h9M1130 185h9M1028 186h17M1045 187h9M1062 188h26M1096 188h9M1113 188h9M1045 190h9M1062 191h9M1079 191h9M1096 191h9M1019.5 197h8.5M1019.5 199h8.5M1054 199h34M1019.5 203h34.5M1062 203h9M1079 203h9M1019.5 206h8.5M1037 206h8M1019.5 207h8.5M1019.5 208h8.5M1019.5 212h8.5M1088 214h8M1113 214h26M1147 214h8.8M1079 215h9M1096 215h9M1113 215h26M1019.5 216h25.5M1019.5 217h34.5M1054 218h8M1019.5 219h8.5M1071 219h8M1028 220h9M1071 220h8M1028 222h9M1062 222h9M1037 224h17M1045 225h9"/>
<path stroke="rgb(250,140,90)" d="M1045 0h17M1045 1h9M1062 2h43M1088 3h8M1105 3h8M1122 3h17M1147 3h8.8M1105 4h17M1054 6h17M1028 8h9M1028 9h17M1088 9h42M1139 9h8M1019.5 10h17.5M1079 11h9M1105 11h42M1028 12h9M1071 13h8M1096 13h43M1147 13h8.8M1028 14h9M1019.5 16h17.5M1019.5 17h8.5M1028 18h9M1122 18h8M1037 19h8M1088 19h8M1113 19h9M1130 19h9M1147 19h8.8M1028 20h9M1054 22h17M1028 23h9M1096 23h26M1130 23h17M1019.5 24h8.5M1028 25h9M1105 27h34M1028 28h9M1088 28h8M1105 28h42M1037 29h8M1096 29h9M1113 29h34M1019.5 31h8.5M1028 32h9M1028 33h9M1028 34h9M1019.5 35h17.5M1071 37h17M1045 38h9M1062 39h9M1054 40h8M1045 43h9M1037 44h8M1045 45h9M1130 45h9M1028 46h9M1019.5 47h8.5M1019.5 49h8.5M1028 50h9M1130 50h9M1019.5 51h8.5M1037 51h8M1071 51h8M1088 51h8M1105 51h17M1139 51h16.8M1019.5 53h8.5M1028 55h9M1062 55h51M1130 55h25.8M1019.5 57h8.5M1019.5 59h8.5M1062 60h17M1088 60h8M1019.5 61h8.5M1088 61h8M1105 61h50.8M1028 63h9M1062 63h9M1088 63h8M1019.5 64h8.5M1045 64h9M1096 64h26M1130 64h9M1028 66h17M1096 66h9M1019.5 67h8.5M1019.5 69h8.5M1019.5 74h8.5M1028 75h9M1019.5 76h8.5M1019.5 79h8.5M1028 84h43M1088 84h8M1105 84h42M1019.5 88h17.5M1019.5 89h8.5M1019.5 102h8.5M1045 117h17M1071 117h17M1105 117h42M1019.5 118h17.5M1054 119h8M1054 120h8M1045 121h9M1045 122h9M1037 123h8M1045 124h9M1054 125h8M1062 127h34M1054 128h8M1079 132h9M1019.5 139h8.5M1019.5 142h25.5M1028 143h26M1139 143h8M1079 144h9M1105 144h17M1147 144h8.8M1019.5 148h8.5M1088 148h8M1139 148h8M1037 149h8M1028 150h9M1019.5 151h8.5M1019.5 153h25.5M1019.5 155h8.5M1019.5 157h8.5M1028 160h17M1105 160h8M1019.5 161h8.5M1037 168h8M1028 169h9M1037 174h8M1028 176h9M1037 181h8M1071 182h8M1054 183h8M1088 183h8M1062 184h9M1079 184h26M1139 184h16.8M1105 185h8M1139 185h16.8M1045 186h9M1054 187h8M1088 188h8M1130 188h25.8M1028 189h17M1071 191h8M1088 191h8M1105 191h8M1122 191h25M1028 197h51M1019.5 198h8.5M1037 198h17M1071 198h8M1028 199h9M1045 199h9M1096 199h26M1037 202h8M1054 203h8M1088 203h8M1105 203h42M1028 207h9M1028 208h9M1019.5 209h8.5M1019.5 210h8.5M1019.5 211h17.5M1028 212h9M1019.5 213h17.5M1139 214h8M1105 215h8M1139 215h8M1105 217h8M1028 218h9M1062 218h9M1019.5 220h8.5M1079 220h17M1062 221h9M1019.5 222h8.5M1037 223h8M1028 224h9M1054 224h8"/>
<path stroke="rgb(251,169,107)" d="M1037 1h8M1054 1h8M1096 1h9M1105 2h42M1028 5h9M1045 6h9M1079 6h9M1019.5 7h8.5M1019.5 9h8.5M1130 9h9M1028 11h9M1019.5 12h8.5M1139 13h8M1019.5 14h8.5M1019.5 15h8.5M1028 19h9M1096 19h17M1122 19h8M1139 19h8M1019.5 20h8.5M1019.5 21h8.5M1037 22h8M1079 22h17M1147 22h8.8M1019.5 25h8.5M1019.5 26h8.5M1019.5 27h17.5M1028 29h9M1088 29h8M1105 29h8M1147 29h8.8M1045 30h26M1019.5 33h8.5M1019.5 34h8.5M1054 36h8M1096 37h26M1130 37h9M1071 39h17M1096 39h17M1122 39h8M1054 41h8M1054 42h8M1045 44h9M1028 45h17M1062 45h9M1079 45h17M1105 45h17M1019.5 46h8.5M1019.5 50h8.5M1019.5 55h8.5M1037 55h25M1113 55h17M1019.5 60h8.5M1054 61h8M1019.5 62h8.5M1045 62h9M1105 62h8M1122 62h25M1071 63h17M1088 64h8M1139 64h16.8M1019.5 66h8.5M1019.5 72h17.5M1019.5 73h8.5M1019.5 75h8.5M1079 84h9M1147 84h8.8M1062 117h9M1147 117h8.8M1071 118h8M1113 118h9M1062 119h26M1054 124h8M1054 126h8M1113 127h42.8M1062 128h17M1054 130h8M1062 131h26M1088 132h67.8M1019.5 138h17.5M1028 139h9M1028 140h9M1019.5 141h17.5M1045 142h9M1071 142h51M1130 142h9M1054 143h17M1079 143h17M1105 143h34M1019.5 145h8.5M1028 147h9M1028 148h9M1045 148h34M1096 148h17M1122 148h17M1147 148h8.8M1019.5 149h17.5M1019.5 150h8.5M1028 151h17M1071 151h8M1088 151h8M1122 151h17M1019.5 152h8.5M1037 152h34M1113 152h34M1045 153h17M1071 153h8M1088 153h42M1139 153h8M1019.5 154h25.5M1028 157h17M1113 157h9M1019.5 158h8.5M1019.5 159h25.5M1019.5 160h8.5M1045 160h9M1113 160h26M1147 160h8.8M1037 161h8M1105 161h8M1122 161h17M1019.5 163h25.5M1130 163h9M1147 163h8.8M1037 164h8M1045 166h9M1037 167h25M1037 169h8M1054 170h8M1062 171h9M1113 171h9M1147 171h8.8M1037 173h8M1037 175h8M1045 178h26M1147 178h8.8M1045 179h9M1045 180h9M1045 181h9M1054 182h17M1079 182h17M1113 182h17M1147 182h8.8M1062 183h9M1105 183h8M1122 183h8M1139 183h16.8M1113 184h17M1062 186h9M1062 187h9M1088 187h8M1113 187h17M1045 189h9M1054 190h34M1096 190h9M1113 190h42.8M1113 191h9M1147 191h8.8M1079 197h9M1096 197h59.8M1028 198h9M1054 198h17M1079 198h9M1105 198h25M1088 199h8M1122 199h33.8M1028 200h9M1019.5 202h17.5M1071 203h8M1096 203h9M1147 203h8.8M1045 206h9M1071 206h17M1037 207h17M1028 209h9M1028 210h9M1037 212h8M1037 213h25M1147 215h8.8M1054 217h17M1079 217h26M1019.5 218h8.5M1079 219h17M1019.5 221h8.5M1079 221h9M1071 222h25M1045 223h9M1019.5 224h8.5M1019.5 225h17.5M1054 225h8"/>
<path stroke="rgb(253,197,125)" d="M1037 0h8M1062 0h93.8M1062 1h34M1105 1h8M1130 1h9M1147 1h8.8M1028 2h9M1147 2h8.8M1028 3h9M1028 4h9M1019.5 5h8.5M1028 6h17M1071 6h8M1088 6h51M1019.5 8h8.5M1019.5 13h17.5M1019.5 18h8.5M1019.5 19h8.5M1019.5 22h17.5M1071 22h8M1096 22h17M1019.5 23h8.5M1071 30h17M1019.5 32h8.5M1088 37h8M1122 37h8M1139 37h16.8M1054 38h8M1088 39h8M1113 39h9M1130 39h25.8M1062 40h9M1062 41h9M1062 42h9M1054 43h8M1019.5 45h8.5M1054 45h8M1071 45h8M1096 45h9M1122 45h8M1139 45h16.8M1079 60h9M1071 61h8M1028 62h17M1096 62h9M1113 62h9M1054 64h8M1079 64h9M1019.5 84h8.5M1037 118h17M1079 118h34M1122 118h17M1147 118h8.8M1088 119h8M1045 123h9M1062 125h17M1071 126h8M1096 127h17M1054 129h17M1088 131h17M1113 131h9M1139 131h8M1045 138h9M1054 139h8M1079 139h9M1096 139h9M1130 139h9M1147 139h8.8M1019.5 140h8.5M1037 141h8M1122 142h8M1139 142h8M1071 143h8M1096 143h9M1147 143h8.8M1028 145h17M1019.5 147h8.5M1079 148h9M1113 148h9M1054 149h8M1071 149h8M1096 149h9M1139 149h8M1037 150h8M1054 150h8M1096 150h34M1045 151h17M1079 151h9M1096 151h17M1139 151h16.8M1071 152h25M1105 152h8M1147 152h8.8M1062 153h9M1079 153h9M1147 153h8.8M1045 154h9M1105 154h17M1130 154h25.8M1028 155h26M1105 155h8M1122 155h25M1019.5 156h17.5M1045 157h9M1130 157h9M1147 157h8.8M1045 159h9M1130 159h9M1054 160h8M1088 160h17M1139 160h8M1028 161h9M1045 161h9M1113 161h9M1139 161h16.8M1019.5 162h17.5M1045 163h9M1088 163h8M1105 163h25M1139 163h8M1037 165h8M1054 166h8M1062 167h17M1130 167h9M1045 170h9M1071 171h42M1122 171h25M1037 172h8M1045 174h26M1037 177h17M1088 178h8M1054 179h8M1062 180h9M1054 181h8M1096 182h17M1130 182h17M1071 183h17M1096 183h9M1113 183h9M1130 183h9M1079 186h9M1071 187h17M1105 187h8M1130 187h25.8M1088 190h8M1105 190h8M1028 192h9M1019.5 193h17.5M1088 197h8M1088 198h17M1130 198h25.8M1019.5 200h8.5M1045 202h17M1071 202h17M1122 202h17M1019.5 204h8.5M1019.5 205h8.5M1054 206h8M1096 206h9M1054 207h25M1037 208h17M1062 208h9M1037 211h17M1045 212h9M1045 216h26M1079 216h9M1096 216h9M1071 217h8M1113 217h17M1139 217h8M1071 218h8M1130 219h9M1096 220h17M1071 221h8M1088 221h8M1019.5 223h8.5M1054 223h8M1071 224h8M1062 225h9"/>
<path stroke="rgb(254,226,142)" d="M1019.5 0h17.5M1019.5 1h17.5M1113 1h17M1139 1h8M1019.5 2h8.5M1019.5 3h8.5M1019.5 4h8.5M1139 6h16.8M1019.5 11h8.5M1113 22h34M1019.5 28h8.5M1019.5 29h8.5M1028 30h17M1088 30h67.8M1062 36h9M1062 38h17M1071 40h34M1113 40h26M1071 41h8M1122 41h8M1071 42h17M1096 42h43M1062 43h17M1054 44h17M1062 61h9M1079 61h9M1054 62h17M1079 62h17M1147 62h8.8M1062 64h17M1054 118h17M1139 118h8M1096 119h9M1113 119h42.8M1062 120h26M1096 120h9M1130 120h9M1054 121h34M1054 122h34M1054 123h8M1062 124h34M1079 125h17M1105 125h8M1130 125h25.8M1062 126h9M1079 126h26M1113 126h9M1130 126h9M1079 128h76.8M1071 129h17M1105 129h8M1062 130h26M1105 131h8M1122 131h17M1147 131h8.8M1019.5 133h17.5M1019.5 135h8.5M1037 138h8M1054 138h101.8M1037 139h17M1062 139h17M1088 139h8M1105 139h25M1139 139h8M1037 140h118.8M1045 141h43M1096 141h59.8M1054 142h17M1147 142h8.8M1045 145h34M1088 145h59M1019.5 146h17.5M1037 147h25M1071 147h84.8M1045 149h9M1062 149h9M1079 149h17M1105 149h34M1147 149h8.8M1045 150h9M1062 150h34M1130 150h25.8M1062 151h9M1113 151h9M1096 152h9M1130 153h9M1079 154h9M1096 154h9M1122 154h8M1054 155h8M1096 155h9M1113 155h9M1147 155h8.8M1037 156h8M1096 156h43M1147 156h8.8M1054 157h8M1088 157h25M1122 157h8M1139 157h8M1028 158h17M1054 159h8M1096 159h34M1139 159h16.8M1062 160h26M1054 161h8M1088 161h8M1037 162h8M1105 162h8M1130 162h9M1147 162h8.8M1054 163h34M1096 163h9M1045 164h17M1071 164h34M1045 165h17M1062 166h60M1130 166h25.8M1079 167h51M1139 167h16.8M1045 168h26M1045 169h17M1062 170h17M1147 170h8.8M1045 172h17M1045 173h26M1071 174h8M1139 174h16.8M1045 175h9M1037 176h17M1054 177h8M1071 178h17M1096 178h17M1122 178h8M1139 178h8M1062 179h51M1139 179h16.8M1054 180h8M1071 180h8M1088 180h8M1147 180h8.8M1062 181h17M1139 181h16.8M1054 186h8M1071 186h8M1088 186h67.8M1096 187h9M1054 189h101.8M1019.5 192h8.5M1037 192h8M1037 193h25M1019.5 194h34.5M1028 195h9M1019.5 196h17.5M1037 200h25M1019.5 201h17.5M1062 202h9M1088 202h34M1139 202h16.8M1028 204h26M1028 205h34M1062 206h9M1088 206h8M1105 206h42M1079 207h43M1054 208h8M1071 208h51M1037 209h17M1037 210h17M1054 211h17M1096 211h9M1054 212h59M1062 213h51M1122 213h8M1071 216h8M1088 216h8M1113 216h17M1130 217h9M1147 217h8.8M1079 218h26M1096 219h9M1113 219h9M1113 220h17M1096 221h9M1096 222h17M1028 223h9M1062 223h9M1062 224h9M1079 224h17M1071 225h8"/>
<path stroke="rgb(219,215,169)" d="M1019.5 6h8.5M1019.5 30h8.5M1071 36h68M1079 38h26M1122 38h25M1105 40h8M1139 40h16.8M1079 41h43M1130 41h25.8M1088 42h8M1139 42h16.8M1079 43h26M1122 43h33.8M1071 44h34M1113 44h26M1071 62h8M1105 119h8M1088 120h8M1122 120h8M1139 120h16.8M1088 121h17M1130 121h9M1147 121h8.8M1088 122h25M1139 122h16.8M1062 123h34M1096 124h26M1130 124h25.8M1096 125h9M1113 125h17M1105 126h8M1122 126h8M1139 126h16.8M1088 129h17M1113 129h42.8M1088 130h25M1122 130h8M1139 130h16.8M1045 133h26M1105 133h8M1122 133h25M1019.5 134h17.5M1113 134h9M1130 134h17M1028 135h34M1113 135h9M1130 135h9M1147 135h8.8M1019.5 136h17.5M1019.5 137h8.5M1088 141h8M1079 145h9M1147 145h8.8M1037 146h25M1088 146h8M1105 146h8M1130 146h25.8M1062 147h9M1054 154h25M1088 154h8M1062 155h34M1045 156h9M1062 156h9M1088 156h8M1139 156h8M1062 157h26M1045 158h9M1096 158h59.8M1088 159h8M1062 161h9M1079 161h9M1096 161h9M1045 162h17M1096 162h9M1113 162h17M1139 162h8M1062 164h9M1105 164h50.8M1062 165h85M1122 166h8M1079 168h26M1147 168h8.8M1062 169h9M1079 170h26M1122 170h25M1062 172h17M1096 172h9M1147 172h8.8M1071 173h8M1088 173h8M1139 173h8M1079 174h17M1105 174h8M1054 175h17M1096 175h9M1054 176h17M1062 177h9M1088 177h17M1113 178h9M1130 178h9M1113 179h26M1079 180h9M1096 180h17M1139 180h8M1079 181h43M1045 192h34M1113 192h17M1139 192h8M1062 193h26M1096 193h59.8M1054 194h25M1096 194h9M1113 194h17M1019.5 195h8.5M1037 195h17M1037 196h25M1062 200h26M1096 200h59.8M1037 201h34M1054 204h8M1071 204h17M1113 204h34M1062 205h34M1105 205h8M1130 205h17M1147 206h8.8M1122 207h25M1122 208h33.8M1054 209h59M1054 210h59M1071 211h25M1105 211h17M1122 212h17M1113 213h9M1130 213h25.8M1105 216h8M1130 216h25.8M1105 219h8M1122 219h8M1139 219h16.8M1130 220h9M1147 220h8.8M1105 221h25M1113 222h17M1147 222h8.8M1071 223h25M1096 224h9M1079 225h26"/>
<path stroke="rgb(185,203,195)" d="M1139 36h16.8M1105 38h17M1147 38h8.8M1105 43h17M1105 44h8M1139 44h16.8M1105 120h17M1105 121h25M1139 121h8M1113 122h26M1096 123h26M1130 123h25.8M1122 124h8M1113 130h9M1130 130h9M1037 133h8M1071 133h34M1113 133h9M1147 133h8.8M1037 134h8M1054 134h17M1147 134h8.8M1062 135h9M1079 135h34M1122 135h8M1139 135h8M1122 136h17M1147 136h8.8M1028 137h9M1062 146h26M1096 146h9M1113 146h17M1054 156h8M1071 156h17M1088 158h8M1062 159h26M1071 161h8M1071 162h8M1088 162h8M1147 165h8.8M1071 168h8M1105 168h8M1122 168h8M1139 168h8M1071 169h8M1088 169h17M1147 169h8.8M1105 170h17M1088 172h8M1105 172h8M1139 172h8M1079 173h9M1096 173h17M1130 173h9M1147 173h8.8M1096 174h9M1113 174h26M1071 175h8M1088 175h8M1139 175h16.8M1079 176h26M1147 176h8.8M1071 177h17M1139 177h16.8M1113 180h26M1122 181h17M1079 192h34M1130 192h9M1147 192h8.8M1088 193h8M1079 194h17M1105 194h8M1130 194h25.8M1054 195h17M1062 196h26M1088 200h8M1071 201h25M1122 201h8M1139 201h8M1062 204h9M1088 204h25M1147 204h8.8M1096 205h9M1113 205h17M1147 205h8.8M1147 207h8.8M1113 209h26M1113 210h34M1122 211h33.8M1113 212h9M1139 212h16.8M1105 218h8M1122 218h8M1139 220h8M1130 221h9M1130 222h17M1096 223h9M1105 224h8M1105 225h8"/>
<path stroke="rgb(150,192,222)" d="M1122 123h8M1045 134h9M1071 134h25M1105 134h8M1122 134h8M1071 135h8M1037 136h17M1071 136h8M1105 136h17M1139 136h8M1037 137h8M1096 137h9M1054 158h17M1062 162h9M1079 162h9M1113 168h9M1130 168h9M1079 169h9M1105 169h8M1130 169h17M1079 172h9M1122 172h17M1113 173h17M1079 175h9M1071 176h8M1122 176h25M1105 177h34M1071 195h17M1122 195h8M1088 196h59M1096 201h26M1130 201h9M1147 201h8.8M1139 209h8M1147 210h8.8M1139 218h8M1139 221h16.8"/>
<path stroke="rgb(124,168,211)" d="M1096 134h9M1054 136h17M1079 136h26M1045 137h17M1079 137h9M1105 137h34M1147 137h8.8M1071 158h17M1113 169h17M1113 172h9M1105 175h34M1105 176h17M1088 195h34M1130 195h25.8M1147 196h8.8M1147 209h8.8M1113 218h9M1130 218h9M1147 218h8.8M1105 223h8M1113 224h17M1139 224h16.8M1113 225h42.8"/>
<path stroke="rgb(98,144,201)" d="M1062 137h17M1139 137h8M1122 223h8M1130 224h9"/>
<path stroke="rgb(72,120,190)" d="M1088 137h8M1113 223h9M1130 223h9"/>
<path stroke="rgb(72,120,190)" d="M1139 223h16.8"/>
</g>
<rect x="1019.50" y="425.70" width="136.25" height="226.00" fill="none" stroke="#3a3a3a" stroke-width="1"/>
<path d="M1027.50 651.70V659.20" stroke="#333" stroke-width="1"/>
<text x="1027.50" y="676.30" font-size="16" text-anchor="middle" fill="#1a1a1a" textLength="8.9" lengthAdjust="spacingAndGlyphs" >0</text>
<path d="M1044.57 651.70V659.20" stroke="#333" stroke-width="1"/>
<text x="1044.57" y="676.30" font-size="16" text-anchor="middle" fill="#1a1a1a" textLength="7.0" lengthAdjust="spacingAndGlyphs" >1</text>
<path d="M1061.64 651.70V659.20" stroke="#333" stroke-width="1"/>
<text x="1061.64" y="676.30" font-size="16" text-anchor="middle" fill="#1a1a1a" textLength="8.9" lengthAdjust="spacingAndGlyphs" >2</text>
<path d="M1078.71 651.70V659.20" stroke="#333" stroke-width="1"/>
<text x="1078.71" y="676.30" font-size="16" text-anchor="middle" fill="#1a1a1a" textLength="8.9" lengthAdjust="spacingAndGlyphs" >3</text>
<path d="M1095.78 651.70V659.20" stroke="#333" stroke-width="1"/>
<text x="1095.78" y="676.30" font-size="16" text-anchor="middle" fill="#1a1a1a" textLength="8.9" lengthAdjust="spacingAndGlyphs" >4</text>
<path d="M1112.85 651.70V659.20" stroke="#333" stroke-width="1"/>
<text x="1112.85" y="676.30" font-size="16" text-anchor="middle" fill="#1a1a1a" textLength="8.9" lengthAdjust="spacingAndGlyphs" >5</text>
<path d="M1129.92 651.70V659.20" stroke="#333" stroke-width="1"/>
<text x="1129.92" y="676.30" font-size="16" text-anchor="middle" fill="#1a1a1a" textLength="8.9" lengthAdjust="spacingAndGlyphs" >6</text>
<path d="M1146.99 651.70V659.20" stroke="#333" stroke-width="1"/>
<text x="1146.99" y="676.30" font-size="16" text-anchor="middle" fill="#1a1a1a" textLength="8.9" lengthAdjust="spacingAndGlyphs" >7</text>
<rect x="1164.20" y="427.00" width="11.70" height="38.63" fill="#4470B0"/>
<rect x="1164.20" y="465.33" width="11.70" height="38.63" fill="#8FBBDD"/>
<rect x="1164.20" y="503.67" width="11.70" height="38.63" fill="#FEE391"/>
<rect x="1164.20" y="542.00" width="11.70" height="38.63" fill="#FC8D59"/>
<rect x="1164.20" y="580.33" width="11.70" height="38.63" fill="#CB181D"/>
<rect x="1164.20" y="618.67" width="11.70" height="38.63" fill="#963232"/>
<path d="M1164.20 427.00V657.00M1175.90 427.00V657.00" stroke="#333" stroke-width="0.9" fill="none"/>
<path d="M1175.90 427.00H1183.00" stroke="#333" stroke-width="1" fill="none"/>
<text x="1190.00" y="432.70" font-size="16" text-anchor="start" fill="#1a1a1a" textLength="22.3" lengthAdjust="spacingAndGlyphs" >0.6</text>
<path d="M1175.90 465.33H1183.00" stroke="#333" stroke-width="1" fill="none"/>
<text x="1190.00" y="471.03" font-size="16" text-anchor="start" fill="#1a1a1a" textLength="22.3" lengthAdjust="spacingAndGlyphs" >0.3</text>
<path d="M1175.90 503.67H1183.00" stroke="#333" stroke-width="1" fill="none"/>
<text x="1190.00" y="509.37" font-size="16" text-anchor="start" fill="#1a1a1a" textLength="8.9" lengthAdjust="spacingAndGlyphs" >0</text>
<path d="M1175.90 542.00H1183.00" stroke="#333" stroke-width="1" fill="none"/>
<text x="1190.00" y="547.70" font-size="16" text-anchor="start" fill="#1a1a1a" textLength="31.6" lengthAdjust="spacingAndGlyphs" >−0.3</text>
<path d="M1175.90 580.33H1183.00" stroke="#333" stroke-width="1" fill="none"/>
<text x="1190.00" y="586.03" font-size="16" text-anchor="start" fill="#1a1a1a" textLength="31.6" lengthAdjust="spacingAndGlyphs" >−0.7</text>
<path d="M1175.90 618.67H1183.00" stroke="#333" stroke-width="1" fill="none"/>
<text x="1190.00" y="624.37" font-size="16" text-anchor="start" fill="#1a1a1a" textLength="29.7" lengthAdjust="spacingAndGlyphs" >−1.0</text>
<path d="M1175.90 657.00H1183.00" stroke="#333" stroke-width="1" fill="none"/>
<text x="1190.00" y="662.70" font-size="16" text-anchor="start" fill="#1a1a1a" textLength="29.7" lengthAdjust="spacingAndGlyphs" >−1.5</text>
<rect x="719.50" y="425.50" width="285.00" height="226.00" fill="none" stroke="#333" stroke-width="1"/>
<path d="M714.00 425.50H719.50" stroke="#333" stroke-width="1"/>
<text x="704.70" y="431.20" font-size="16" text-anchor="end" fill="#1a1a1a" textLength="29.3" lengthAdjust="spacingAndGlyphs" >1.00</text>
<path d="M714.00 453.75H719.50" stroke="#333" stroke-width="1"/>
<text x="704.70" y="459.45" font-size="16" text-anchor="end" fill="#1a1a1a" textLength="31.2" lengthAdjust="spacingAndGlyphs" >0.75</text>
<path d="M714.00 482.00H719.50" stroke="#333" stroke-width="1"/>
<text x="704.70" y="487.70" font-size="16" text-anchor="end" fill="#1a1a1a" textLength="31.2" lengthAdjust="spacingAndGlyphs" >0.50</text>
<path d="M714.00 510.25H719.50" stroke="#333" stroke-width="1"/>
<text x="704.70" y="515.95" font-size="16" text-anchor="end" fill="#1a1a1a" textLength="31.2" lengthAdjust="spacingAndGlyphs" >0.25</text>
<path d="M714.00 538.50H719.50" stroke="#333" stroke-width="1"/>
<text x="704.70" y="544.20" font-size="16" text-anchor="end" fill="#1a1a1a" textLength="8.9" lengthAdjust="spacingAndGlyphs" >0</text>
<path d="M714.00 566.75H719.50" stroke="#333" stroke-width="1"/>
<text x="704.70" y="572.45" font-size="16" text-anchor="end" fill="#1a1a1a" textLength="40.5" lengthAdjust="spacingAndGlyphs" >−0.25</text>
<path d="M714.00 595.00H719.50" stroke="#333" stroke-width="1"/>
<text x="704.70" y="600.70" font-size="16" text-anchor="end" fill="#1a1a1a" textLength="40.5" lengthAdjust="spacingAndGlyphs" >−0.50</text>
<path d="M714.00 623.25H719.50" stroke="#333" stroke-width="1"/>
<text x="704.70" y="628.95" font-size="16" text-anchor="end" fill="#1a1a1a" textLength="40.5" lengthAdjust="spacingAndGlyphs" >−0.75</text>
<path d="M714.00 651.50H719.50" stroke="#333" stroke-width="1"/>
<text x="704.70" y="657.20" font-size="16" text-anchor="end" fill="#1a1a1a" textLength="38.6" lengthAdjust="spacingAndGlyphs" >−1.00</text>
<path d="M733.00 651.50V659.30" stroke="#333" stroke-width="1"/>
<text x="733.00" y="677.00" font-size="16" text-anchor="middle" fill="#1a1a1a" textLength="8.9" lengthAdjust="spacingAndGlyphs" >0</text>
<path d="M769.90 651.50V659.30" stroke="#333" stroke-width="1"/>
<text x="769.90" y="677.00" font-size="16" text-anchor="middle" fill="#1a1a1a" textLength="7.0" lengthAdjust="spacingAndGlyphs" >1</text>
<path d="M806.80 651.50V659.30" stroke="#333" stroke-width="1"/>
<text x="806.80" y="677.00" font-size="16" text-anchor="middle" fill="#1a1a1a" textLength="8.9" lengthAdjust="spacingAndGlyphs" >2</text>
<path d="M843.70 651.50V659.30" stroke="#333" stroke-width="1"/>
<text x="843.70" y="677.00" font-size="16" text-anchor="middle" fill="#1a1a1a" textLength="8.9" lengthAdjust="spacingAndGlyphs" >3</text>
<path d="M880.60 651.50V659.30" stroke="#333" stroke-width="1"/>
<text x="880.60" y="677.00" font-size="16" text-anchor="middle" fill="#1a1a1a" textLength="8.9" lengthAdjust="spacingAndGlyphs" >4</text>
<path d="M917.50 651.50V659.30" stroke="#333" stroke-width="1"/>
<text x="917.50" y="677.00" font-size="16" text-anchor="middle" fill="#1a1a1a" textLength="8.9" lengthAdjust="spacingAndGlyphs" >5</text>
<path d="M954.40 651.50V659.30" stroke="#333" stroke-width="1"/>
<text x="954.40" y="677.00" font-size="16" text-anchor="middle" fill="#1a1a1a" textLength="8.9" lengthAdjust="spacingAndGlyphs" >6</text>
<path d="M991.30 651.50V659.30" stroke="#333" stroke-width="1"/>
<text x="991.30" y="677.00" font-size="16" text-anchor="middle" fill="#1a1a1a" textLength="8.9" lengthAdjust="spacingAndGlyphs" >7</text>
<path d="M719.50 538.30H1004.00" stroke="#000" stroke-width="1.6" stroke-dasharray="6 3.8"/>
<path d="M733.00 519.25V583.25" stroke="#66CC66" stroke-width="3"/>
<path d="M769.90 522.00V640.00" stroke="#66CC66" stroke-width="3"/>
<path d="M806.80 507.00V617.00" stroke="#66CC66" stroke-width="3"/>
<path d="M843.70 498.00V600.00" stroke="#66CC66" stroke-width="3"/>
<path d="M880.60 502.50V593.75" stroke="#66CC66" stroke-width="3"/>
<path d="M917.50 490.50V587.50" stroke="#66CC66" stroke-width="3"/>
<path d="M954.40 495.00V583.75" stroke="#66CC66" stroke-width="3"/>
<path d="M991.30 490.00V578.25" stroke="#66CC66" stroke-width="3"/>
<circle cx="733.00" cy="558.75" r="5.1" fill="#fff" stroke="#66CC66" stroke-width="1.7"/>
<circle cx="769.90" cy="588.25" r="5.1" fill="#fff" stroke="#66CC66" stroke-width="1.7"/>
<circle cx="806.80" cy="565.75" r="5.1" fill="#fff" stroke="#66CC66" stroke-width="1.7"/>
<circle cx="843.70" cy="550.75" r="5.1" fill="#fff" stroke="#66CC66" stroke-width="1.7"/>
<circle cx="880.60" cy="551.25" r="5.1" fill="#fff" stroke="#66CC66" stroke-width="1.7"/>
<circle cx="917.50" cy="542.00" r="5.1" fill="#fff" stroke="#66CC66" stroke-width="1.7"/>
<circle cx="954.40" cy="541.25" r="5.1" fill="#fff" stroke="#66CC66" stroke-width="1.7"/>
<circle cx="991.30" cy="537.00" r="5.1" fill="#fff" stroke="#66CC66" stroke-width="1.7"/>
<path d="M769.90 588.00C776.05 584.67 794.50 573.67 806.80 568.00C819.10 562.33 831.40 557.50 843.70 554.00C856.00 550.50 868.30 548.97 880.60 547.00C892.90 545.03 905.20 543.45 917.50 542.20C929.80 540.95 942.10 540.16 954.40 539.50C966.70 538.84 985.15 538.46 991.30 538.25" fill="none" stroke="#B576A0" stroke-width="3.2" stroke-linecap="butt"/>
<path d="M867.00 440.75H886.30" stroke="#B576A0" stroke-width="3.2"/>
<text x="896.60" y="446.25" font-size="15" text-anchor="start" fill="#1a1a1a" textLength="90.0" lengthAdjust="spacingAndGlyphs" >LAI recovery</text>
<circle cx="876.60" cy="459.90" r="5.1" fill="#fff" stroke="#66CC66" stroke-width="1.7"/>
<text x="896.60" y="465.75" font-size="15" text-anchor="start" fill="#1a1a1a" textLength="73.0" lengthAdjust="spacingAndGlyphs" >Post-2010</text>
<text x="733.00" y="622.50" font-size="15" text-anchor="start" fill="#1a1a1a" textLength="102.5" lengthAdjust="spacingAndGlyphs" ><tspan font-style="italic">y</tspan> = −0.765 × 10</text>
<text x="837.50" y="615.30" font-size="9.3" text-anchor="start" fill="#1a1a1a" textLength="33.2" lengthAdjust="spacingAndGlyphs" >−0.551<tspan font-style="italic">x</tspan></text>
<text x="875.00" y="622.50" font-size="15" text-anchor="start" fill="#1a1a1a" textLength="109.2" lengthAdjust="spacingAndGlyphs" >+ (0.009)log(<tspan font-style="italic">x</tspan>)</text>
<text x="733.00" y="641.25" font-size="15" text-anchor="start" fill="#1a1a1a" textLength="62.5" lengthAdjust="spacingAndGlyphs" ><tspan font-style="italic">R</tspan><tspan dy="-7" font-size="9.3">2</tspan><tspan dy="7"> = 0.98</tspan></text>
<text transform="translate(650.30,542.00) rotate(-90)" font-size="17.3" text-anchor="middle" fill="#1a1a1a" textLength="37.0" lengthAdjust="spacingAndGlyphs"><tspan font-style="italic">d</tspan>LAI</text>
<text x="636.00" y="421.70" font-size="25" font-weight="bold" fill="#111" style="stroke:#111;stroke-width:1.1px">e</text>
<g transform="translate(0,719.70) scale(1,1.0000)" stroke-width="1.06" fill="none" shape-rendering="crispEdges">
<path stroke="rgb(160,48,48)" d="M1043 21h35M1043 68h18"/>
<path stroke="rgb(160,48,48)" d="M1035 21h8M1078 21h9M1043 38h9M1035 45h8M1043 57h9M1035 68h8M1138 68h9M1043 99h9"/>
<path stroke="rgb(160,48,48)" d="M1087 21h8M1043 22h9M1061 22h17M1035 38h8M1052 38h9M1069 39h9M1017.4 45h17.6M1017.4 47h8.6M1052 57h9M1035 62h26M1061 68h34M1113 68h8M1147 68h8.8M1043 92h9M1052 99h9M1069 99h9M1121 99h9M1035 169h8"/>
<path stroke="rgb(175,44,44)" d="M1035 20h52M1104 21h9M1052 22h9M1043 37h9M1061 38h8M1043 39h18M1078 39h17M1113 39h25M1147 39h8.8M1043 40h9M1069 41h18M1104 41h17M1138 41h9M1043 45h18M1017.4 46h8.6M1017.4 48h8.6M1043 50h9M1061 50h8M1043 51h18M1035 57h8M1061 57h17M1061 62h17M1035 67h17M1095 68h18M1121 68h17M1087 83h8M1035 87h26M1035 92h8M1052 97h9M1035 99h8M1061 99h8M1078 99h43M1130 99h8M1147 99h8.8M1043 169h9M1035 225h17"/>
<path stroke="rgb(190,39,39)" d="M1035 2h8M1043 10h9M1043 14h18M1035 15h34M1043 18h18M1026 21h9M1095 21h9M1113 21h25M1147 21h8.8M1035 22h8M1078 22h17M1035 37h8M1052 37h17M1069 38h18M1026 39h17M1061 39h8M1095 39h18M1026 40h9M1052 40h9M1113 40h42.8M1017.4 41h8.6M1035 41h34M1087 41h17M1121 41h17M1017.4 42h8.6M1017.4 43h8.6M1061 45h8M1026 47h9M1017.4 49h8.6M1035 50h8M1052 50h9M1069 50h9M1043 52h18M1078 57h9M1095 57h9M1043 58h9M1087 62h8M1104 62h9M1147 62h8.8M1035 66h26M1104 66h9M1130 66h8M1147 66h8.8M1052 67h26M1087 67h8M1104 67h9M1035 71h17M1035 72h17M1035 76h17M1043 77h9M1035 79h26M1035 83h8M1052 83h17M1095 83h26M1043 93h9M1043 97h9M1130 97h8M1043 98h9M1138 99h9M1017.4 113h8.6M1017.4 114h8.6M1017.4 118h8.6M1017.4 169h8.6M1035 217h8"/>
<path stroke="rgb(205,35,35)" d="M1043 1h9M1043 2h9M1043 9h9M1052 10h9M1043 13h18M1035 14h8M1061 14h8M1069 15h18M1035 18h8M1061 18h26M1026 20h9M1095 20h9M1017.4 21h8.6M1138 21h9M1026 22h9M1095 22h9M1130 22h8M1043 24h9M1043 30h9M1069 37h9M1087 38h8M1104 38h26M1017.4 39h8.6M1138 39h9M1017.4 40h8.6M1035 40h8M1061 40h52M1026 41h9M1147 41h8.8M1026 42h9M1017.4 44h17.6M1078 45h9M1095 45h9M1026 46h9M1035 47h8M1026 48h9M1026 49h9M1078 50h17M1035 51h8M1061 51h17M1035 52h8M1061 52h8M1061 53h8M1043 54h9M1061 54h8M1035 55h8M1087 57h8M1113 57h8M1052 58h17M1035 60h8M1043 61h9M1026 62h9M1078 62h9M1095 62h9M1113 62h8M1130 62h17M1052 64h9M1095 64h9M1113 64h17M1052 65h9M1069 65h9M1104 65h9M1121 65h17M1061 66h43M1113 66h17M1138 66h9M1026 67h9M1078 67h9M1095 67h9M1113 67h17M1147 67h8.8M1017.4 68h17.6M1052 71h9M1052 72h9M1052 76h9M1035 77h8M1061 79h8M1017.4 83h17.6M1043 83h9M1069 83h18M1121 83h17M1147 83h8.8M1043 86h9M1078 87h17M1035 91h26M1052 92h9M1035 94h17M1035 95h8M1035 96h17M1035 97h8M1061 97h60M1138 97h17.8M1035 98h8M1052 98h35M1095 98h9M1113 98h17M1017.4 111h8.6M1026 113h17M1052 113h9M1026 114h9M1017.4 115h8.6M1017.4 117h8.6M1017.4 119h8.6M1035 124h17M1043 132h18M1078 132h35M1026 169h9M1052 169h9M1035 172h8M1017.4 177h8.6M1035 218h8M1026 225h9M1035 226h8"/>
<path stroke="rgb(220,70,53)" d="M1035 1h8M1052 1h9M1052 2h9M1035 9h8M1035 10h8M1061 10h8M1078 10h9M1035 11h26M1043 12h9M1087 15h8M1043 16h18M1069 16h9M1061 17h8M1017.4 18h8.6M1026 19h61M1087 20h8M1104 20h17M1130 20h8M1104 22h26M1138 22h9M1035 24h8M1035 26h17M1052 30h9M1026 37h9M1087 37h8M1121 37h9M1017.4 38h17.6M1095 38h9M1130 38h25.8M1026 43h9M1069 45h9M1087 45h8M1104 45h9M1121 45h34.8M1035 46h8M1043 47h9M1035 48h8M1104 50h9M1026 52h9M1069 52h9M1043 53h18M1035 54h8M1052 54h9M1043 55h26M1017.4 57h17.6M1104 57h9M1121 57h17M1147 57h8.8M1035 58h8M1069 58h9M1052 59h17M1043 60h18M1052 61h17M1017.4 62h8.6M1121 62h9M1026 64h26M1061 64h34M1104 64h9M1130 64h25.8M1017.4 65h34.6M1061 65h8M1078 65h26M1113 65h8M1138 65h17.8M1017.4 66h17.6M1017.4 67h8.6M1130 67h17M1035 69h17M1061 71h17M1026 72h9M1061 72h17M1043 73h9M1061 76h8M1052 77h9M1035 78h8M1069 79h9M1035 82h17M1061 82h8M1138 83h9M1035 86h8M1052 86h9M1026 87h9M1061 87h17M1113 87h8M1138 87h9M1043 89h9M1061 92h8M1043 95h9M1121 97h9M1104 98h9M1130 98h25.8M1026 111h9M1017.4 112h8.6M1043 113h9M1061 113h8M1017.4 116h8.6M1026 117h9M1026 118h9M1026 124h9M1052 124h9M1069 124h9M1035 132h8M1061 132h17M1035 133h8M1069 133h18M1095 134h9M1095 135h9M1078 141h26M1026 164h17M1017.4 166h8.6M1035 166h8M1061 169h26M1130 169h8M1017.4 171h8.6M1017.4 172h17.6M1043 172h18M1017.4 174h8.6M1035 174h17M1026 177h35M1017.4 195h8.6M1035 195h26M1017.4 217h8.6M1043 217h9M1035 222h8M1017.4 225h8.6M1052 225h9M1026 226h9M1043 226h9"/>
<path stroke="rgb(235,105,72)" d="M1130 1h8M1061 2h8M1043 7h9M1052 9h17M1069 10h9M1113 10h25M1052 12h9M1035 13h8M1061 13h17M1121 13h9M1138 13h9M1069 14h9M1113 14h17M1138 14h9M1026 15h9M1095 15h9M1026 16h17M1061 16h8M1026 17h35M1069 17h9M1026 18h9M1087 18h17M1121 18h9M1017.4 19h8.6M1087 19h8M1017.4 20h8.6M1121 20h9M1138 20h17.8M1017.4 22h8.6M1147 22h8.8M1052 26h9M1035 30h8M1061 30h8M1035 31h26M1035 32h17M1043 36h18M1017.4 37h8.6M1078 37h9M1095 37h26M1130 37h8M1147 37h8.8M1035 43h8M1113 45h8M1043 46h9M1052 47h17M1043 48h9M1035 49h8M1017.4 50h17.6M1095 50h9M1113 50h34M1017.4 51h17.6M1078 51h43M1130 51h8M1017.4 52h8.6M1078 52h26M1147 52h8.8M1035 53h8M1026 54h9M1069 54h9M1069 55h18M1043 56h26M1138 57h9M1026 58h9M1087 58h8M1035 59h17M1061 60h17M1087 60h8M1035 61h8M1043 63h18M1017.4 64h8.6M1026 69h9M1052 69h9M1017.4 71h17.6M1078 71h17M1087 72h8M1035 73h8M1017.4 76h17.6M1069 76h18M1017.4 77h8.6M1061 77h8M1078 77h9M1043 78h18M1026 79h9M1087 79h8M1104 79h9M1026 82h9M1052 82h9M1026 85h9M1095 87h18M1121 87h17M1147 87h8.8M1035 90h17M1026 91h9M1061 91h8M1069 92h26M1104 92h9M1121 92h26M1035 93h8M1052 93h9M1052 94h9M1052 95h9M1052 96h35M1026 97h9M1087 98h8M1026 99h9M1017.4 108h8.6M1052 111h9M1026 112h9M1035 114h34M1026 115h9M1026 116h9M1052 117h9M1035 118h26M1026 119h17M1061 124h8M1078 124h9M1095 124h35M1138 124h9M1035 125h8M1087 130h8M1017.4 132h17.6M1113 132h25M1147 132h8.8M1043 133h9M1061 133h8M1087 133h34M1035 134h8M1078 134h17M1061 135h34M1078 140h9M1026 141h26M1069 141h9M1147 141h8.8M1017.4 142h8.6M1017.4 160h25.6M1017.4 164h8.6M1043 164h9M1017.4 165h25.6M1026 166h9M1017.4 167h8.6M1095 169h35M1138 169h9M1026 171h26M1061 171h8M1061 172h8M1026 174h9M1052 174h17M1017.4 175h25.6M1017.4 176h8.6M1035 176h17M1069 177h18M1017.4 180h25.6M1017.4 181h25.6M1052 181h9M1017.4 183h17.6M1026 202h9M1017.4 203h8.6M1017.4 211h17.6M1026 212h9M1026 217h9M1017.4 218h17.6M1043 218h9M1035 220h8M1043 222h9M1026 223h17M1061 225h8M1017.4 226h8.6M1035 227h8"/>
<path stroke="rgb(250,140,90)" d="M1043 0h9M1061 1h8M1078 1h9M1113 1h8M1069 2h9M1130 2h8M1035 3h17M1043 6h9M1035 7h8M1052 7h17M1035 8h26M1104 9h9M1121 9h9M1026 10h9M1026 11h9M1061 11h17M1130 11h8M1104 13h9M1130 13h8M1017.4 14h17.6M1078 14h9M1104 14h9M1130 14h8M1147 14h8.8M1017.4 15h8.6M1104 15h9M1121 15h9M1017.4 16h8.6M1078 16h17M1078 17h17M1104 18h17M1130 18h25.8M1095 19h18M1138 19h9M1026 24h9M1052 24h9M1043 25h9M1061 26h17M1043 28h18M1026 30h9M1078 30h9M1026 31h9M1061 31h8M1026 32h9M1052 32h17M1078 32h9M1035 33h17M1026 36h17M1061 36h8M1138 37h9M1035 44h8M1052 46h9M1069 47h9M1043 49h9M1147 50h8.8M1121 51h9M1138 51h17.8M1104 52h9M1121 52h17M1026 53h9M1069 53h9M1017.4 54h8.6M1078 54h35M1138 54h9M1017.4 55h17.6M1087 55h17M1121 55h9M1138 55h17.8M1035 56h8M1069 56h18M1078 58h9M1095 58h9M1113 58h17M1138 58h9M1026 59h9M1069 59h9M1017.4 60h17.6M1017.4 61h17.6M1069 61h18M1130 61h8M1026 63h17M1061 63h8M1017.4 69h8.6M1035 70h17M1095 71h9M1113 71h17M1138 71h9M1017.4 72h8.6M1078 72h9M1095 72h9M1130 72h8M1017.4 73h17.6M1052 73h9M1052 75h9M1087 76h26M1026 77h9M1069 77h9M1017.4 78h17.6M1061 78h17M1017.4 79h8.6M1078 79h9M1095 79h9M1113 79h8M1035 81h17M1017.4 82h8.6M1069 82h9M1061 86h8M1017.4 87h8.6M1026 89h17M1052 89h9M1052 90h9M1069 91h9M1087 91h26M1121 91h9M1138 91h9M1017.4 92h17.6M1095 92h9M1113 92h8M1147 92h8.8M1026 93h9M1061 93h8M1026 94h9M1061 94h8M1026 95h9M1061 95h8M1026 96h9M1087 96h8M1104 96h9M1130 96h17M1026 102h17M1104 102h9M1017.4 107h8.6M1035 111h17M1061 111h17M1035 112h8M1069 113h26M1104 113h9M1069 114h9M1035 115h26M1061 118h17M1043 119h18M1017.4 124h8.6M1087 124h8M1130 124h8M1147 124h8.8M1017.4 125h17.6M1043 125h18M1069 125h9M1104 125h9M1078 130h9M1078 131h17M1138 132h9M1017.4 133h17.6M1052 133h9M1121 133h17M1147 133h8.8M1026 134h9M1069 134h9M1104 134h9M1026 135h35M1104 135h17M1130 135h25.8M1078 139h9M1017.4 140h8.6M1043 140h9M1069 140h9M1087 140h26M1017.4 141h8.6M1052 141h17M1104 141h34M1035 142h8M1113 142h34M1017.4 144h8.6M1113 149h8M1130 149h8M1026 152h9M1017.4 154h8.6M1017.4 159h17.6M1043 160h9M1017.4 162h17.6M1017.4 163h8.6M1052 164h9M1043 165h9M1043 166h9M1035 167h8M1087 169h8M1147 169h8.8M1052 171h9M1069 172h26M1026 173h26M1069 174h26M1043 175h9M1026 176h9M1052 176h9M1061 177h8M1087 177h8M1017.4 178h8.6M1017.4 179h17.6M1043 180h35M1043 181h9M1061 181h8M1017.4 193h8.6M1026 195h9M1061 195h8M1078 195h9M1017.4 196h8.6M1035 196h17M1017.4 197h8.6M1017.4 199h8.6M1017.4 202h8.6M1035 202h17M1035 203h17M1017.4 205h8.6M1017.4 206h8.6M1017.4 207h8.6M1017.4 208h8.6M1017.4 209h8.6M1035 211h8M1052 211h9M1017.4 212h8.6M1035 212h8M1017.4 213h8.6M1017.4 216h8.6M1026 219h17M1026 220h9M1043 220h9M1017.4 221h25.6M1017.4 222h17.6M1017.4 223h8.6M1043 223h9M1017.4 224h25.6M1069 225h9M1138 225h17.8M1052 226h9M1017.4 227h17.6"/>
<path stroke="rgb(251,169,107)" d="M1035 0h8M1026 1h9M1147 1h8.8M1026 2h9M1087 2h8M1104 2h26M1138 2h9M1026 3h9M1035 4h8M1035 6h8M1052 6h9M1069 7h9M1121 7h9M1026 8h9M1061 8h17M1121 8h9M1026 9h9M1069 9h18M1113 9h8M1130 9h8M1017.4 10h8.6M1095 10h18M1138 10h17.8M1113 11h17M1138 11h9M1035 12h8M1061 12h8M1026 13h9M1078 13h26M1113 13h8M1147 13h8.8M1087 14h17M1113 15h8M1130 15h25.8M1095 16h18M1017.4 17h8.6M1113 19h25M1147 19h8.8M1061 24h8M1052 25h9M1026 26h9M1087 26h26M1121 26h9M1138 26h9M1043 27h9M1026 28h17M1017.4 30h8.6M1069 30h9M1017.4 31h8.6M1069 31h18M1113 31h8M1017.4 32h8.6M1069 32h9M1052 34h9M1035 35h26M1069 35h9M1069 36h18M1035 42h26M1043 43h18M1052 44h9M1061 46h8M1078 47h17M1130 47h8M1147 47h8.8M1052 48h26M1052 49h9M1113 52h8M1138 52h9M1017.4 53h8.6M1078 53h35M1130 53h17M1113 54h17M1147 54h8.8M1104 55h9M1130 55h8M1017.4 56h17.6M1130 58h8M1147 58h8.8M1017.4 59h8.6M1078 59h17M1113 59h8M1147 59h8.8M1078 60h9M1095 60h18M1130 60h17M1087 61h43M1138 61h17.8M1017.4 63h8.6M1069 63h9M1087 63h8M1061 69h17M1026 70h9M1052 70h9M1104 71h9M1130 71h8M1147 71h8.8M1104 72h26M1138 72h17.8M1061 73h17M1043 74h9M1017.4 75h34.6M1061 75h8M1113 76h42.8M1087 77h51M1087 78h8M1138 79h17.8M1026 80h9M1017.4 81h8.6M1052 81h9M1078 82h9M1017.4 84h17.6M1017.4 85h8.6M1069 85h9M1087 85h8M1113 85h8M1130 85h17M1069 86h9M1121 86h9M1043 88h9M1026 90h9M1061 90h8M1017.4 91h8.6M1078 91h9M1113 91h8M1147 91h8.8M1069 93h9M1104 93h9M1147 93h8.8M1069 94h9M1087 94h8M1138 94h9M1017.4 95h8.6M1069 95h9M1130 95h17M1095 96h9M1113 96h17M1147 96h8.8M1017.4 97h8.6M1026 98h9M1017.4 99h8.6M1017.4 100h8.6M1035 100h8M1061 100h17M1095 100h9M1113 100h8M1138 100h9M1017.4 102h8.6M1043 102h61M1113 102h42.8M1026 108h26M1078 108h9M1095 108h26M1130 108h25.8M1017.4 109h8.6M1121 109h9M1052 112h17M1113 113h17M1138 113h9M1061 115h8M1035 116h8M1035 117h17M1061 117h8M1078 118h9M1061 119h8M1035 120h8M1035 123h8M1061 125h8M1078 125h26M1113 125h8M1138 125h9M1035 127h8M1017.4 130h43.6M1069 130h9M1095 130h18M1121 130h9M1026 131h9M1052 131h9M1069 131h9M1138 133h9M1017.4 134h8.6M1043 134h26M1113 134h17M1138 134h17.8M1017.4 135h8.6M1121 135h9M1017.4 138h25.6M1069 138h18M1026 139h9M1069 139h9M1087 139h17M1026 140h17M1052 140h17M1138 140h9M1138 141h9M1069 142h9M1095 142h18M1017.4 143h8.6M1026 144h9M1095 144h9M1113 144h8M1017.4 145h8.6M1017.4 149h25.6M1095 149h18M1121 149h9M1147 149h8.8M1017.4 152h8.6M1087 152h34M1017.4 153h8.6M1026 154h9M1113 154h8M1130 154h8M1026 155h9M1017.4 156h8.6M1017.4 158h8.6M1035 159h8M1052 160h9M1017.4 161h25.6M1035 162h8M1026 163h17M1061 164h26M1104 164h9M1052 166h9M1069 166h9M1026 167h9M1017.4 170h8.6M1104 172h9M1121 172h34.8M1017.4 173h8.6M1052 173h17M1113 174h34M1052 175h9M1069 175h9M1061 176h26M1095 177h35M1138 177h17.8M1026 178h17M1078 180h17M1069 181h18M1130 181h8M1017.4 182h8.6M1035 183h17M1017.4 184h8.6M1017.4 187h8.6M1026 189h9M1026 191h9M1017.4 192h8.6M1026 193h26M1017.4 194h34.6M1069 195h9M1087 195h43M1026 196h9M1052 196h9M1035 197h8M1017.4 198h25.6M1026 199h26M1017.4 201h8.6M1052 202h9M1026 203h9M1017.4 204h17.6M1026 205h17M1026 206h9M1026 208h9M1026 209h9M1043 211h9M1043 212h26M1078 212h17M1026 213h17M1017.4 214h8.6M1017.4 215h8.6M1026 216h9M1052 217h9M1017.4 219h8.6M1043 219h9M1017.4 220h8.6M1043 221h9M1043 224h9M1078 225h52"/>
<path stroke="rgb(253,197,125)" d="M1052 0h9M1087 1h26M1121 1h9M1138 1h9M1017.4 2h8.6M1078 2h9M1095 2h9M1147 2h8.8M1052 3h9M1043 4h9M1035 5h8M1017.4 6h17.6M1061 6h8M1017.4 7h8.6M1113 7h8M1130 7h8M1130 8h8M1017.4 9h8.6M1087 9h17M1138 9h17.8M1087 10h8M1017.4 11h8.6M1078 11h17M1147 11h8.8M1026 12h9M1069 12h9M1121 12h17M1017.4 13h8.6M1113 16h25M1147 16h8.8M1095 17h35M1138 17h9M1026 23h17M1052 23h9M1017.4 24h8.6M1069 24h9M1087 24h8M1104 24h9M1017.4 25h25.6M1061 25h8M1078 26h9M1113 26h8M1130 26h8M1147 26h8.8M1052 27h9M1061 28h8M1017.4 29h43.6M1095 30h35M1138 30h9M1087 31h8M1121 31h17M1147 31h8.8M1087 32h17M1113 32h8M1130 32h8M1026 33h9M1052 33h17M1026 34h26M1017.4 35h17.6M1061 35h8M1017.4 36h8.6M1087 36h26M1138 36h9M1061 43h17M1043 44h9M1069 46h9M1095 47h35M1138 47h9M1078 48h9M1130 48h8M1061 49h8M1113 53h17M1130 54h8M1113 55h8M1087 56h26M1121 56h34.8M1017.4 58h8.6M1104 58h9M1095 59h9M1121 59h9M1138 59h9M1113 60h17M1147 60h8.8M1078 63h9M1130 63h17M1078 69h9M1095 69h9M1017.4 70h8.6M1078 73h9M1026 74h17M1052 74h9M1138 77h9M1078 78h9M1130 78h8M1121 79h17M1026 81h9M1061 81h8M1087 82h26M1121 82h26M1095 84h9M1113 84h8M1130 84h8M1147 84h8.8M1035 85h17M1061 85h8M1078 85h9M1095 85h18M1121 85h9M1147 85h8.8M1017.4 86h17.6M1078 86h43M1130 86h25.8M1026 88h17M1052 88h9M1061 89h8M1078 90h9M1113 90h8M1130 90h8M1130 91h8M1017.4 93h8.6M1078 93h26M1121 93h17M1017.4 94h8.6M1078 94h9M1095 94h43M1147 94h8.8M1078 95h26M1113 95h8M1147 95h8.8M1017.4 96h8.6M1017.4 98h8.6M1026 100h9M1052 100h9M1078 100h17M1104 100h9M1121 100h17M1147 100h8.8M1017.4 101h17.6M1104 101h17M1138 101h9M1017.4 103h8.6M1035 103h8M1052 103h9M1069 103h26M1017.4 104h8.6M1017.4 105h8.6M1113 107h8M1052 108h9M1087 108h8M1121 108h9M1026 109h17M1078 109h9M1095 109h9M1130 109h25.8M1017.4 110h8.6M1078 111h17M1113 111h8M1043 112h9M1095 113h9M1130 113h8M1147 113h8.8M1078 114h17M1104 114h9M1121 114h9M1138 114h9M1069 115h9M1061 116h8M1069 117h9M1104 118h9M1121 118h17M1069 119h18M1026 120h9M1043 120h9M1043 123h9M1121 125h17M1147 125h8.8M1017.4 126h17.6M1017.4 127h17.6M1043 127h18M1104 127h9M1130 130h25.8M1017.4 131h8.6M1035 131h17M1061 131h8M1095 131h43M1130 134h8M1017.4 136h17.6M1061 136h8M1078 136h26M1087 138h8M1017.4 139h8.6M1035 139h34M1113 139h8M1113 140h25M1147 140h8.8M1026 142h9M1043 142h26M1078 142h17M1147 142h8.8M1035 144h8M1052 144h9M1078 144h17M1104 144h9M1121 144h17M1026 145h9M1113 145h8M1017.4 146h17.6M1017.4 147h8.6M1017.4 148h8.6M1043 149h9M1069 149h9M1087 149h8M1138 149h9M1026 150h9M1035 152h17M1061 152h17M1121 152h34.8M1026 153h9M1035 154h8M1069 154h9M1087 154h26M1121 154h9M1138 154h9M1017.4 155h8.6M1095 155h18M1121 155h26M1026 156h9M1017.4 157h17.6M1026 158h9M1043 159h18M1061 160h8M1078 160h9M1043 162h9M1087 164h17M1113 164h25M1147 164h8.8M1052 165h9M1061 166h8M1121 166h9M1147 166h8.8M1043 167h9M1017.4 168h17.6M1026 170h9M1069 171h26M1095 172h9M1069 173h9M1095 174h18M1147 174h8.8M1061 175h8M1147 176h8.8M1130 177h8M1043 178h18M1035 179h34M1087 181h8M1138 181h17.8M1026 182h9M1052 183h26M1026 184h9M1026 185h9M1026 186h9M1026 187h26M1017.4 188h17.6M1017.4 189h8.6M1026 190h9M1017.4 191h8.6M1035 191h8M1026 192h9M1052 193h17M1130 195h25.8M1061 196h8M1087 196h17M1130 196h8M1147 196h8.8M1026 197h9M1043 197h18M1043 198h18M1069 198h9M1052 199h17M1087 199h8M1017.4 200h17.6M1061 202h8M1052 203h9M1043 205h18M1035 206h17M1026 207h17M1035 208h17M1035 209h8M1017.4 210h17.6M1061 211h43M1069 212h9M1104 212h9M1121 212h17M1147 212h8.8M1026 214h9M1035 216h8M1052 218h9M1130 225h8M1043 227h9"/>
<path stroke="rgb(254,226,142)" d="M1017.4 0h17.6M1061 0h8M1121 0h17M1017.4 1h8.6M1069 1h9M1017.4 3h8.6M1061 3h26M1104 3h51.8M1017.4 4h17.6M1052 4h26M1130 4h8M1026 5h9M1043 5h18M1130 5h8M1069 6h18M1104 6h43M1026 7h9M1078 7h35M1138 7h17.8M1017.4 8h8.6M1078 8h43M1138 8h17.8M1095 11h18M1017.4 12h8.6M1078 12h43M1138 12h17.8M1138 16h9M1130 17h8M1147 17h8.8M1017.4 23h8.6M1043 23h9M1061 23h8M1078 24h9M1095 24h9M1113 24h42.8M1069 25h44M1147 25h8.8M1017.4 26h8.6M1017.4 27h25.6M1061 27h17M1017.4 28h8.6M1069 28h35M1113 28h25M1061 29h17M1087 30h8M1130 30h8M1147 30h8.8M1095 31h18M1138 31h9M1104 32h9M1121 32h9M1138 32h17.8M1017.4 33h8.6M1069 33h35M1113 33h8M1130 33h25.8M1017.4 34h8.6M1061 34h26M1130 34h8M1078 35h69M1113 36h25M1147 36h8.8M1061 42h17M1078 43h26M1121 43h9M1138 43h9M1061 44h17M1078 46h17M1121 46h34.8M1087 48h43M1138 48h17.8M1069 49h9M1095 49h9M1147 53h8.8M1113 56h8M1104 59h9M1130 59h8M1095 63h35M1147 63h8.8M1087 69h8M1104 69h17M1130 69h25.8M1061 70h34M1087 73h43M1017.4 74h8.6M1061 74h26M1069 75h26M1104 75h9M1147 77h8.8M1095 78h35M1138 78h17.8M1017.4 80h8.6M1035 80h26M1069 81h9M1113 82h8M1147 82h8.8M1035 84h60M1104 84h9M1121 84h9M1138 84h9M1052 85h9M1017.4 88h8.6M1061 88h17M1017.4 89h8.6M1069 89h86.8M1017.4 90h8.6M1069 90h9M1087 90h26M1121 90h9M1138 90h17.8M1113 93h8M1138 93h9M1104 95h9M1121 95h9M1043 100h9M1035 101h69M1121 101h17M1147 101h8.8M1026 103h9M1043 103h9M1061 103h8M1095 103h60.8M1026 104h35M1078 104h26M1113 104h42.8M1026 105h69M1104 105h17M1130 105h17M1017.4 106h17.6M1026 107h17M1121 107h9M1138 107h9M1061 108h17M1043 109h18M1069 109h9M1087 109h8M1104 109h17M1026 110h9M1095 111h18M1121 111h34.8M1069 112h26M1095 114h9M1113 114h8M1130 114h8M1147 114h8.8M1078 115h17M1104 115h9M1043 116h18M1069 116h18M1078 117h9M1095 117h60.8M1087 118h17M1113 118h8M1138 118h17.8M1087 119h26M1121 119h9M1147 119h8.8M1017.4 120h8.6M1052 120h9M1069 120h9M1104 120h9M1017.4 121h17.6M1017.4 122h25.6M1017.4 123h17.6M1052 123h9M1035 126h17M1104 126h9M1061 127h8M1017.4 128h17.6M1017.4 129h34.6M1061 130h8M1113 130h8M1138 131h17.8M1035 136h26M1069 136h9M1104 136h9M1121 136h26M1017.4 137h17.6M1061 137h52M1043 138h26M1095 138h43M1147 138h8.8M1104 139h9M1121 139h34.8M1026 143h9M1087 143h60M1043 144h9M1061 144h8M1138 144h17.8M1035 145h8M1104 145h9M1121 145h26M1087 146h17M1113 146h25M1026 147h9M1113 147h8M1026 148h9M1052 149h17M1078 149h9M1017.4 150h8.6M1017.4 151h17.6M1052 152h9M1078 152h9M1035 153h17M1087 153h51M1147 153h8.8M1043 154h26M1147 154h8.8M1035 155h17M1061 155h8M1087 155h8M1113 155h8M1147 155h8.8M1035 156h8M1035 157h8M1035 158h17M1061 159h8M1147 159h8.8M1069 160h9M1087 160h8M1104 160h51.8M1043 161h9M1052 162h17M1043 163h9M1138 164h9M1069 165h18M1095 165h9M1078 166h9M1095 166h26M1130 166h17M1052 167h9M1035 168h17M1035 170h34M1095 171h18M1121 171h34.8M1113 172h8M1078 173h26M1130 173h8M1078 175h26M1113 175h8M1138 175h9M1087 176h60M1061 178h26M1069 179h9M1095 180h26M1130 180h25.8M1095 181h35M1035 182h8M1078 183h9M1121 183h9M1035 184h26M1017.4 185h8.6M1035 185h8M1017.4 186h8.6M1035 186h17M1052 187h9M1069 187h26M1035 188h26M1035 189h26M1017.4 190h8.6M1035 190h8M1043 191h18M1035 192h26M1069 193h26M1121 193h9M1052 194h26M1095 194h9M1069 196h18M1104 196h26M1061 197h17M1087 197h8M1061 198h8M1069 199h18M1104 199h9M1130 199h17M1035 200h17M1026 201h17M1069 202h18M1095 202h9M1113 202h42.8M1061 203h34M1104 203h9M1121 203h9M1035 204h17M1069 204h9M1061 205h52M1121 205h9M1147 205h8.8M1052 206h35M1104 206h9M1043 207h26M1121 208h9M1043 209h26M1035 210h8M1104 211h51.8M1095 212h9M1113 212h8M1138 212h9M1043 213h44M1035 214h17M1026 215h17M1043 216h18M1078 216h9M1061 217h17M1087 217h8M1104 217h9M1130 217h8M1147 217h8.8M1061 218h8M1052 220h9M1052 221h9M1052 222h9M1052 223h9M1052 224h9M1061 226h26M1095 226h9M1130 226h17"/>
<path stroke="rgb(219,215,169)" d="M1069 0h52M1138 0h17.8M1087 3h17M1078 4h9M1113 4h17M1138 4h17.8M1017.4 5h8.6M1061 5h26M1121 5h9M1138 5h17.8M1087 6h17M1147 6h8.8M1069 23h86.8M1113 25h34M1078 27h77.8M1104 28h9M1138 28h17.8M1078 29h77.8M1104 33h9M1121 33h9M1087 34h43M1138 34h17.8M1147 35h8.8M1078 42h26M1121 42h17M1104 43h17M1130 43h8M1147 43h8.8M1078 44h77.8M1095 46h26M1078 49h17M1104 49h17M1130 49h25.8M1121 69h9M1095 70h43M1147 70h8.8M1130 73h25.8M1087 74h34M1095 75h9M1113 75h42.8M1061 80h43M1078 81h60M1078 88h77.8M1061 104h17M1104 104h9M1095 105h9M1121 105h9M1147 105h8.8M1035 106h8M1087 106h8M1113 106h17M1147 106h8.8M1043 107h18M1078 107h35M1130 107h8M1147 107h8.8M1061 109h8M1035 110h8M1095 112h52M1095 115h9M1113 115h17M1138 115h17.8M1087 116h17M1113 116h34M1087 117h8M1113 119h8M1130 119h17M1061 120h8M1078 120h26M1113 120h17M1035 121h26M1095 121h9M1043 122h26M1087 122h34M1061 123h8M1078 123h43M1052 126h17M1078 126h9M1095 126h9M1069 127h35M1113 127h25M1147 127h8.8M1035 128h17M1052 129h9M1113 136h8M1147 136h8.8M1035 137h26M1113 137h17M1147 137h8.8M1138 138h9M1035 143h52M1147 143h8.8M1069 144h9M1043 145h9M1061 145h8M1078 145h26M1147 145h8.8M1035 146h52M1104 146h9M1138 146h17.8M1035 147h8M1078 147h35M1121 147h34.8M1035 148h8M1104 148h34M1035 150h8M1087 150h51M1113 151h8M1061 153h26M1138 153h9M1078 154h9M1052 155h9M1069 155h18M1043 156h9M1043 157h9M1138 158h9M1069 159h35M1121 159h26M1095 160h9M1052 161h9M1069 162h18M1104 162h9M1147 162h8.8M1052 163h17M1061 165h8M1121 165h9M1138 165h17.8M1087 166h8M1061 167h26M1104 167h9M1138 167h17.8M1052 168h9M1069 170h18M1113 171h8M1104 173h26M1138 173h17.8M1104 175h9M1121 175h17M1147 175h8.8M1087 178h8M1078 179h17M1121 180h9M1043 182h44M1087 183h17M1113 183h8M1130 183h8M1147 183h8.8M1061 184h26M1043 185h26M1052 186h17M1061 187h8M1095 187h35M1138 187h17.8M1061 188h17M1095 188h9M1113 188h8M1061 189h8M1087 189h17M1043 190h18M1061 191h17M1104 191h9M1061 192h17M1095 193h26M1130 193h25.8M1078 194h17M1104 194h34M1147 194h8.8M1138 196h9M1078 197h9M1095 197h18M1138 197h9M1078 198h9M1104 198h9M1138 198h17.8M1095 199h9M1113 199h17M1147 199h8.8M1052 200h26M1043 201h26M1087 202h8M1104 202h9M1095 203h9M1113 203h8M1130 203h25.8M1052 204h17M1087 204h8M1113 205h8M1138 205h9M1087 206h17M1113 206h17M1069 207h35M1052 208h61M1130 208h8M1147 208h8.8M1069 209h52M1043 210h18M1087 213h8M1138 213h17.8M1052 214h26M1043 215h18M1061 216h17M1087 216h17M1121 216h17M1147 216h8.8M1078 217h9M1095 217h9M1113 217h17M1138 217h9M1078 218h17M1121 218h17M1052 219h9M1061 223h8M1061 224h8M1087 226h8M1104 226h26M1147 226h8.8M1052 227h9"/>
<path stroke="rgb(185,203,195)" d="M1087 4h26M1087 5h34M1104 42h17M1138 42h17.8M1121 49h9M1138 70h9M1121 74h34.8M1104 80h34M1138 81h17.8M1043 106h9M1095 106h18M1130 106h17M1061 107h17M1043 110h9M1104 110h17M1130 110h25.8M1147 112h8.8M1130 115h8M1104 116h9M1147 116h8.8M1130 120h17M1061 121h8M1104 121h9M1069 122h18M1121 122h26M1069 123h9M1121 123h9M1138 123h17.8M1069 126h9M1087 126h8M1113 126h25M1147 126h8.8M1138 127h9M1052 128h9M1061 129h60M1138 129h9M1130 137h17M1052 145h9M1069 145h9M1043 147h35M1043 148h18M1078 148h26M1138 148h17.8M1043 150h44M1138 150h17.8M1095 151h18M1121 151h17M1052 153h9M1052 156h17M1147 156h8.8M1052 157h9M1052 158h26M1104 159h17M1061 161h17M1087 161h8M1087 162h17M1121 162h26M1069 163h18M1095 163h9M1130 163h8M1087 165h8M1104 165h17M1130 165h8M1087 167h17M1121 167h17M1061 168h8M1087 170h8M1095 178h60.8M1095 179h18M1138 179h9M1087 182h8M1104 183h9M1138 183h9M1087 184h26M1138 184h17.8M1069 185h9M1095 185h9M1069 186h9M1130 187h8M1078 188h17M1104 188h9M1130 188h17M1069 189h18M1104 189h9M1130 189h8M1061 190h34M1078 191h26M1113 191h17M1138 191h17.8M1087 192h8M1113 192h8M1138 192h17.8M1138 194h9M1113 197h25M1147 197h8.8M1087 198h17M1113 198h25M1078 200h17M1069 201h18M1078 204h9M1095 204h26M1147 204h8.8M1130 205h8M1130 206h25.8M1104 207h26M1138 207h17.8M1113 208h8M1138 208h9M1121 209h26M1061 210h34M1095 213h43M1078 214h9M1113 214h8M1147 214h8.8M1061 215h17M1095 215h9M1113 215h8M1104 216h17M1138 216h9M1069 218h9M1095 218h26M1138 218h17.8M1061 220h8M1061 221h8M1061 222h34M1104 222h26M1147 222h8.8M1069 223h18M1121 223h26M1069 224h9M1138 224h9M1061 227h8"/>
<path stroke="rgb(150,192,222)" d="M1138 80h17.8M1061 106h26M1078 110h26M1121 110h9M1147 120h8.8M1069 121h26M1113 121h8M1130 121h17M1147 122h8.8M1130 123h8M1138 126h9M1061 128h8M1087 128h34M1121 129h17M1061 148h17M1035 151h8M1078 151h17M1138 151h17.8M1069 156h18M1104 156h43M1061 157h17M1087 157h8M1113 157h17M1078 158h9M1095 158h9M1113 158h25M1147 158h8.8M1078 161h9M1130 161h8M1147 161h8.8M1113 162h8M1087 163h8M1113 163h17M1138 163h17.8M1113 167h8M1069 168h9M1095 168h9M1095 170h18M1130 170h25.8M1113 179h25M1147 179h8.8M1095 182h18M1130 182h25.8M1113 184h25M1078 185h17M1113 185h8M1130 185h8M1147 185h8.8M1078 186h26M1113 186h8M1147 186h8.8M1121 188h9M1147 188h8.8M1113 189h17M1138 189h17.8M1095 190h26M1138 190h17.8M1130 191h8M1078 192h9M1095 192h18M1121 192h17M1095 200h52M1087 201h8M1104 201h26M1121 204h26M1130 207h8M1147 209h8.8M1095 210h18M1087 214h26M1121 214h9M1138 214h9M1078 215h17M1104 215h9M1121 215h17M1147 215h8.8M1061 219h8M1087 219h8M1104 219h9M1069 220h26M1113 220h17M1147 220h8.8M1069 221h18M1095 221h26M1130 221h8M1095 222h9M1130 222h17M1087 223h34M1147 223h8.8M1087 224h51M1147 224h8.8M1069 227h78"/>
<path stroke="rgb(124,168,211)" d="M1052 106h9M1052 110h9M1069 110h9M1121 121h9M1069 128h18M1121 128h9M1147 129h8.8M1043 151h26M1087 156h17M1078 157h9M1095 157h18M1130 157h25.8M1087 158h8M1104 158h9M1095 161h35M1138 161h9M1104 163h9M1078 168h9M1130 168h8M1147 168h8.8M1113 170h17M1113 182h17M1104 185h9M1138 185h9M1104 186h9M1121 186h26M1121 190h17M1147 200h8.8M1095 201h9M1130 201h25.8M1113 210h42.8M1130 214h8M1138 215h9M1069 219h18M1095 219h9M1113 219h25M1147 219h8.8M1095 220h18M1130 220h17M1087 221h8M1121 221h9M1138 221h9M1078 224h9M1147 227h8.8"/>
<path stroke="rgb(98,144,201)" d="M1061 110h8M1147 121h8.8M1130 128h25.8M1069 151h9M1087 168h8M1104 168h26M1138 168h9M1121 185h9M1138 219h9M1147 221h8.8"/>
</g>
<rect x="1017.40" y="719.20" width="138.35" height="228.00" fill="none" stroke="#3a3a3a" stroke-width="1"/>
<path d="M1026.50 947.20V954.70" stroke="#333" stroke-width="1"/>
<text x="1026.50" y="973.50" font-size="16" text-anchor="middle" fill="#1a1a1a" textLength="8.9" lengthAdjust="spacingAndGlyphs" >0</text>
<path d="M1043.70 947.20V954.70" stroke="#333" stroke-width="1"/>
<text x="1043.70" y="973.50" font-size="16" text-anchor="middle" fill="#1a1a1a" textLength="7.0" lengthAdjust="spacingAndGlyphs" >1</text>
<path d="M1060.90 947.20V954.70" stroke="#333" stroke-width="1"/>
<text x="1060.90" y="973.50" font-size="16" text-anchor="middle" fill="#1a1a1a" textLength="8.9" lengthAdjust="spacingAndGlyphs" >2</text>
<path d="M1078.10 947.20V954.70" stroke="#333" stroke-width="1"/>
<text x="1078.10" y="973.50" font-size="16" text-anchor="middle" fill="#1a1a1a" textLength="8.9" lengthAdjust="spacingAndGlyphs" >3</text>
<path d="M1095.30 947.20V954.70" stroke="#333" stroke-width="1"/>
<text x="1095.30" y="973.50" font-size="16" text-anchor="middle" fill="#1a1a1a" textLength="8.9" lengthAdjust="spacingAndGlyphs" >4</text>
<path d="M1112.50 947.20V954.70" stroke="#333" stroke-width="1"/>
<text x="1112.50" y="973.50" font-size="16" text-anchor="middle" fill="#1a1a1a" textLength="8.9" lengthAdjust="spacingAndGlyphs" >5</text>
<path d="M1129.70 947.20V954.70" stroke="#333" stroke-width="1"/>
<text x="1129.70" y="973.50" font-size="16" text-anchor="middle" fill="#1a1a1a" textLength="8.9" lengthAdjust="spacingAndGlyphs" >6</text>
<path d="M1146.90 947.20V954.70" stroke="#333" stroke-width="1"/>
<text x="1146.90" y="973.50" font-size="16" text-anchor="middle" fill="#1a1a1a" textLength="8.9" lengthAdjust="spacingAndGlyphs" >7</text>
<rect x="1164.20" y="721.30" width="11.70" height="38.17" fill="#4470B0"/>
<rect x="1164.20" y="759.17" width="11.70" height="38.17" fill="#8FBBDD"/>
<rect x="1164.20" y="797.03" width="11.70" height="38.17" fill="#FEE391"/>
<rect x="1164.20" y="834.90" width="11.70" height="38.17" fill="#FC8D59"/>
<rect x="1164.20" y="872.77" width="11.70" height="38.17" fill="#CB181D"/>
<rect x="1164.20" y="910.63" width="11.70" height="38.17" fill="#963232"/>
<path d="M1164.20 721.30V948.50M1175.90 721.30V948.50" stroke="#333" stroke-width="0.9" fill="none"/>
<path d="M1175.90 721.30H1183.00" stroke="#333" stroke-width="1" fill="none"/>
<text x="1190.00" y="727.00" font-size="16" text-anchor="start" fill="#1a1a1a" textLength="15.9" lengthAdjust="spacingAndGlyphs" >10</text>
<path d="M1175.90 759.17H1183.00" stroke="#333" stroke-width="1" fill="none"/>
<text x="1190.00" y="764.87" font-size="16" text-anchor="start" fill="#1a1a1a" textLength="8.9" lengthAdjust="spacingAndGlyphs" >5</text>
<path d="M1175.90 797.03H1183.00" stroke="#333" stroke-width="1" fill="none"/>
<text x="1190.00" y="802.73" font-size="16" text-anchor="start" fill="#1a1a1a" textLength="8.9" lengthAdjust="spacingAndGlyphs" >0</text>
<path d="M1175.90 834.90H1183.00" stroke="#333" stroke-width="1" fill="none"/>
<text x="1190.00" y="840.60" font-size="16" text-anchor="start" fill="#1a1a1a" textLength="18.2" lengthAdjust="spacingAndGlyphs" >−5</text>
<path d="M1175.90 872.77H1183.00" stroke="#333" stroke-width="1" fill="none"/>
<text x="1190.00" y="878.47" font-size="16" text-anchor="start" fill="#1a1a1a" textLength="25.3" lengthAdjust="spacingAndGlyphs" >−10</text>
<path d="M1175.90 910.63H1183.00" stroke="#333" stroke-width="1" fill="none"/>
<text x="1190.00" y="916.33" font-size="16" text-anchor="start" fill="#1a1a1a" textLength="25.3" lengthAdjust="spacingAndGlyphs" >−15</text>
<path d="M1175.90 948.50H1183.00" stroke="#333" stroke-width="1" fill="none"/>
<text x="1190.00" y="954.20" font-size="16" text-anchor="start" fill="#1a1a1a" textLength="27.2" lengthAdjust="spacingAndGlyphs" >−20</text>
<rect x="716.50" y="718.75" width="289.00" height="228.00" fill="none" stroke="#333" stroke-width="1"/>
<path d="M711.00 718.75H716.50" stroke="#333" stroke-width="1"/>
<text x="704.70" y="724.45" font-size="16" text-anchor="end" fill="#1a1a1a" textLength="29.3" lengthAdjust="spacingAndGlyphs" >10.0</text>
<path d="M711.00 747.25H716.50" stroke="#333" stroke-width="1"/>
<text x="704.70" y="752.95" font-size="16" text-anchor="end" fill="#1a1a1a" textLength="22.3" lengthAdjust="spacingAndGlyphs" >7.5</text>
<path d="M711.00 775.75H716.50" stroke="#333" stroke-width="1"/>
<text x="704.70" y="781.45" font-size="16" text-anchor="end" fill="#1a1a1a" textLength="22.3" lengthAdjust="spacingAndGlyphs" >5.0</text>
<path d="M711.00 804.25H716.50" stroke="#333" stroke-width="1"/>
<text x="704.70" y="809.95" font-size="16" text-anchor="end" fill="#1a1a1a" textLength="22.3" lengthAdjust="spacingAndGlyphs" >2.5</text>
<path d="M711.00 832.75H716.50" stroke="#333" stroke-width="1"/>
<text x="704.70" y="838.45" font-size="16" text-anchor="end" fill="#1a1a1a" textLength="8.9" lengthAdjust="spacingAndGlyphs" >0</text>
<path d="M711.00 861.25H716.50" stroke="#333" stroke-width="1"/>
<text x="704.70" y="866.95" font-size="16" text-anchor="end" fill="#1a1a1a" textLength="31.6" lengthAdjust="spacingAndGlyphs" >−2.5</text>
<path d="M711.00 889.75H716.50" stroke="#333" stroke-width="1"/>
<text x="704.70" y="895.45" font-size="16" text-anchor="end" fill="#1a1a1a" textLength="31.6" lengthAdjust="spacingAndGlyphs" >−5.0</text>
<path d="M711.00 918.25H716.50" stroke="#333" stroke-width="1"/>
<text x="704.70" y="923.95" font-size="16" text-anchor="end" fill="#1a1a1a" textLength="31.6" lengthAdjust="spacingAndGlyphs" >−7.5</text>
<path d="M711.00 946.75H716.50" stroke="#333" stroke-width="1"/>
<text x="704.70" y="952.45" font-size="16" text-anchor="end" fill="#1a1a1a" textLength="38.6" lengthAdjust="spacingAndGlyphs" >−10.0</text>
<path d="M731.75 946.75V954.55" stroke="#333" stroke-width="1"/>
<text x="731.75" y="973.50" font-size="16" text-anchor="middle" fill="#1a1a1a" textLength="8.9" lengthAdjust="spacingAndGlyphs" >0</text>
<path d="M769.00 946.75V954.55" stroke="#333" stroke-width="1"/>
<text x="769.00" y="973.50" font-size="16" text-anchor="middle" fill="#1a1a1a" textLength="7.0" lengthAdjust="spacingAndGlyphs" >1</text>
<path d="M806.25 946.75V954.55" stroke="#333" stroke-width="1"/>
<text x="806.25" y="973.50" font-size="16" text-anchor="middle" fill="#1a1a1a" textLength="8.9" lengthAdjust="spacingAndGlyphs" >2</text>
<path d="M843.50 946.75V954.55" stroke="#333" stroke-width="1"/>
<text x="843.50" y="973.50" font-size="16" text-anchor="middle" fill="#1a1a1a" textLength="8.9" lengthAdjust="spacingAndGlyphs" >3</text>
<path d="M880.75 946.75V954.55" stroke="#333" stroke-width="1"/>
<text x="880.75" y="973.50" font-size="16" text-anchor="middle" fill="#1a1a1a" textLength="8.9" lengthAdjust="spacingAndGlyphs" >4</text>
<path d="M918.00 946.75V954.55" stroke="#333" stroke-width="1"/>
<text x="918.00" y="973.50" font-size="16" text-anchor="middle" fill="#1a1a1a" textLength="8.9" lengthAdjust="spacingAndGlyphs" >5</text>
<path d="M955.25 946.75V954.55" stroke="#333" stroke-width="1"/>
<text x="955.25" y="973.50" font-size="16" text-anchor="middle" fill="#1a1a1a" textLength="8.9" lengthAdjust="spacingAndGlyphs" >6</text>
<path d="M992.50 946.75V954.55" stroke="#333" stroke-width="1"/>
<text x="992.50" y="973.50" font-size="16" text-anchor="middle" fill="#1a1a1a" textLength="8.9" lengthAdjust="spacingAndGlyphs" >7</text>
<path d="M716.50 832.60H1005.00" stroke="#000" stroke-width="1.6" stroke-dasharray="6 3.8"/>
<path d="M731.75 818.75V885.00" stroke="#66CC66" stroke-width="3"/>
<path d="M769.00 819.25V922.50" stroke="#66CC66" stroke-width="3"/>
<path d="M806.25 797.50V885.50" stroke="#66CC66" stroke-width="3"/>
<path d="M843.50 785.75V864.50" stroke="#66CC66" stroke-width="3"/>
<path d="M880.75 788.00V861.25" stroke="#66CC66" stroke-width="3"/>
<path d="M918.00 783.50V854.25" stroke="#66CC66" stroke-width="3"/>
<path d="M955.25 780.00V850.75" stroke="#66CC66" stroke-width="3"/>
<path d="M992.50 770.75V842.00" stroke="#66CC66" stroke-width="3"/>
<circle cx="731.75" cy="855.00" r="5.1" fill="#fff" stroke="#66CC66" stroke-width="1.7"/>
<circle cx="769.00" cy="875.75" r="5.1" fill="#fff" stroke="#66CC66" stroke-width="1.7"/>
<circle cx="806.25" cy="846.25" r="5.1" fill="#fff" stroke="#66CC66" stroke-width="1.7"/>
<circle cx="843.50" cy="828.75" r="5.1" fill="#fff" stroke="#66CC66" stroke-width="1.7"/>
<circle cx="880.75" cy="827.00" r="5.1" fill="#fff" stroke="#66CC66" stroke-width="1.7"/>
<circle cx="918.00" cy="819.25" r="5.1" fill="#fff" stroke="#66CC66" stroke-width="1.7"/>
<circle cx="955.25" cy="817.00" r="5.1" fill="#fff" stroke="#66CC66" stroke-width="1.7"/>
<circle cx="992.50" cy="809.50" r="5.1" fill="#fff" stroke="#66CC66" stroke-width="1.7"/>
<path d="M769.00 875.50C775.21 871.00 793.83 855.67 806.25 848.50C818.67 841.33 831.08 836.58 843.50 832.50C855.92 828.42 868.33 826.33 880.75 824.00C893.17 821.67 905.58 819.88 918.00 818.50C930.42 817.12 942.83 816.67 955.25 815.75C967.67 814.83 986.29 813.46 992.50 813.00" fill="none" stroke="#B576A0" stroke-width="3.2" stroke-linecap="butt"/>
<path d="M867.00 735.75H886.30" stroke="#B576A0" stroke-width="3.2"/>
<text x="896.60" y="740.75" font-size="15" text-anchor="start" fill="#1a1a1a" textLength="97.0" lengthAdjust="spacingAndGlyphs" >GPP recovery</text>
<circle cx="876.60" cy="754.90" r="5.1" fill="#fff" stroke="#66CC66" stroke-width="1.7"/>
<text x="896.60" y="760.75" font-size="15" text-anchor="start" fill="#1a1a1a" textLength="73.0" lengthAdjust="spacingAndGlyphs" >Post-2010</text>
<text x="733.00" y="922.00" font-size="15" text-anchor="start" fill="#1a1a1a" textLength="99.5" lengthAdjust="spacingAndGlyphs" ><tspan font-style="italic">y</tspan> = −7.507 × 10</text>
<text x="833.75" y="914.80" font-size="9.3" text-anchor="start" fill="#1a1a1a" textLength="37.5" lengthAdjust="spacingAndGlyphs" >−0.696<tspan font-style="italic">x</tspan></text>
<text x="876.25" y="922.00" font-size="15" text-anchor="start" fill="#1a1a1a" textLength="102.4" lengthAdjust="spacingAndGlyphs" >+ (0.915)log(<tspan font-style="italic">x</tspan>)</text>
<text x="733.00" y="940.00" font-size="15" text-anchor="start" fill="#1a1a1a" textLength="62.5" lengthAdjust="spacingAndGlyphs" ><tspan font-style="italic">R</tspan><tspan dy="-7" font-size="9.3">2</tspan><tspan dy="7"> = 0.99</tspan></text>
<text transform="translate(650.30,833.70) rotate(-90)" font-size="17.3" text-anchor="middle" fill="#1a1a1a" textLength="45.0" lengthAdjust="spacingAndGlyphs"><tspan font-style="italic">d</tspan>GPP</text>
<text x="636.00" y="719.50" font-size="25" font-weight="bold" fill="#111" style="stroke:#111;stroke-width:1.1px">f</text>
<text x="99.25" y="741.25" font-size="15" text-anchor="start" fill="#1a1a1a" textLength="137.0" lengthAdjust="spacingAndGlyphs" >(× 10<tspan dy="-6" font-size="10">2</tspan><tspan dy="6"> gC m</tspan><tspan dy="-6" font-size="10">2</tspan><tspan dy="6"> year</tspan><tspan dy="-6" font-size="10">−1</tspan><tspan dy="6">)</tspan></text>
<text x="241.90" y="997.60" font-size="18.4" text-anchor="middle" fill="#1a1a1a" textLength="36.6" lengthAdjust="spacingAndGlyphs" >Year</text>
<text x="865.40" y="997.60" font-size="18.4" text-anchor="middle" fill="#1a1a1a" textLength="36.6" lengthAdjust="spacingAndGlyphs" >Year</text>
<text x="469.90" y="997.80" font-size="18.4" text-anchor="middle" fill="#1a1a1a" textLength="128.7" lengthAdjust="spacingAndGlyphs" >Years since fire</text>
<text x="1086.70" y="997.80" font-size="18.4" text-anchor="middle" fill="#1a1a1a" textLength="128.0" lengthAdjust="spacingAndGlyphs" >Years since fire</text>
<text transform="translate(1245.00,239.60) rotate(90)" font-size="17.3" text-anchor="middle" fill="#1a1a1a" textLength="53.0" lengthAdjust="spacingAndGlyphs"><tspan font-style="italic">d</tspan>NDVI</text>
<text transform="translate(1240.00,541.80) rotate(90)" font-size="17.3" text-anchor="middle" fill="#1a1a1a" textLength="37.0" lengthAdjust="spacingAndGlyphs"><tspan font-style="italic">d</tspan>LAI</text>
<text transform="translate(1239.00,834.00) rotate(90)" font-size="17.3" text-anchor="middle" fill="#1a1a1a" textLength="45.0" lengthAdjust="spacingAndGlyphs"><tspan font-style="italic">d</tspan>GPP</text>
</svg>
</body></html>
